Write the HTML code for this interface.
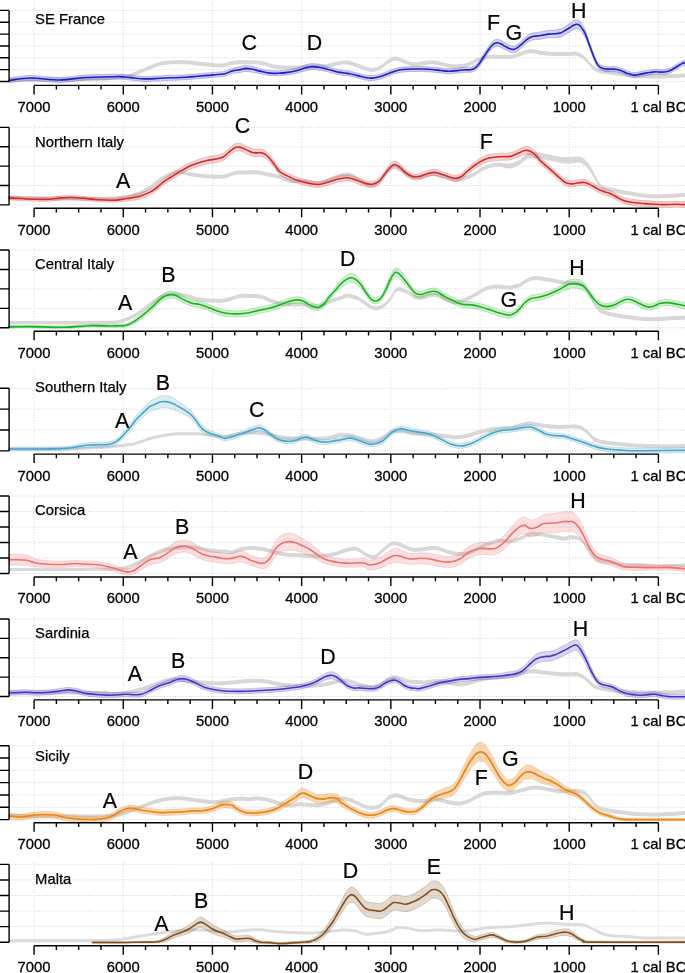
<!DOCTYPE html><html><head><meta charset="utf-8"><style>html,body{margin:0;padding:0;background:#fff;width:685px;height:973px;overflow:hidden}svg{display:block;will-change:transform}text{font-family:"Liberation Sans",sans-serif;fill:#000}</style></head><body>
<svg width="685" height="973" viewBox="0 0 685 973">
<g><path d="M9.1,10.40H685 M9.1,22.25H685 M9.1,34.10H685 M9.1,45.95H685 M9.1,57.80H685 M9.1,69.65H685 M9.1,81.50H685 M658.40,2.4V85.4 M569.21,2.4V85.4 M480.02,2.4V85.4 M390.83,2.4V85.4 M301.64,2.4V85.4 M212.45,2.4V85.4 M123.26,2.4V85.4 M34.07,2.4V85.4" stroke="#d3d3d3" stroke-width="1" stroke-dasharray="1 1.72" fill="none"/><path d="M9.0,78.2 C17.5,78.1 44.8,77.8 60.0,77.6 C75.2,77.4 90.0,77.2 100.0,76.8 C110.0,76.4 115.2,75.7 120.0,75.2 C124.8,74.7 125.9,74.6 128.8,73.9 C131.7,73.2 134.6,72.0 137.5,70.8 C140.4,69.6 143.4,68.1 146.3,66.9 C149.2,65.7 152.1,64.4 155.0,63.4 C157.9,62.4 160.9,61.6 163.8,61.1 C166.7,60.6 169.7,60.4 172.6,60.3 C175.5,60.2 178.4,60.2 181.3,60.3 C184.2,60.3 187.2,60.4 190.1,60.6 C193.0,60.8 195.9,61.4 198.8,61.7 C201.7,62.0 204.7,62.1 207.6,62.4 C210.5,62.7 213.5,63.3 216.4,63.4 C219.3,63.5 222.0,63.4 225.1,62.9 C228.2,62.4 231.9,61.0 235.0,60.6 C238.1,60.2 240.9,60.3 243.8,60.3 C246.7,60.2 249.6,60.2 252.5,60.3 C255.4,60.4 258.4,60.6 261.3,61.1 C264.2,61.6 267.1,62.7 270.0,63.4 C272.9,64.1 275.9,64.9 278.8,65.2 C281.7,65.5 284.7,65.5 287.6,65.5 C290.5,65.5 293.4,65.5 296.3,65.5 C299.2,65.5 302.2,65.4 305.1,65.2 C308.0,65.0 310.9,64.7 313.8,64.6 C316.7,64.5 319.7,64.9 322.6,64.6 C325.5,64.3 328.5,63.5 331.4,62.9 C334.3,62.3 337.8,61.5 340.1,61.1 C342.4,60.7 343.4,60.6 345.0,60.6 C346.6,60.6 347.9,60.4 350.0,60.9 C352.1,61.4 355.1,62.6 357.6,63.6 C360.1,64.5 362.7,65.9 365.2,66.6 C367.7,67.3 370.3,68.1 372.8,67.9 C375.3,67.7 377.9,66.8 380.4,65.5 C382.9,64.2 385.5,61.3 388.0,59.8 C390.5,58.3 393.0,56.6 395.5,56.5 C398.0,56.4 400.6,58.1 403.1,59.0 C405.6,59.9 407.9,61.2 410.7,61.7 C413.5,62.2 416.7,61.9 420.2,61.7 C423.7,61.5 428.1,60.3 431.6,60.3 C435.1,60.3 437.9,61.1 441.1,61.7 C444.3,62.3 447.4,63.7 450.6,64.1 C453.8,64.5 457.7,64.2 460.1,64.1 C462.5,64.0 463.4,63.7 465.0,63.3 C466.6,62.9 468.1,62.5 470.0,61.7 C471.9,60.9 474.1,59.6 476.1,58.6 C478.2,57.6 480.0,56.6 482.3,56.0 C484.6,55.4 487.3,55.0 489.9,54.8 C492.4,54.6 495.0,54.8 497.6,54.8 C500.2,54.8 502.8,55.1 505.3,55.1 C507.9,55.1 510.3,55.0 512.9,54.5 C515.4,54.0 518.0,52.9 520.6,52.0 C523.2,51.1 525.9,49.8 528.2,49.4 C530.5,49.0 532.1,49.1 534.4,49.4 C536.7,49.7 539.2,50.6 542.0,51.0 C544.8,51.4 547.9,51.8 551.2,52.0 C554.5,52.2 558.9,52.0 562.0,52.0 C565.1,52.0 567.8,52.1 570.0,52.0 C572.2,51.9 573.5,51.3 575.3,51.5 C577.0,51.7 578.9,52.4 580.5,53.3 C582.1,54.2 583.4,55.4 584.9,56.8 C586.4,58.2 587.8,60.1 589.3,61.6 C590.8,63.1 592.1,64.8 593.6,66.0 C595.1,67.2 596.4,68.0 598.0,68.6 C599.6,69.2 601.4,69.5 603.3,69.8 C605.2,70.1 607.2,70.1 609.4,70.4 C611.6,70.7 614.2,71.1 616.4,71.4 C618.6,71.7 620.3,72.0 622.6,72.3 C624.9,72.6 627.1,72.9 630.0,73.2 C632.9,73.5 635.0,74.0 640.0,74.2 C645.0,74.4 652.5,74.6 660.0,74.5 C667.5,74.4 680.8,73.7 685.0,73.5 L685.0,77.5 C680.8,77.7 667.5,78.4 660.0,78.5 C652.5,78.6 645.0,78.4 640.0,78.2 C635.0,78.0 632.9,77.5 630.0,77.2 C627.1,76.9 624.9,76.6 622.6,76.3 C620.3,76.0 618.6,75.7 616.4,75.4 C614.2,75.1 611.6,74.7 609.4,74.4 C607.2,74.1 605.2,74.1 603.3,73.8 C601.4,73.5 599.6,73.2 598.0,72.6 C596.4,72.0 595.1,71.2 593.6,70.0 C592.1,68.8 590.8,67.1 589.3,65.6 C587.8,64.1 586.4,62.2 584.9,60.8 C583.4,59.4 582.1,58.2 580.5,57.3 C578.9,56.4 577.0,55.7 575.3,55.5 C573.5,55.3 572.2,55.9 570.0,56.0 C567.8,56.1 565.1,56.0 562.0,56.0 C558.9,56.0 554.5,56.2 551.2,56.0 C547.9,55.8 544.8,55.4 542.0,55.0 C539.2,54.6 536.7,53.7 534.4,53.4 C532.1,53.1 530.5,53.0 528.2,53.4 C525.9,53.8 523.2,55.1 520.6,56.0 C518.0,56.9 515.4,58.0 512.9,58.5 C510.3,59.0 507.9,59.1 505.3,59.1 C502.8,59.1 500.2,58.8 497.6,58.8 C495.0,58.8 492.4,58.6 489.9,58.8 C487.3,59.0 484.6,59.4 482.3,60.0 C480.0,60.6 478.2,61.6 476.1,62.6 C474.1,63.6 471.9,64.9 470.0,65.7 C468.1,66.5 466.6,66.9 465.0,67.3 C463.4,67.7 462.5,68.0 460.1,68.1 C457.7,68.2 453.8,68.5 450.6,68.1 C447.4,67.7 444.3,66.3 441.1,65.7 C437.9,65.1 435.1,64.3 431.6,64.3 C428.1,64.3 423.7,65.5 420.2,65.7 C416.7,65.9 413.5,66.2 410.7,65.7 C407.9,65.2 405.6,63.9 403.1,63.0 C400.6,62.1 398.0,60.4 395.5,60.5 C393.0,60.6 390.5,62.3 388.0,63.8 C385.5,65.3 382.9,68.2 380.4,69.5 C377.9,70.8 375.3,71.7 372.8,71.9 C370.3,72.1 367.7,71.3 365.2,70.6 C362.7,69.9 360.1,68.5 357.6,67.6 C355.1,66.6 352.1,65.4 350.0,64.9 C347.9,64.4 346.6,64.6 345.0,64.6 C343.4,64.6 342.4,64.7 340.1,65.1 C337.8,65.5 334.3,66.3 331.4,66.9 C328.5,67.5 325.5,68.3 322.6,68.6 C319.7,68.9 316.7,68.5 313.8,68.6 C310.9,68.7 308.0,69.0 305.1,69.2 C302.2,69.4 299.2,69.5 296.3,69.5 C293.4,69.5 290.5,69.5 287.6,69.5 C284.7,69.5 281.7,69.5 278.8,69.2 C275.9,68.9 272.9,68.1 270.0,67.4 C267.1,66.7 264.2,65.6 261.3,65.1 C258.4,64.6 255.4,64.4 252.5,64.3 C249.6,64.2 246.7,64.2 243.8,64.3 C240.9,64.3 238.1,64.2 235.0,64.6 C231.9,65.0 228.2,66.4 225.1,66.9 C222.0,67.4 219.3,67.5 216.4,67.4 C213.5,67.3 210.5,66.7 207.6,66.4 C204.7,66.1 201.7,66.0 198.8,65.7 C195.9,65.4 193.0,64.8 190.1,64.6 C187.2,64.4 184.2,64.3 181.3,64.3 C178.4,64.2 175.5,64.2 172.6,64.3 C169.7,64.4 166.7,64.6 163.8,65.1 C160.9,65.6 157.9,66.4 155.0,67.4 C152.1,68.4 149.2,69.7 146.3,70.9 C143.4,72.1 140.4,73.6 137.5,74.8 C134.6,76.0 131.7,77.2 128.8,77.9 C125.9,78.6 124.8,78.7 120.0,79.2 C115.2,79.7 110.0,80.4 100.0,80.8 C90.0,81.2 75.2,81.4 60.0,81.6 C44.8,81.8 17.5,82.1 9.0,82.2 Z" fill="#d8d8d8" stroke="none"/><path d="M9.0,78.0 C12.5,77.6 21.5,75.6 30.0,75.5 C38.5,75.4 50.8,77.6 60.0,77.5 C69.2,77.4 76.7,75.5 85.0,75.0 C93.3,74.5 104.2,74.5 110.0,74.3 C115.8,74.1 117.2,74.0 120.0,74.1 C122.8,74.2 124.7,74.5 127.0,74.7 C129.3,74.9 131.1,75.2 134.0,75.5 C136.9,75.8 141.0,76.3 144.5,76.4 C148.0,76.5 151.5,76.2 155.0,76.1 C158.5,75.9 162.0,75.7 165.5,75.5 C169.0,75.3 172.5,75.3 176.0,75.2 C179.5,75.1 183.1,74.9 186.6,74.7 C190.1,74.5 193.6,74.1 197.1,73.8 C200.6,73.5 204.1,73.2 207.6,72.9 C211.1,72.6 215.2,72.3 218.1,72.0 C221.0,71.7 222.8,71.8 225.1,71.2 C227.4,70.6 229.6,69.3 232.1,68.5 C234.6,67.7 238.1,67.1 240.3,66.6 C242.5,66.1 243.5,65.5 245.5,65.4 C247.5,65.4 249.9,65.7 252.5,66.3 C255.1,66.9 258.4,68.2 261.3,68.9 C264.2,69.6 267.1,70.3 270.0,70.6 C272.9,70.9 275.9,70.9 278.8,70.8 C281.7,70.7 284.7,70.3 287.6,69.9 C290.5,69.5 293.4,69.0 296.3,68.2 C299.2,67.4 302.5,65.8 305.1,65.0 C307.7,64.2 309.8,63.7 312.1,63.6 C314.4,63.5 316.8,63.7 319.1,64.2 C321.4,64.7 323.8,65.7 326.1,66.4 C328.4,67.1 330.8,67.6 333.1,68.2 C335.4,68.8 338.0,69.5 340.1,69.9 C342.2,70.3 344.4,70.5 346.0,70.7 C347.6,70.9 348.1,70.8 350.0,71.2 C351.9,71.6 355.1,72.5 357.6,73.1 C360.1,73.7 362.7,74.6 365.2,75.0 C367.7,75.4 370.3,75.8 372.8,75.6 C375.3,75.4 377.9,74.8 380.4,74.1 C382.9,73.4 385.5,72.2 388.0,71.2 C390.5,70.2 393.0,69.1 395.5,68.4 C398.0,67.7 400.2,67.3 403.1,67.0 C406.0,66.7 409.4,66.6 412.6,66.5 C415.8,66.4 418.9,66.4 422.1,66.5 C425.3,66.6 428.4,66.8 431.6,67.0 C434.8,67.2 438.2,67.7 441.1,68.0 C444.0,68.3 445.9,68.8 448.7,68.8 C451.5,68.8 455.5,68.2 458.2,68.0 C460.9,67.8 463.0,67.4 465.0,67.3 C467.0,67.2 468.4,67.5 470.0,67.3 C471.6,67.0 473.1,66.9 474.6,65.8 C476.1,64.7 477.7,62.9 479.2,60.9 C480.7,58.9 482.3,56.2 483.8,53.8 C485.3,51.4 486.9,48.8 488.4,46.7 C489.9,44.6 491.6,42.4 493.0,41.1 C494.4,39.9 495.5,39.3 496.8,39.2 C498.1,39.1 499.3,39.7 500.7,40.3 C502.1,40.9 503.8,42.1 505.3,43.0 C506.8,43.9 508.5,45.0 509.9,45.5 C511.3,46.0 512.4,46.3 513.7,46.1 C515.0,45.9 516.1,45.3 517.5,44.3 C518.9,43.4 520.6,41.8 522.1,40.4 C523.6,39.0 525.2,37.3 526.7,36.1 C528.2,34.9 529.8,34.0 531.3,33.4 C532.8,32.8 534.1,32.9 535.9,32.6 C537.7,32.3 540.0,32.1 542.0,31.7 C544.0,31.3 546.2,30.7 548.2,30.4 C550.2,30.1 552.3,30.2 554.3,30.0 C556.3,29.8 558.6,29.7 560.4,29.1 C562.2,28.5 563.4,27.5 565.0,26.5 C566.6,25.5 568.6,24.2 570.0,23.3 C571.4,22.4 572.4,21.5 573.5,20.9 C574.6,20.3 575.6,19.8 576.6,19.8 C577.6,19.8 578.5,19.8 579.6,20.8 C580.7,21.8 582.1,24.1 583.1,25.9 C584.1,27.7 584.9,29.4 585.8,31.6 C586.7,33.8 587.5,36.7 588.4,39.2 C589.3,41.7 590.1,44.0 591.0,46.4 C591.9,48.8 592.7,51.5 593.6,53.7 C594.5,55.9 595.4,58.1 596.3,59.8 C597.2,61.5 597.9,62.7 598.9,63.7 C599.9,64.7 601.1,65.3 602.4,65.8 C603.7,66.3 605.2,66.5 606.8,66.6 C608.4,66.7 610.2,66.5 612.0,66.6 C613.8,66.7 615.5,66.6 617.3,67.0 C619.1,67.4 620.9,68.1 622.6,68.8 C624.4,69.5 626.2,70.5 627.8,71.1 C629.4,71.7 630.7,72.0 632.0,72.3 C633.3,72.5 634.0,72.7 635.4,72.6 C636.8,72.5 638.8,71.9 640.5,71.6 C642.2,71.3 644.0,70.9 645.7,70.6 C647.4,70.3 649.1,70.1 650.8,69.9 C652.5,69.7 654.2,69.3 655.9,69.3 C657.6,69.2 659.3,69.6 661.0,69.6 C662.7,69.6 664.4,69.6 666.1,69.3 C667.8,69.0 669.5,68.3 671.2,67.5 C672.9,66.7 674.6,65.5 676.3,64.5 C678.0,63.5 679.9,62.1 681.4,61.4 C682.9,60.7 684.4,60.3 685.0,60.1 L685.0,65.1 C684.4,65.3 682.9,65.7 681.4,66.4 C679.9,67.1 678.0,68.5 676.3,69.5 C674.6,70.5 672.9,71.7 671.2,72.5 C669.5,73.3 667.8,74.0 666.1,74.3 C664.4,74.6 662.7,74.6 661.0,74.6 C659.3,74.6 657.6,74.2 655.9,74.3 C654.2,74.3 652.5,74.7 650.8,74.9 C649.1,75.1 647.4,75.3 645.7,75.6 C644.0,75.9 642.2,76.3 640.5,76.6 C638.8,76.9 636.8,77.5 635.4,77.6 C634.0,77.7 633.3,77.5 632.0,77.3 C630.7,77.0 629.4,76.7 627.8,76.1 C626.2,75.5 624.4,74.5 622.6,73.8 C620.9,73.1 619.1,72.4 617.3,72.0 C615.5,71.6 613.8,71.7 612.0,71.6 C610.2,71.5 608.4,71.7 606.8,71.6 C605.2,71.5 603.7,71.3 602.4,70.8 C601.1,70.3 599.9,69.7 598.9,68.7 C597.9,67.7 597.2,66.5 596.3,64.8 C595.4,63.1 594.5,60.8 593.6,58.7 C592.7,56.6 591.9,54.2 591.0,52.0 C590.1,49.8 589.3,47.4 588.4,45.2 C587.5,43.0 586.7,40.5 585.8,38.6 C584.9,36.7 584.1,35.4 583.1,33.9 C582.1,32.4 580.7,30.6 579.6,29.8 C578.5,29.0 577.6,28.8 576.6,28.8 C575.6,28.8 574.6,29.2 573.5,29.7 C572.4,30.2 571.4,30.9 570.0,31.7 C568.6,32.5 566.6,33.6 565.0,34.5 C563.4,35.4 562.2,36.4 560.4,36.9 C558.6,37.4 556.3,37.4 554.3,37.6 C552.3,37.7 550.2,37.6 548.2,37.8 C546.2,38.0 544.0,38.6 542.0,38.9 C540.0,39.2 537.7,39.4 535.9,39.6 C534.1,39.9 532.8,39.8 531.3,40.4 C529.8,41.0 528.2,42.0 526.7,43.1 C525.2,44.2 523.6,45.9 522.1,47.2 C520.6,48.5 518.9,50.0 517.5,50.9 C516.1,51.8 515.0,52.5 513.7,52.7 C512.4,52.9 511.3,52.6 509.9,52.1 C508.5,51.6 506.8,50.6 505.3,49.8 C503.8,49.0 502.1,47.9 500.7,47.3 C499.3,46.7 498.1,46.1 496.8,46.2 C495.5,46.3 494.4,46.8 493.0,47.9 C491.6,49.0 489.9,51.1 488.4,53.1 C486.9,55.1 485.3,57.6 483.8,59.8 C482.3,62.0 480.7,64.7 479.2,66.5 C477.7,68.3 476.1,69.8 474.6,70.8 C473.1,71.8 471.6,72.0 470.0,72.3 C468.4,72.5 467.0,72.2 465.0,72.3 C463.0,72.4 460.9,72.8 458.2,73.0 C455.5,73.2 451.5,73.8 448.7,73.8 C445.9,73.8 444.0,73.3 441.1,73.0 C438.2,72.7 434.8,72.2 431.6,72.0 C428.4,71.8 425.3,71.6 422.1,71.5 C418.9,71.4 415.8,71.4 412.6,71.5 C409.4,71.6 406.0,71.7 403.1,72.0 C400.2,72.3 398.0,72.7 395.5,73.4 C393.0,74.1 390.5,75.2 388.0,76.2 C385.5,77.2 382.9,78.4 380.4,79.1 C377.9,79.8 375.3,80.4 372.8,80.6 C370.3,80.8 367.7,80.4 365.2,80.0 C362.7,79.6 360.1,78.7 357.6,78.1 C355.1,77.5 351.9,76.6 350.0,76.2 C348.1,75.8 347.6,75.9 346.0,75.7 C344.4,75.5 342.2,75.3 340.1,74.9 C338.0,74.5 335.4,73.8 333.1,73.2 C330.8,72.6 328.4,71.9 326.1,71.4 C323.8,70.9 321.4,70.5 319.1,70.2 C316.8,69.9 314.4,69.5 312.1,69.6 C309.8,69.7 307.7,70.4 305.1,71.0 C302.5,71.6 299.2,72.5 296.3,73.2 C293.4,73.9 290.5,74.5 287.6,74.9 C284.7,75.3 281.7,75.7 278.8,75.8 C275.9,75.9 272.9,75.9 270.0,75.6 C267.1,75.3 264.2,74.5 261.3,73.9 C258.4,73.4 255.1,72.7 252.5,72.3 C249.9,71.9 247.5,71.4 245.5,71.4 C243.5,71.5 242.5,72.2 240.3,72.6 C238.1,72.9 234.6,72.9 232.1,73.5 C229.6,74.1 227.4,75.6 225.1,76.2 C222.8,76.8 221.0,76.7 218.1,77.0 C215.2,77.3 211.1,77.6 207.6,77.9 C204.1,78.2 200.6,78.5 197.1,78.8 C193.6,79.1 190.1,79.5 186.6,79.7 C183.1,79.9 179.5,80.1 176.0,80.2 C172.5,80.3 169.0,80.3 165.5,80.5 C162.0,80.7 158.5,80.9 155.0,81.1 C151.5,81.2 148.0,81.5 144.5,81.4 C141.0,81.3 136.9,80.8 134.0,80.5 C131.1,80.2 129.3,79.9 127.0,79.7 C124.7,79.5 122.8,79.2 120.0,79.1 C117.2,79.0 115.8,79.1 110.0,79.3 C104.2,79.5 93.3,79.5 85.0,80.0 C76.7,80.5 69.2,82.4 60.0,82.5 C50.8,82.6 38.5,80.4 30.0,80.5 C21.5,80.6 12.5,82.6 9.0,83.0 Z" fill="#1e1ec8" fill-opacity="0.2" stroke="#1e1ec8" stroke-opacity="0.25" stroke-width="1"/><path d="M9.0,80.5 C12.5,80.1 21.5,78.1 30.0,78.0 C38.5,77.9 50.8,80.1 60.0,80.0 C69.2,79.9 76.7,78.0 85.0,77.5 C93.3,77.0 104.2,77.0 110.0,76.8 C115.8,76.6 117.2,76.5 120.0,76.6 C122.8,76.7 124.7,77.0 127.0,77.2 C129.3,77.4 131.1,77.7 134.0,78.0 C136.9,78.3 141.0,78.8 144.5,78.9 C148.0,79.0 151.5,78.8 155.0,78.6 C158.5,78.4 162.0,78.2 165.5,78.0 C169.0,77.8 172.5,77.8 176.0,77.7 C179.5,77.6 183.1,77.4 186.6,77.2 C190.1,77.0 193.6,76.6 197.1,76.3 C200.6,76.0 204.1,75.7 207.6,75.4 C211.1,75.1 215.2,74.8 218.1,74.5 C221.0,74.2 222.8,74.3 225.1,73.7 C227.4,73.1 229.6,71.7 232.1,71.0 C234.6,70.3 238.1,70.0 240.3,69.6 C242.5,69.2 243.5,68.5 245.5,68.4 C247.5,68.4 249.9,68.8 252.5,69.3 C255.1,69.8 258.4,70.8 261.3,71.4 C264.2,72.0 267.1,72.8 270.0,73.1 C272.9,73.4 275.9,73.4 278.8,73.3 C281.7,73.2 284.7,72.8 287.6,72.4 C290.5,72.0 293.4,71.4 296.3,70.7 C299.2,70.0 302.5,68.7 305.1,68.0 C307.7,67.3 309.8,66.7 312.1,66.6 C314.4,66.5 316.8,66.8 319.1,67.2 C321.4,67.6 323.8,68.3 326.1,68.9 C328.4,69.5 330.8,70.1 333.1,70.7 C335.4,71.3 338.0,72.0 340.1,72.4 C342.2,72.8 344.4,73.0 346.0,73.2 C347.6,73.4 348.1,73.3 350.0,73.7 C351.9,74.1 355.1,75.0 357.6,75.6 C360.1,76.2 362.7,77.1 365.2,77.5 C367.7,77.9 370.3,78.2 372.8,78.1 C375.3,77.9 377.9,77.3 380.4,76.6 C382.9,75.9 385.5,74.7 388.0,73.7 C390.5,72.8 393.0,71.6 395.5,70.9 C398.0,70.2 400.2,69.8 403.1,69.5 C406.0,69.2 409.4,69.1 412.6,69.0 C415.8,68.9 418.9,68.9 422.1,69.0 C425.3,69.1 428.4,69.2 431.6,69.5 C434.8,69.8 438.2,70.2 441.1,70.5 C444.0,70.8 445.9,71.3 448.7,71.3 C451.5,71.3 455.5,70.8 458.2,70.5 C460.9,70.2 463.0,69.9 465.0,69.8 C467.0,69.7 468.4,70.0 470.0,69.8 C471.6,69.5 473.1,69.3 474.6,68.3 C476.1,67.3 477.7,65.6 479.2,63.7 C480.7,61.8 482.3,59.1 483.8,56.8 C485.3,54.5 486.9,51.9 488.4,49.9 C489.9,47.9 491.6,45.7 493.0,44.5 C494.4,43.3 495.5,42.8 496.8,42.7 C498.1,42.6 499.3,43.2 500.7,43.8 C502.1,44.4 503.8,45.6 505.3,46.4 C506.8,47.2 508.5,48.3 509.9,48.8 C511.3,49.3 512.4,49.6 513.7,49.4 C515.0,49.2 516.1,48.5 517.5,47.6 C518.9,46.7 520.6,45.1 522.1,43.8 C523.6,42.5 525.2,40.8 526.7,39.6 C528.2,38.5 529.8,37.5 531.3,36.9 C532.8,36.3 534.1,36.4 535.9,36.1 C537.7,35.8 540.0,35.6 542.0,35.3 C544.0,35.0 546.2,34.4 548.2,34.1 C550.2,33.9 552.3,34.0 554.3,33.8 C556.3,33.6 558.6,33.5 560.4,33.0 C562.2,32.5 563.4,31.4 565.0,30.5 C566.6,29.6 568.6,28.4 570.0,27.5 C571.4,26.6 572.4,25.8 573.5,25.3 C574.6,24.8 575.6,24.3 576.6,24.3 C577.6,24.3 578.5,24.4 579.6,25.3 C580.7,26.2 582.1,28.3 583.1,29.9 C584.1,31.5 584.9,33.0 585.8,35.1 C586.7,37.2 587.5,39.9 588.4,42.2 C589.3,44.6 590.1,46.9 591.0,49.2 C591.9,51.5 592.7,54.0 593.6,56.2 C594.5,58.4 595.4,60.6 596.3,62.3 C597.2,64.0 597.9,65.2 598.9,66.2 C599.9,67.2 601.1,67.8 602.4,68.3 C603.7,68.8 605.2,69.0 606.8,69.1 C608.4,69.2 610.2,69.0 612.0,69.1 C613.8,69.2 615.5,69.1 617.3,69.5 C619.1,69.9 620.9,70.6 622.6,71.3 C624.4,72.0 626.2,73.0 627.8,73.6 C629.4,74.2 630.7,74.5 632.0,74.8 C633.3,75.0 634.0,75.2 635.4,75.1 C636.8,75.0 638.8,74.4 640.5,74.1 C642.2,73.8 644.0,73.4 645.7,73.1 C647.4,72.8 649.1,72.6 650.8,72.4 C652.5,72.2 654.2,71.8 655.9,71.8 C657.6,71.8 659.3,72.1 661.0,72.1 C662.7,72.1 664.4,72.1 666.1,71.8 C667.8,71.5 669.5,70.8 671.2,70.0 C672.9,69.2 674.6,68.0 676.3,67.0 C678.0,66.0 679.9,64.6 681.4,63.9 C682.9,63.2 684.4,62.8 685.0,62.6" stroke="#1e1ec8" stroke-width="1.6" fill="none" stroke-linejoin="round" stroke-linecap="round"/><path d="M9.10,10.40V81.50 M0,10.40H9.10 M0,22.25H9.10 M0,34.10H9.10 M0,45.95H9.10 M0,57.80H9.10 M0,69.65H9.10 M0,81.50H9.10 M34.07,85.40H658.40 M658.40,85.40V94.40 M636.10,85.40V89.60 M613.80,85.40V89.60 M591.51,85.40V89.60 M569.21,85.40V94.40 M546.91,85.40V89.60 M524.62,85.40V89.60 M502.32,85.40V89.60 M480.02,85.40V94.40 M457.72,85.40V89.60 M435.42,85.40V89.60 M413.13,85.40V89.60 M390.83,85.40V94.40 M368.53,85.40V89.60 M346.23,85.40V89.60 M323.94,85.40V89.60 M301.64,85.40V94.40 M279.34,85.40V89.60 M257.04,85.40V89.60 M234.75,85.40V89.60 M212.45,85.40V94.40 M190.15,85.40V89.60 M167.85,85.40V89.60 M145.56,85.40V89.60 M123.26,85.40V94.40 M100.96,85.40V89.60 M78.66,85.40V89.60 M56.37,85.40V89.60 M34.07,85.40V94.40" stroke="#000" stroke-width="1.4" fill="none" stroke-linecap="butt"/><text x="658.40" y="111.85" font-size="14.8" text-anchor="middle" stroke="#000" stroke-width="0.3">1 cal BC</text><text x="569.21" y="111.85" font-size="14.8" text-anchor="middle" stroke="#000" stroke-width="0.3">1000</text><text x="480.02" y="111.85" font-size="14.8" text-anchor="middle" stroke="#000" stroke-width="0.3">2000</text><text x="390.83" y="111.85" font-size="14.8" text-anchor="middle" stroke="#000" stroke-width="0.3">3000</text><text x="301.64" y="111.85" font-size="14.8" text-anchor="middle" stroke="#000" stroke-width="0.3">4000</text><text x="212.45" y="111.85" font-size="14.8" text-anchor="middle" stroke="#000" stroke-width="0.3">5000</text><text x="123.26" y="111.85" font-size="14.8" text-anchor="middle" stroke="#000" stroke-width="0.3">6000</text><text x="34.07" y="111.85" font-size="14.8" text-anchor="middle" stroke="#000" stroke-width="0.3">7000</text><text x="35.1" y="23.60" font-size="14.8" stroke="#000" stroke-width="0.25">SE France</text><text x="249.20" y="50.30" font-size="21.4" text-anchor="middle" stroke="#000" stroke-width="0.2">C</text><text x="314.40" y="50.10" font-size="21.4" text-anchor="middle" stroke="#000" stroke-width="0.2">D</text><text x="493.50" y="29.90" font-size="21.4" text-anchor="middle" stroke="#000" stroke-width="0.2">F</text><text x="513.70" y="39.90" font-size="21.4" text-anchor="middle" stroke="#000" stroke-width="0.2">G</text><text x="578.80" y="17.80" font-size="21.4" text-anchor="middle" stroke="#000" stroke-width="0.2">H</text></g>
<g><path d="M9.1,127.40H685 M9.1,146.78H685 M9.1,166.15H685 M9.1,185.53H685 M9.1,204.90H685 M658.40,125.3V208.3 M569.21,125.3V208.3 M480.02,125.3V208.3 M390.83,125.3V208.3 M301.64,125.3V208.3 M212.45,125.3V208.3 M123.26,125.3V208.3 M34.07,125.3V208.3" stroke="#d3d3d3" stroke-width="1" stroke-dasharray="1 1.72" fill="none"/><path d="M9.0,196.0 C17.5,196.1 44.8,196.4 60.0,196.5 C75.2,196.6 91.7,196.8 100.0,196.8 C108.3,196.8 105.0,197.1 110.0,196.7 C115.0,196.3 125.0,195.1 130.0,194.2 C135.0,193.3 136.7,192.5 140.0,191.1 C143.3,189.7 146.7,187.7 150.0,185.5 C153.3,183.3 156.7,180.0 160.0,177.8 C163.3,175.6 166.7,173.5 170.0,172.2 C173.3,170.9 176.7,170.0 180.0,170.0 C183.3,170.0 185.8,171.5 190.0,172.2 C194.2,172.9 199.4,173.8 205.0,174.2 C210.6,174.6 218.4,175.0 223.4,174.5 C228.4,174.0 231.1,171.7 235.0,171.0 C238.9,170.3 242.8,170.6 246.7,170.5 C250.6,170.4 254.5,170.1 258.4,170.5 C262.3,170.9 266.4,172.0 270.0,172.8 C273.6,173.6 276.7,174.1 280.0,175.1 C283.3,176.1 286.7,178.2 290.0,178.9 C293.3,179.6 296.7,178.7 300.0,179.0 C303.3,179.3 306.9,180.1 310.0,180.5 C313.1,180.9 315.7,181.7 318.7,181.4 C321.7,181.1 324.9,179.7 328.0,178.5 C331.1,177.3 334.3,175.4 337.4,174.4 C340.5,173.4 344.3,172.8 346.7,172.6 C349.1,172.4 350.1,172.7 352.0,173.5 C353.9,174.3 356.2,176.0 358.4,177.3 C360.6,178.6 362.7,180.5 365.0,181.5 C367.3,182.5 370.2,183.2 372.4,183.1 C374.6,183.0 376.0,182.7 378.0,181.0 C380.0,179.3 381.8,175.8 384.4,172.9 C387.0,170.0 391.0,164.5 393.7,163.5 C396.4,162.5 398.0,165.2 400.7,167.0 C403.4,168.8 407.0,172.6 410.1,174.0 C413.2,175.4 415.9,175.5 419.4,175.2 C422.9,174.9 427.2,172.4 431.1,172.2 C435.0,172.0 438.9,173.1 442.8,174.0 C446.7,174.9 451.0,177.1 454.5,177.5 C458.0,177.9 460.7,177.2 463.8,176.4 C466.9,175.6 470.0,174.5 473.1,172.9 C476.2,171.3 479.4,168.6 482.5,167.0 C485.6,165.4 488.9,164.2 491.8,163.5 C494.7,162.8 497.0,162.8 500.0,162.8 C503.0,162.8 506.7,164.1 510.0,163.5 C513.3,162.9 517.0,161.2 520.0,159.4 C523.0,157.7 525.5,154.2 528.0,153.0 C530.5,151.8 532.2,152.2 535.0,152.3 C537.8,152.4 541.7,153.2 545.0,153.8 C548.3,154.4 551.7,155.1 555.0,155.7 C558.3,156.3 561.7,157.1 565.0,157.2 C568.3,157.3 572.5,156.6 575.0,156.5 C577.5,156.4 578.3,156.2 580.0,156.7 C581.7,157.2 583.3,158.1 585.0,159.6 C586.7,161.1 588.3,163.2 590.0,165.7 C591.7,168.2 593.3,171.8 595.0,174.7 C596.7,177.6 598.3,181.2 600.0,183.1 C601.7,185.0 602.5,185.3 605.0,186.2 C607.5,187.1 611.7,187.7 615.0,188.4 C618.3,189.1 620.8,189.8 625.0,190.6 C629.2,191.4 635.8,192.5 640.0,193.1 C644.2,193.7 646.7,194.1 650.0,194.3 C653.3,194.5 656.7,194.4 660.0,194.3 C663.3,194.2 665.8,194.2 670.0,194.0 C674.2,193.8 682.5,193.2 685.0,193.1 L685.0,197.1 C682.5,197.2 674.2,197.8 670.0,198.0 C665.8,198.2 663.3,198.2 660.0,198.3 C656.7,198.4 653.3,198.5 650.0,198.3 C646.7,198.1 644.2,197.7 640.0,197.1 C635.8,196.5 629.2,195.4 625.0,194.6 C620.8,193.8 618.3,193.1 615.0,192.4 C611.7,191.7 607.5,191.0 605.0,190.2 C602.5,189.4 601.7,189.2 600.0,187.5 C598.3,185.8 596.7,182.4 595.0,179.7 C593.3,177.0 591.7,173.7 590.0,171.3 C588.3,169.0 586.7,167.0 585.0,165.6 C583.3,164.2 581.7,163.1 580.0,162.7 C578.3,162.2 577.5,162.7 575.0,162.9 C572.5,163.0 568.3,163.8 565.0,163.6 C561.7,163.4 558.3,162.3 555.0,161.7 C551.7,161.1 548.3,160.4 545.0,159.8 C541.7,159.2 537.8,158.5 535.0,158.3 C532.2,158.1 530.5,157.6 528.0,158.6 C525.5,159.6 523.0,162.8 520.0,164.4 C517.0,166.1 513.3,168.1 510.0,168.5 C506.7,168.9 503.0,167.0 500.0,166.8 C497.0,166.6 494.7,166.8 491.8,167.5 C488.9,168.2 485.6,169.4 482.5,171.0 C479.4,172.6 476.2,175.3 473.1,176.9 C470.0,178.5 466.9,179.6 463.8,180.4 C460.7,181.2 458.0,181.9 454.5,181.5 C451.0,181.1 446.7,178.9 442.8,178.0 C438.9,177.1 435.0,176.0 431.1,176.2 C427.2,176.4 422.9,178.9 419.4,179.2 C415.9,179.5 413.2,179.4 410.1,178.0 C407.0,176.6 403.4,172.8 400.7,171.0 C398.0,169.2 396.4,166.5 393.7,167.5 C391.0,168.5 387.0,174.0 384.4,176.9 C381.8,179.8 380.0,183.3 378.0,185.0 C376.0,186.7 374.6,187.0 372.4,187.1 C370.2,187.2 367.3,186.5 365.0,185.5 C362.7,184.5 360.6,182.6 358.4,181.3 C356.2,180.0 353.9,178.3 352.0,177.5 C350.1,176.7 349.1,176.4 346.7,176.6 C344.3,176.8 340.5,177.4 337.4,178.4 C334.3,179.4 331.1,181.3 328.0,182.5 C324.9,183.7 321.7,185.1 318.7,185.4 C315.7,185.7 313.1,184.9 310.0,184.5 C306.9,184.1 303.3,183.3 300.0,183.0 C296.7,182.7 293.3,183.6 290.0,182.9 C286.7,182.2 283.3,180.1 280.0,179.1 C276.7,178.1 273.6,177.6 270.0,176.8 C266.4,176.0 262.3,174.9 258.4,174.5 C254.5,174.1 250.6,174.4 246.7,174.5 C242.8,174.6 238.9,174.3 235.0,175.0 C231.1,175.7 228.4,178.0 223.4,178.5 C218.4,179.0 210.6,178.6 205.0,178.2 C199.4,177.8 194.2,176.9 190.0,176.2 C185.8,175.5 183.3,174.0 180.0,174.0 C176.7,174.0 173.3,174.9 170.0,176.2 C166.7,177.5 163.3,179.6 160.0,181.8 C156.7,184.0 153.3,187.3 150.0,189.5 C146.7,191.7 143.3,193.7 140.0,195.1 C136.7,196.5 135.0,197.3 130.0,198.2 C125.0,199.1 115.0,200.3 110.0,200.7 C105.0,201.1 108.3,200.8 100.0,200.8 C91.7,200.8 75.2,200.6 60.0,200.5 C44.8,200.4 17.5,200.1 9.0,200.0 Z" fill="#d8d8d8" stroke="none"/><path d="M9.0,195.9 C13.2,196.1 27.5,197.0 34.2,197.2 C40.9,197.4 44.9,197.4 49.3,197.2 C53.7,197.0 56.9,196.2 60.7,195.9 C64.5,195.6 68.3,195.4 72.1,195.5 C75.9,195.6 79.1,195.9 83.5,196.3 C87.9,196.7 93.6,197.5 98.7,197.8 C103.8,198.1 110.1,198.3 113.9,198.2 C117.7,198.1 118.8,197.6 121.5,197.2 C124.2,196.8 126.9,196.3 130.0,195.6 C133.1,194.9 136.7,194.3 140.0,193.2 C143.3,192.1 147.5,190.3 150.0,189.1 C152.5,187.9 153.3,187.2 155.0,186.0 C156.7,184.8 158.3,183.3 160.0,181.9 C161.7,180.5 163.3,179.0 165.0,177.8 C166.7,176.6 168.3,175.8 170.0,174.8 C171.7,173.8 173.3,172.8 175.0,171.7 C176.7,170.6 177.5,169.7 180.0,168.2 C182.5,166.7 186.7,164.3 190.0,162.8 C193.3,161.3 197.4,159.9 200.0,159.0 C202.6,158.1 203.9,157.8 205.8,157.3 C207.8,156.8 209.8,156.4 211.7,156.1 C213.6,155.8 215.6,155.8 217.5,155.3 C219.4,154.8 221.7,154.1 223.4,153.1 C225.2,152.1 226.4,150.6 228.0,149.3 C229.6,148.0 231.3,146.3 232.7,145.3 C234.1,144.3 235.0,143.8 236.2,143.5 C237.4,143.2 238.5,143.1 239.7,143.3 C240.9,143.5 241.8,143.9 243.2,144.5 C244.6,145.1 246.3,146.1 247.9,146.8 C249.5,147.5 251.1,148.4 252.6,148.8 C254.1,149.2 255.8,149.1 257.2,149.1 C258.6,149.1 259.3,148.5 260.7,148.8 C262.1,149.1 263.8,149.6 265.4,150.7 C267.0,151.8 268.6,153.7 270.1,155.5 C271.7,157.3 273.1,159.4 274.7,161.6 C276.3,163.8 277.4,166.8 280.0,168.9 C282.6,171.0 287.0,172.8 290.0,174.2 C293.0,175.6 294.8,176.5 298.0,177.5 C301.2,178.5 305.9,179.7 309.3,180.4 C312.8,181.1 315.6,181.7 318.7,181.5 C321.8,181.3 324.9,180.1 328.0,179.2 C331.1,178.3 334.3,177.0 337.4,176.3 C340.5,175.6 344.4,174.9 346.7,174.8 C349.0,174.7 349.4,175.0 351.4,175.5 C353.3,176.0 356.1,177.2 358.4,178.0 C360.7,178.8 363.1,179.8 365.4,180.4 C367.7,181.0 370.0,181.8 372.4,181.3 C374.8,180.9 377.3,179.8 379.7,177.7 C382.1,175.5 384.4,171.1 386.7,168.4 C389.0,165.7 391.5,162.1 393.7,161.3 C395.9,160.5 397.7,162.2 399.6,163.6 C401.6,165.0 403.3,167.8 405.4,169.5 C407.5,171.2 410.1,172.8 412.4,173.5 C414.7,174.2 416.7,174.1 419.4,173.5 C422.1,172.9 426.1,170.9 428.8,170.2 C431.5,169.5 433.1,169.1 435.8,169.5 C438.5,169.9 442.0,171.6 445.1,172.6 C448.2,173.6 451.8,175.2 454.5,175.4 C457.2,175.6 459.2,174.9 461.5,173.5 C463.8,172.1 465.8,169.3 468.5,167.0 C471.2,164.7 474.7,161.7 477.8,159.7 C480.9,157.7 483.5,156.1 487.2,155.0 C490.9,153.9 496.2,153.7 500.0,153.3 C503.8,153.0 507.5,153.3 510.0,152.9 C512.5,152.5 513.3,151.8 515.0,151.1 C516.7,150.4 518.3,149.3 520.0,148.6 C521.7,147.9 523.3,146.9 525.0,146.7 C526.7,146.5 528.3,146.5 530.0,147.2 C531.7,147.9 533.3,149.4 535.0,151.1 C536.7,152.8 538.3,155.6 540.0,157.4 C541.7,159.2 543.3,160.3 545.0,161.8 C546.7,163.3 548.3,164.7 550.0,166.2 C551.7,167.7 553.3,169.1 555.0,170.6 C556.7,172.1 558.3,173.8 560.0,175.2 C561.7,176.6 563.3,178.4 565.0,179.3 C566.7,180.2 568.3,180.6 570.0,180.8 C571.7,181.0 573.3,180.7 575.0,180.5 C576.7,180.3 578.3,179.8 580.0,179.6 C581.7,179.4 583.3,179.2 585.0,179.5 C586.7,179.8 588.3,180.8 590.0,181.6 C591.7,182.4 593.3,183.4 595.0,184.3 C596.7,185.2 598.3,186.3 600.0,187.1 C601.7,187.9 603.3,188.3 605.0,188.9 C606.7,189.5 608.3,189.7 610.0,190.4 C611.7,191.1 613.3,192.1 615.0,193.0 C616.7,193.9 618.3,195.1 620.0,195.9 C621.7,196.7 622.5,197.2 625.0,197.9 C627.5,198.6 631.7,199.4 635.0,199.8 C638.3,200.2 641.7,200.3 645.0,200.6 C648.3,200.8 651.7,201.1 655.0,201.3 C658.3,201.5 661.7,201.6 665.0,201.6 C668.3,201.6 671.7,201.3 675.0,201.3 C678.3,201.3 683.3,201.6 685.0,201.6 L685.0,207.6 C683.3,207.6 678.3,207.3 675.0,207.3 C671.7,207.3 668.3,207.6 665.0,207.6 C661.7,207.6 658.3,207.5 655.0,207.3 C651.7,207.1 648.3,206.8 645.0,206.6 C641.7,206.3 638.3,206.2 635.0,205.8 C631.7,205.4 627.5,204.6 625.0,203.9 C622.5,203.2 621.7,202.7 620.0,201.9 C618.3,201.1 616.7,199.9 615.0,199.0 C613.3,198.1 611.7,197.1 610.0,196.4 C608.3,195.7 606.7,195.5 605.0,194.9 C603.3,194.3 601.7,193.9 600.0,193.1 C598.3,192.3 596.7,191.2 595.0,190.3 C593.3,189.4 591.7,188.4 590.0,187.6 C588.3,186.8 586.7,185.8 585.0,185.5 C583.3,185.2 581.7,185.4 580.0,185.6 C578.3,185.8 576.7,186.3 575.0,186.5 C573.3,186.7 571.7,187.0 570.0,186.8 C568.3,186.6 566.7,186.2 565.0,185.3 C563.3,184.4 561.7,182.6 560.0,181.2 C558.3,179.8 556.7,178.1 555.0,176.6 C553.3,175.1 551.7,173.7 550.0,172.2 C548.3,170.7 546.7,169.3 545.0,167.8 C543.3,166.3 541.7,165.0 540.0,163.4 C538.3,161.8 536.7,159.5 535.0,158.1 C533.3,156.7 531.7,155.4 530.0,154.8 C528.3,154.2 526.7,154.1 525.0,154.3 C523.3,154.5 521.7,155.6 520.0,156.2 C518.3,156.8 516.7,157.5 515.0,158.1 C513.3,158.7 512.5,159.5 510.0,159.9 C507.5,160.3 503.8,160.0 500.0,160.3 C496.2,160.7 490.9,160.9 487.2,162.0 C483.5,163.1 480.9,164.8 477.8,166.7 C474.7,168.6 471.2,171.3 468.5,173.4 C465.8,175.5 463.8,178.2 461.5,179.5 C459.2,180.8 457.2,181.6 454.5,181.4 C451.8,181.2 448.2,179.6 445.1,178.6 C442.0,177.6 438.5,175.9 435.8,175.5 C433.1,175.1 431.5,175.5 428.8,176.2 C426.1,176.9 422.1,178.9 419.4,179.5 C416.7,180.1 414.7,180.2 412.4,179.5 C410.1,178.8 407.5,177.0 405.4,175.5 C403.3,174.0 401.6,171.8 399.6,170.6 C397.7,169.4 395.9,167.7 393.7,168.3 C391.5,168.9 389.0,171.8 386.7,174.4 C384.4,177.0 382.1,181.5 379.7,183.7 C377.3,185.8 374.8,186.9 372.4,187.3 C370.0,187.8 367.7,187.0 365.4,186.4 C363.1,185.8 360.7,184.8 358.4,184.0 C356.1,183.2 353.3,182.0 351.4,181.5 C349.4,181.0 349.0,180.7 346.7,180.8 C344.4,180.9 340.5,181.6 337.4,182.3 C334.3,183.0 331.1,184.3 328.0,185.2 C324.9,186.1 321.8,187.3 318.7,187.5 C315.6,187.7 312.8,187.1 309.3,186.4 C305.9,185.7 301.2,184.5 298.0,183.5 C294.8,182.5 293.0,181.6 290.0,180.2 C287.0,178.8 282.6,176.9 280.0,174.9 C277.4,172.9 276.3,170.3 274.7,168.2 C273.1,166.1 271.7,164.2 270.1,162.5 C268.6,160.8 267.0,159.1 265.4,158.1 C263.8,157.1 262.1,156.6 260.7,156.4 C259.3,156.2 258.6,156.7 257.2,156.7 C255.8,156.7 254.1,156.8 252.6,156.4 C251.1,156.0 249.5,155.1 247.9,154.4 C246.3,153.7 244.6,152.7 243.2,152.1 C241.8,151.5 240.9,151.1 239.7,150.9 C238.5,150.7 237.4,150.8 236.2,151.1 C235.0,151.4 234.1,152.0 232.7,152.9 C231.3,153.8 229.6,155.5 228.0,156.7 C226.4,157.9 225.2,159.4 223.4,160.3 C221.7,161.2 219.4,161.8 217.5,162.3 C215.6,162.8 213.6,162.8 211.7,163.1 C209.8,163.4 207.8,163.8 205.8,164.3 C203.9,164.8 202.6,165.2 200.0,166.0 C197.4,166.8 193.3,167.8 190.0,169.2 C186.7,170.6 182.5,173.2 180.0,174.6 C177.5,176.0 176.7,176.7 175.0,177.7 C173.3,178.7 171.7,179.8 170.0,180.8 C168.3,181.8 166.7,182.6 165.0,183.8 C163.3,185.0 161.7,186.5 160.0,187.9 C158.3,189.3 156.7,190.8 155.0,192.0 C153.3,193.2 152.5,193.9 150.0,195.1 C147.5,196.3 143.3,198.3 140.0,199.2 C136.7,200.1 133.1,200.2 130.0,200.6 C126.9,201.0 124.2,201.3 121.5,201.6 C118.8,201.9 117.7,202.2 113.9,202.2 C110.1,202.2 103.8,202.1 98.7,201.8 C93.6,201.5 87.9,200.7 83.5,200.3 C79.1,199.9 75.9,199.6 72.1,199.5 C68.3,199.4 64.5,199.6 60.7,199.9 C56.9,200.2 53.7,201.0 49.3,201.2 C44.9,201.4 40.9,201.4 34.2,201.2 C27.5,201.0 13.2,200.1 9.0,199.9 Z" fill="#d42a2a" fill-opacity="0.2" stroke="#d42a2a" stroke-opacity="0.25" stroke-width="1"/><path d="M9.0,197.9 C13.2,198.1 27.5,199.0 34.2,199.2 C40.9,199.4 44.9,199.4 49.3,199.2 C53.7,199.0 56.9,198.2 60.7,197.9 C64.5,197.6 68.3,197.4 72.1,197.5 C75.9,197.6 79.1,197.9 83.5,198.3 C87.9,198.7 93.6,199.5 98.7,199.8 C103.8,200.1 110.1,200.3 113.9,200.2 C117.7,200.1 118.8,199.8 121.5,199.4 C124.2,199.1 126.9,198.6 130.0,198.1 C133.1,197.6 136.7,197.2 140.0,196.2 C143.3,195.2 147.5,193.3 150.0,192.1 C152.5,190.9 153.3,190.2 155.0,189.0 C156.7,187.8 158.3,186.3 160.0,184.9 C161.7,183.5 163.3,182.0 165.0,180.8 C166.7,179.6 168.3,178.8 170.0,177.8 C171.7,176.8 173.3,175.8 175.0,174.7 C176.7,173.6 177.5,172.8 180.0,171.4 C182.5,170.0 186.7,167.5 190.0,166.0 C193.3,164.5 197.4,163.4 200.0,162.5 C202.6,161.6 203.9,161.3 205.8,160.8 C207.8,160.3 209.8,159.9 211.7,159.6 C213.6,159.3 215.6,159.3 217.5,158.8 C219.4,158.3 221.7,157.7 223.4,156.7 C225.2,155.7 226.4,154.3 228.0,153.0 C229.6,151.7 231.3,150.0 232.7,149.1 C234.1,148.2 235.0,147.6 236.2,147.3 C237.4,147.0 238.5,146.9 239.7,147.1 C240.9,147.3 241.8,147.7 243.2,148.3 C244.6,148.9 246.3,149.9 247.9,150.6 C249.5,151.3 251.1,152.2 252.6,152.6 C254.1,153.0 255.8,152.9 257.2,152.9 C258.6,152.9 259.3,152.3 260.7,152.6 C262.1,152.8 263.8,153.3 265.4,154.4 C267.0,155.5 268.6,157.2 270.1,159.0 C271.7,160.8 273.1,162.8 274.7,164.9 C276.3,167.1 277.4,169.9 280.0,171.9 C282.6,173.9 287.0,175.8 290.0,177.2 C293.0,178.6 294.8,179.5 298.0,180.5 C301.2,181.5 305.9,182.7 309.3,183.4 C312.8,184.1 315.6,184.7 318.7,184.5 C321.8,184.3 324.9,183.1 328.0,182.2 C331.1,181.3 334.3,180.0 337.4,179.3 C340.5,178.6 344.4,177.9 346.7,177.8 C349.0,177.7 349.4,178.0 351.4,178.5 C353.3,179.0 356.1,180.2 358.4,181.0 C360.7,181.8 363.1,182.8 365.4,183.4 C367.7,184.0 370.0,184.8 372.4,184.3 C374.8,183.9 377.3,182.8 379.7,180.7 C382.1,178.5 384.4,174.1 386.7,171.4 C389.0,168.8 391.5,165.5 393.7,164.8 C395.9,164.1 397.7,165.8 399.6,167.1 C401.6,168.4 403.3,170.9 405.4,172.5 C407.5,174.1 410.1,175.8 412.4,176.5 C414.7,177.2 416.7,177.1 419.4,176.5 C422.1,175.9 426.1,173.9 428.8,173.2 C431.5,172.5 433.1,172.1 435.8,172.5 C438.5,172.9 442.0,174.6 445.1,175.6 C448.2,176.6 451.8,178.2 454.5,178.4 C457.2,178.6 459.2,177.9 461.5,176.5 C463.8,175.1 465.8,172.4 468.5,170.2 C471.2,168.0 474.7,165.1 477.8,163.2 C480.9,161.2 483.5,159.6 487.2,158.5 C490.9,157.4 496.2,157.2 500.0,156.8 C503.8,156.5 507.5,156.8 510.0,156.4 C512.5,156.0 513.3,155.3 515.0,154.6 C516.7,153.9 518.3,153.1 520.0,152.4 C521.7,151.7 523.3,150.7 525.0,150.5 C526.7,150.3 528.3,150.3 530.0,151.0 C531.7,151.7 533.3,153.0 535.0,154.6 C536.7,156.2 538.3,158.7 540.0,160.4 C541.7,162.1 543.3,163.3 545.0,164.8 C546.7,166.3 548.3,167.7 550.0,169.2 C551.7,170.7 553.3,172.1 555.0,173.6 C556.7,175.1 558.3,176.8 560.0,178.2 C561.7,179.6 563.3,181.4 565.0,182.3 C566.7,183.2 568.3,183.6 570.0,183.8 C571.7,184.0 573.3,183.7 575.0,183.5 C576.7,183.3 578.3,182.8 580.0,182.6 C581.7,182.4 583.3,182.2 585.0,182.5 C586.7,182.8 588.3,183.8 590.0,184.6 C591.7,185.4 593.3,186.4 595.0,187.3 C596.7,188.2 598.3,189.3 600.0,190.1 C601.7,190.9 603.3,191.3 605.0,191.9 C606.7,192.5 608.3,192.7 610.0,193.4 C611.7,194.1 613.3,195.1 615.0,196.0 C616.7,196.9 618.3,198.1 620.0,198.9 C621.7,199.7 622.5,200.2 625.0,200.9 C627.5,201.6 631.7,202.4 635.0,202.8 C638.3,203.2 641.7,203.3 645.0,203.6 C648.3,203.8 651.7,204.1 655.0,204.3 C658.3,204.5 661.7,204.6 665.0,204.6 C668.3,204.6 671.7,204.3 675.0,204.3 C678.3,204.3 683.3,204.6 685.0,204.6" stroke="#d42a2a" stroke-width="1.6" fill="none" stroke-linejoin="round" stroke-linecap="round"/><path d="M9.10,127.40V204.90 M0,127.40H9.10 M0,146.78H9.10 M0,166.15H9.10 M0,185.53H9.10 M0,204.90H9.10 M34.07,208.30H658.40 M658.40,208.30V217.30 M636.10,208.30V212.50 M613.80,208.30V212.50 M591.51,208.30V212.50 M569.21,208.30V217.30 M546.91,208.30V212.50 M524.62,208.30V212.50 M502.32,208.30V212.50 M480.02,208.30V217.30 M457.72,208.30V212.50 M435.42,208.30V212.50 M413.13,208.30V212.50 M390.83,208.30V217.30 M368.53,208.30V212.50 M346.23,208.30V212.50 M323.94,208.30V212.50 M301.64,208.30V217.30 M279.34,208.30V212.50 M257.04,208.30V212.50 M234.75,208.30V212.50 M212.45,208.30V217.30 M190.15,208.30V212.50 M167.85,208.30V212.50 M145.56,208.30V212.50 M123.26,208.30V217.30 M100.96,208.30V212.50 M78.66,208.30V212.50 M56.37,208.30V212.50 M34.07,208.30V217.30" stroke="#000" stroke-width="1.4" fill="none" stroke-linecap="butt"/><text x="658.40" y="234.75" font-size="14.8" text-anchor="middle" stroke="#000" stroke-width="0.3">1 cal BC</text><text x="569.21" y="234.75" font-size="14.8" text-anchor="middle" stroke="#000" stroke-width="0.3">1000</text><text x="480.02" y="234.75" font-size="14.8" text-anchor="middle" stroke="#000" stroke-width="0.3">2000</text><text x="390.83" y="234.75" font-size="14.8" text-anchor="middle" stroke="#000" stroke-width="0.3">3000</text><text x="301.64" y="234.75" font-size="14.8" text-anchor="middle" stroke="#000" stroke-width="0.3">4000</text><text x="212.45" y="234.75" font-size="14.8" text-anchor="middle" stroke="#000" stroke-width="0.3">5000</text><text x="123.26" y="234.75" font-size="14.8" text-anchor="middle" stroke="#000" stroke-width="0.3">6000</text><text x="34.07" y="234.75" font-size="14.8" text-anchor="middle" stroke="#000" stroke-width="0.3">7000</text><text x="35.1" y="146.50" font-size="14.8" stroke="#000" stroke-width="0.25">Northern Italy</text><text x="123.05" y="187.50" font-size="21.4" text-anchor="middle" stroke="#000" stroke-width="0.2">A</text><text x="242.45" y="132.60" font-size="21.4" text-anchor="middle" stroke="#000" stroke-width="0.2">C</text><text x="486.40" y="148.80" font-size="21.4" text-anchor="middle" stroke="#000" stroke-width="0.2">F</text></g>
<g><path d="M9.1,250.00H685 M9.1,269.45H685 M9.1,288.90H685 M9.1,308.35H685 M9.1,327.80H685 M658.40,248.2V331.2 M569.21,248.2V331.2 M480.02,248.2V331.2 M390.83,248.2V331.2 M301.64,248.2V331.2 M212.45,248.2V331.2 M123.26,248.2V331.2 M34.07,248.2V331.2" stroke="#d3d3d3" stroke-width="1" stroke-dasharray="1 1.72" fill="none"/><path d="M9.0,320.9 C17.5,320.9 43.2,321.0 60.0,321.0 C76.8,321.0 100.0,321.1 110.0,320.8 C120.0,320.6 117.4,320.0 120.0,319.5 C122.6,319.0 123.8,318.4 125.8,317.6 C127.8,316.8 129.8,315.9 131.7,314.9 C133.6,313.9 135.6,312.9 137.5,311.7 C139.4,310.5 141.5,309.1 143.4,307.6 C145.3,306.1 147.3,304.4 149.2,302.9 C151.1,301.4 153.2,300.1 155.0,298.8 C156.8,297.5 158.3,296.2 160.0,295.3 C161.7,294.4 163.3,293.7 165.0,293.2 C166.7,292.7 168.0,292.5 170.0,292.4 C172.0,292.3 174.2,292.2 177.0,292.5 C179.8,292.8 183.5,293.2 187.0,294.0 C190.5,294.8 193.8,296.4 198.0,297.2 C202.2,298.0 207.7,298.4 212.0,298.6 C216.3,298.8 219.4,299.3 223.7,298.6 C228.0,297.9 233.4,295.2 237.7,294.4 C242.0,293.6 245.5,293.8 249.4,293.9 C253.3,294.0 257.6,294.0 261.1,294.8 C264.6,295.6 267.3,297.5 270.4,298.6 C273.5,299.7 276.3,300.8 279.8,301.4 C283.3,302.0 287.6,302.3 291.5,302.5 C295.4,302.7 299.6,302.2 303.1,302.5 C306.6,302.8 309.7,303.9 312.5,304.2 C315.3,304.5 317.1,305.2 320.0,304.4 C322.9,303.6 326.7,301.0 330.0,299.6 C333.3,298.2 337.2,297.2 340.0,296.2 C342.8,295.2 344.5,294.0 347.0,293.8 C349.5,293.6 352.5,294.4 355.0,295.2 C357.5,296.0 359.5,297.4 362.0,298.9 C364.5,300.4 367.8,303.2 370.0,304.4 C372.2,305.6 373.0,306.1 375.0,306.2 C377.0,306.2 379.5,306.2 382.0,304.7 C384.5,303.2 387.7,300.2 390.0,297.4 C392.3,294.6 394.0,289.5 396.0,287.9 C398.0,286.3 399.7,287.3 402.0,287.9 C404.3,288.5 407.8,290.3 410.0,291.5 C412.2,292.7 413.1,294.2 415.0,294.9 C416.9,295.6 419.3,295.8 421.4,295.7 C423.5,295.6 425.6,294.6 427.8,294.1 C430.0,293.6 432.2,292.7 434.3,292.8 C436.4,292.9 438.6,294.0 440.7,294.9 C442.8,295.8 445.0,297.2 447.1,298.1 C449.2,299.0 451.4,299.9 453.5,300.2 C455.6,300.5 457.9,300.2 460.0,299.7 C462.1,299.2 464.3,298.2 466.4,297.3 C468.5,296.4 470.7,295.2 472.8,294.1 C474.9,293.0 477.1,291.7 479.2,290.5 C481.3,289.3 483.3,287.8 485.7,286.8 C488.1,285.8 491.0,285.1 493.7,284.7 C496.4,284.3 499.0,284.5 501.7,284.7 C504.4,284.9 507.6,285.7 509.7,285.7 C511.8,285.7 512.3,285.0 514.0,284.5 C515.7,284.0 517.3,284.1 520.0,282.9 C522.7,281.7 527.0,278.2 530.0,277.1 C533.0,276.0 534.7,276.0 538.0,276.2 C541.3,276.4 546.3,277.5 550.0,278.1 C553.7,278.7 556.7,279.6 560.0,280.0 C563.3,280.4 566.7,280.4 570.0,280.7 C573.3,281.0 577.5,281.0 580.0,281.8 C582.5,282.6 583.2,283.2 585.0,285.5 C586.8,287.8 588.8,292.2 590.8,295.5 C592.8,298.8 594.8,303.1 596.7,305.5 C598.7,307.9 600.1,308.7 602.5,309.8 C604.9,310.9 608.1,311.6 611.3,312.3 C614.5,313.0 617.9,313.6 621.5,314.2 C625.1,314.8 629.1,315.2 633.2,315.7 C637.3,316.2 642.2,316.9 646.3,317.1 C650.4,317.3 654.1,317.2 658.0,317.1 C661.9,317.0 665.2,316.4 669.7,316.2 C674.2,316.0 682.5,315.8 685.0,315.7 L685.0,319.7 C682.5,319.8 674.2,320.0 669.7,320.2 C665.2,320.4 661.9,321.0 658.0,321.1 C654.1,321.2 650.4,321.3 646.3,321.1 C642.2,320.9 637.3,320.2 633.2,319.7 C629.1,319.2 625.1,318.8 621.5,318.2 C617.9,317.6 614.5,317.0 611.3,316.3 C608.1,315.6 604.9,314.9 602.5,313.8 C600.1,312.7 598.7,311.9 596.7,309.5 C594.8,307.1 592.8,302.8 590.8,299.5 C588.8,296.2 586.8,291.8 585.0,289.5 C583.2,287.2 582.5,286.6 580.0,285.8 C577.5,285.0 573.3,285.0 570.0,284.7 C566.7,284.4 563.3,284.4 560.0,284.0 C556.7,283.6 553.7,282.7 550.0,282.1 C546.3,281.5 541.3,280.4 538.0,280.2 C534.7,280.0 533.0,280.0 530.0,281.1 C527.0,282.2 522.7,285.7 520.0,286.9 C517.3,288.1 515.7,288.0 514.0,288.5 C512.3,289.0 511.8,289.7 509.7,289.7 C507.6,289.7 504.4,288.9 501.7,288.7 C499.0,288.5 496.4,288.3 493.7,288.7 C491.0,289.1 488.1,289.8 485.7,290.8 C483.3,291.8 481.3,293.3 479.2,294.5 C477.1,295.7 474.9,297.0 472.8,298.1 C470.7,299.2 468.5,300.4 466.4,301.3 C464.3,302.2 462.1,303.2 460.0,303.7 C457.9,304.2 455.6,304.5 453.5,304.2 C451.4,303.9 449.2,303.0 447.1,302.1 C445.0,301.2 442.8,299.8 440.7,298.9 C438.6,298.0 436.4,296.9 434.3,296.8 C432.2,296.7 430.0,297.6 427.8,298.1 C425.6,298.6 423.5,299.6 421.4,299.7 C419.3,299.8 416.9,299.6 415.0,298.9 C413.1,298.2 412.2,296.7 410.0,295.5 C407.8,294.3 404.3,292.5 402.0,291.9 C399.7,291.3 398.0,290.3 396.0,291.9 C394.0,293.5 392.3,298.6 390.0,301.4 C387.7,304.2 384.5,307.2 382.0,308.7 C379.5,310.2 377.0,310.2 375.0,310.2 C373.0,310.1 372.2,309.6 370.0,308.4 C367.8,307.2 364.5,304.4 362.0,302.9 C359.5,301.4 357.5,300.0 355.0,299.2 C352.5,298.4 349.5,297.6 347.0,297.8 C344.5,298.0 342.8,299.2 340.0,300.2 C337.2,301.2 333.3,302.2 330.0,303.6 C326.7,305.0 322.9,307.6 320.0,308.4 C317.1,309.2 315.3,308.5 312.5,308.2 C309.7,307.9 306.6,306.8 303.1,306.5 C299.6,306.2 295.4,306.7 291.5,306.5 C287.6,306.3 283.3,306.0 279.8,305.4 C276.3,304.8 273.5,303.7 270.4,302.6 C267.3,301.5 264.6,299.6 261.1,298.8 C257.6,298.0 253.3,298.0 249.4,297.9 C245.5,297.8 242.0,297.6 237.7,298.4 C233.4,299.2 228.0,301.9 223.7,302.6 C219.4,303.3 216.3,302.8 212.0,302.6 C207.7,302.4 202.2,302.0 198.0,301.2 C193.8,300.4 190.5,298.8 187.0,298.0 C183.5,297.2 179.8,296.8 177.0,296.5 C174.2,296.2 172.0,296.3 170.0,296.4 C168.0,296.5 166.7,296.7 165.0,297.2 C163.3,297.7 161.7,298.4 160.0,299.3 C158.3,300.2 156.8,301.5 155.0,302.8 C153.2,304.1 151.1,305.4 149.2,306.9 C147.3,308.4 145.3,310.1 143.4,311.6 C141.5,313.1 139.4,314.5 137.5,315.7 C135.6,316.9 133.6,317.9 131.7,318.9 C129.8,319.8 127.8,320.7 125.8,321.4 C123.8,322.1 122.6,322.6 120.0,323.1 C117.4,323.6 120.0,324.0 110.0,324.2 C100.0,324.4 76.8,324.4 60.0,324.4 C43.2,324.4 17.5,324.3 9.0,324.3 Z" fill="#d8d8d8" stroke="none"/><path d="M9.0,325.6 C12.5,325.5 20.7,325.2 30.0,325.3 C39.3,325.4 55.0,326.1 65.0,326.0 C75.0,325.9 82.5,324.6 90.0,324.4 C97.5,324.2 105.0,324.7 110.0,324.7 C115.0,324.7 117.8,324.4 120.0,324.3 C122.2,324.2 122.3,324.4 123.5,324.3 C124.7,324.2 125.8,323.9 127.0,323.4 C128.2,323.0 129.3,322.3 130.5,321.6 C131.7,320.9 132.8,320.2 134.0,319.4 C135.2,318.6 136.3,317.6 137.5,316.7 C138.7,315.8 139.8,314.9 141.0,313.9 C142.2,312.9 143.3,311.8 144.5,310.8 C145.7,309.8 146.8,308.9 148.0,307.8 C149.2,306.8 150.3,305.6 151.5,304.5 C152.7,303.4 153.8,302.3 155.0,301.1 C156.2,299.9 157.2,298.6 158.5,297.4 C159.8,296.2 161.1,294.9 162.5,294.0 C163.9,293.1 165.6,292.2 166.9,291.7 C168.2,291.2 169.3,291.1 170.5,291.0 C171.7,290.9 173.1,291.0 174.2,291.3 C175.3,291.5 176.1,292.0 177.1,292.5 C178.1,293.0 178.9,293.8 180.0,294.4 C181.1,295.0 182.5,295.7 183.7,296.3 C184.9,296.9 186.1,297.6 187.3,298.2 C188.5,298.8 189.7,299.4 191.0,299.8 C192.3,300.2 193.7,300.5 195.0,300.7 C196.3,300.9 196.9,300.7 199.0,301.2 C201.1,301.7 204.5,302.7 207.4,303.8 C210.3,304.9 213.6,306.6 216.7,307.7 C219.8,308.8 222.6,309.6 226.1,310.1 C229.6,310.6 233.8,310.9 237.7,310.8 C241.6,310.7 245.9,310.2 249.4,309.6 C252.9,309.0 255.7,308.0 258.8,307.3 C261.9,306.6 265.0,306.2 268.1,305.4 C271.2,304.6 274.4,303.6 277.5,302.6 C280.6,301.5 283.7,300.1 286.8,299.1 C289.9,298.1 293.4,297.0 296.1,296.8 C298.8,296.6 300.8,297.0 303.1,297.9 C305.5,298.8 307.9,301.0 310.2,302.1 C312.5,303.2 315.4,304.4 317.2,304.5 C319.0,304.6 319.7,303.7 321.0,302.9 C322.3,302.1 323.5,301.2 325.0,299.5 C326.5,297.8 328.3,294.9 330.0,292.9 C331.7,290.9 333.3,289.6 335.0,287.6 C336.7,285.6 338.3,282.9 340.0,281.0 C341.7,279.1 343.3,277.3 345.0,276.1 C346.7,274.8 348.3,273.7 350.0,273.5 C351.7,273.3 353.3,273.7 355.0,274.7 C356.7,275.7 358.3,277.4 360.0,279.6 C361.7,281.8 363.3,285.3 365.0,287.9 C366.7,290.4 368.7,293.3 370.0,294.9 C371.3,296.5 371.8,296.9 373.0,297.4 C374.2,297.9 375.7,298.1 377.0,297.7 C378.3,297.3 379.7,296.4 381.0,294.9 C382.3,293.3 383.5,291.4 385.0,288.4 C386.5,285.3 388.3,280.0 390.0,276.6 C391.7,273.2 393.5,269.1 395.2,268.1 C396.9,267.0 398.4,268.9 400.0,270.3 C401.6,271.7 403.3,274.3 405.0,276.6 C406.7,278.9 408.3,281.7 410.0,283.9 C411.7,286.1 413.1,288.4 415.0,289.7 C416.9,290.9 419.5,291.4 421.4,291.4 C423.3,291.4 424.3,290.2 426.2,289.7 C428.1,289.1 430.8,288.2 432.7,288.1 C434.6,288.0 435.6,288.1 437.5,288.9 C439.4,289.7 441.8,291.8 443.9,293.0 C446.0,294.2 448.1,295.1 450.3,296.2 C452.5,297.3 454.7,298.5 456.8,299.4 C458.9,300.2 460.8,300.9 463.2,301.3 C465.6,301.7 468.5,301.4 471.2,301.8 C473.9,302.1 476.5,302.7 479.2,303.4 C481.9,304.1 484.6,304.9 487.3,305.8 C490.0,306.7 492.6,307.8 495.3,308.7 C498.0,309.6 500.9,310.3 503.3,310.9 C505.7,311.5 507.5,312.5 509.7,312.2 C511.9,311.9 514.3,310.3 516.2,309.0 C518.1,307.7 519.5,305.8 521.0,304.2 C522.5,302.6 523.3,300.8 525.0,299.4 C526.7,297.9 528.7,296.4 531.0,295.5 C533.3,294.6 536.3,294.8 538.8,294.2 C541.3,293.6 542.8,293.4 546.0,292.2 C549.2,291.0 554.1,289.2 557.8,287.2 C561.5,285.2 565.3,281.6 568.0,280.3 C570.7,279.0 571.6,279.2 574.0,279.3 C576.4,279.4 580.0,279.4 582.6,281.2 C585.2,283.0 587.5,287.6 589.4,290.0 C591.3,292.4 592.1,293.9 593.8,295.9 C595.5,297.8 597.4,300.4 599.6,301.7 C601.8,303.0 604.5,303.4 606.9,303.5 C609.3,303.6 611.8,302.9 614.2,302.0 C616.6,301.1 619.3,299.1 621.5,298.1 C623.7,297.1 625.3,296.3 627.3,296.2 C629.2,296.1 631.0,296.5 633.2,297.3 C635.4,298.1 638.1,299.9 640.5,301.0 C642.9,302.1 645.6,303.5 647.8,303.9 C650.0,304.3 651.6,303.8 653.6,303.2 C655.6,302.6 657.3,301.1 659.5,300.5 C661.7,299.9 664.4,299.5 666.8,299.5 C669.2,299.5 671.9,300.1 674.1,300.5 C676.3,300.9 678.1,301.3 679.9,301.7 C681.7,302.1 684.1,302.7 685.0,302.9 L685.0,309.1 C684.1,308.9 681.7,308.3 679.9,307.9 C678.1,307.5 676.3,307.1 674.1,306.7 C671.9,306.3 669.2,305.7 666.8,305.7 C664.4,305.7 661.7,306.1 659.5,306.7 C657.3,307.3 655.6,308.8 653.6,309.4 C651.6,310.0 650.0,310.5 647.8,310.1 C645.6,309.7 642.9,308.3 640.5,307.2 C638.1,306.1 635.4,304.3 633.2,303.5 C631.0,302.7 629.2,302.3 627.3,302.4 C625.3,302.5 623.7,303.3 621.5,304.3 C619.3,305.3 616.6,307.3 614.2,308.2 C611.8,309.1 609.3,309.8 606.9,309.7 C604.5,309.7 601.8,309.2 599.6,307.9 C597.4,306.6 595.5,304.1 593.8,302.1 C592.1,300.2 591.3,298.3 589.4,296.2 C587.5,294.2 585.2,291.2 582.6,289.8 C580.0,288.4 576.4,288.1 574.0,287.9 C571.6,287.8 570.7,288.0 568.0,288.9 C565.3,289.8 561.5,291.8 557.8,293.4 C554.1,295.0 549.2,297.2 546.0,298.4 C542.8,299.6 541.3,299.9 538.8,300.4 C536.3,301.0 533.3,300.8 531.0,301.7 C528.7,302.6 526.7,304.2 525.0,305.6 C523.3,307.1 522.5,308.8 521.0,310.4 C519.5,312.0 518.1,313.9 516.2,315.2 C514.3,316.5 511.9,318.1 509.7,318.4 C507.5,318.7 505.7,317.7 503.3,317.1 C500.9,316.5 498.0,315.8 495.3,314.9 C492.6,314.1 490.0,312.9 487.3,312.0 C484.6,311.1 481.9,310.3 479.2,309.6 C476.5,308.9 473.9,308.4 471.2,308.0 C468.5,307.6 465.6,307.9 463.2,307.5 C460.8,307.1 458.9,306.5 456.8,305.6 C454.7,304.8 452.5,303.5 450.3,302.4 C448.1,301.3 446.0,300.4 443.9,299.2 C441.8,298.0 439.4,295.9 437.5,295.1 C435.6,294.3 434.6,294.2 432.7,294.3 C430.8,294.4 428.1,295.4 426.2,295.9 C424.3,296.5 423.3,297.6 421.4,297.6 C419.5,297.6 416.9,297.2 415.0,295.9 C413.1,294.7 411.7,292.1 410.0,290.1 C408.3,288.2 406.7,286.1 405.0,284.2 C403.3,282.3 401.6,280.2 400.0,278.9 C398.4,277.7 396.9,275.8 395.2,276.7 C393.5,277.6 391.7,281.2 390.0,284.2 C388.3,287.2 386.5,291.8 385.0,294.6 C383.5,297.4 382.3,299.6 381.0,301.1 C379.7,302.7 378.3,303.5 377.0,303.9 C375.7,304.3 374.2,304.1 373.0,303.6 C371.8,303.1 371.3,302.7 370.0,301.1 C368.7,299.5 366.7,296.4 365.0,294.1 C363.3,291.8 361.7,289.0 360.0,287.2 C358.3,285.4 356.7,284.1 355.0,283.3 C353.3,282.5 351.7,281.9 350.0,282.1 C348.3,282.3 346.7,283.6 345.0,284.7 C343.3,285.8 341.7,287.1 340.0,288.6 C338.3,290.1 336.7,292.1 335.0,293.8 C333.3,295.6 331.7,297.1 330.0,299.1 C328.3,301.1 326.5,304.0 325.0,305.7 C323.5,307.4 322.3,308.3 321.0,309.1 C319.7,309.9 319.0,310.8 317.2,310.7 C315.4,310.6 312.5,309.4 310.2,308.3 C307.9,307.2 305.5,305.0 303.1,304.1 C300.8,303.2 298.8,302.8 296.1,303.0 C293.4,303.2 289.9,304.3 286.8,305.3 C283.7,306.3 280.6,307.8 277.5,308.8 C274.4,309.9 271.2,310.8 268.1,311.6 C265.0,312.4 261.9,312.8 258.8,313.5 C255.7,314.2 252.9,315.2 249.4,315.8 C245.9,316.4 241.6,316.9 237.7,317.0 C233.8,317.1 229.6,316.8 226.1,316.3 C222.6,315.8 219.8,315.0 216.7,313.9 C213.6,312.9 210.3,311.1 207.4,310.0 C204.5,308.9 201.1,307.9 199.0,307.4 C196.9,306.9 196.3,307.1 195.0,306.9 C193.7,306.7 192.3,306.4 191.0,306.0 C189.7,305.6 188.5,305.1 187.3,304.6 C186.1,304.1 184.9,303.5 183.7,302.9 C182.5,302.3 181.1,301.8 180.0,301.2 C178.9,300.6 178.1,299.9 177.1,299.5 C176.1,299.1 175.3,298.7 174.2,298.5 C173.1,298.3 171.7,298.1 170.5,298.2 C169.3,298.3 168.2,298.4 166.9,298.9 C165.6,299.4 163.9,300.1 162.5,301.0 C161.1,301.9 159.8,303.1 158.5,304.2 C157.2,305.3 156.2,306.4 155.0,307.5 C153.8,308.6 152.7,309.7 151.5,310.7 C150.3,311.8 149.2,312.8 148.0,313.8 C146.8,314.8 145.7,315.7 144.5,316.6 C143.3,317.5 142.2,318.4 141.0,319.3 C139.8,320.2 138.7,320.9 137.5,321.7 C136.3,322.4 135.2,323.1 134.0,323.8 C132.8,324.5 131.7,325.1 130.5,325.6 C129.3,326.1 128.2,326.5 127.0,326.8 C125.8,327.1 124.7,327.2 123.5,327.3 C122.3,327.4 122.2,327.3 120.0,327.3 C117.8,327.3 115.0,327.4 110.0,327.3 C105.0,327.2 97.5,326.8 90.0,327.0 C82.5,327.2 75.0,328.5 65.0,328.6 C55.0,328.8 39.3,328.0 30.0,327.9 C20.7,327.8 12.5,328.1 9.0,328.2 Z" fill="#1cb41c" fill-opacity="0.2" stroke="#1cb41c" stroke-opacity="0.25" stroke-width="1"/><path d="M9.0,326.9 C12.5,326.8 20.7,326.5 30.0,326.6 C39.3,326.7 55.0,327.5 65.0,327.3 C75.0,327.1 82.5,325.9 90.0,325.7 C97.5,325.5 105.0,326.0 110.0,326.0 C115.0,326.0 117.8,325.8 120.0,325.8 C122.2,325.8 122.3,325.9 123.5,325.8 C124.7,325.7 125.8,325.5 127.0,325.1 C128.2,324.7 129.3,324.2 130.5,323.6 C131.7,323.0 132.8,322.3 134.0,321.6 C135.2,320.9 136.3,320.0 137.5,319.2 C138.7,318.4 139.8,317.5 141.0,316.6 C142.2,315.7 143.3,314.7 144.5,313.7 C145.7,312.7 146.8,311.8 148.0,310.8 C149.2,309.8 150.3,308.7 151.5,307.6 C152.7,306.5 153.8,305.4 155.0,304.3 C156.2,303.2 157.2,301.9 158.5,300.8 C159.8,299.7 161.1,298.4 162.5,297.5 C163.9,296.6 165.6,295.8 166.9,295.3 C168.2,294.8 169.3,294.7 170.5,294.6 C171.7,294.5 173.1,294.7 174.2,294.9 C175.3,295.1 176.1,295.5 177.1,296.0 C178.1,296.5 178.9,297.2 180.0,297.8 C181.1,298.4 182.5,299.0 183.7,299.6 C184.9,300.2 186.1,300.8 187.3,301.4 C188.5,301.9 189.7,302.5 191.0,302.9 C192.3,303.3 193.7,303.6 195.0,303.8 C196.3,304.0 196.9,303.8 199.0,304.3 C201.1,304.8 204.5,305.8 207.4,306.9 C210.3,308.0 213.6,309.8 216.7,310.8 C219.8,311.9 222.6,312.7 226.1,313.2 C229.6,313.7 233.8,314.0 237.7,313.9 C241.6,313.8 245.9,313.3 249.4,312.7 C252.9,312.1 255.7,311.1 258.8,310.4 C261.9,309.7 265.0,309.3 268.1,308.5 C271.2,307.7 274.4,306.8 277.5,305.7 C280.6,304.6 283.7,303.2 286.8,302.2 C289.9,301.2 293.4,300.1 296.1,299.9 C298.8,299.7 300.8,300.1 303.1,301.0 C305.5,301.9 307.9,304.1 310.2,305.2 C312.5,306.3 315.4,307.5 317.2,307.6 C319.0,307.7 319.7,306.8 321.0,306.0 C322.3,305.2 323.5,304.3 325.0,302.6 C326.5,300.9 328.3,298.0 330.0,296.0 C331.7,294.0 333.3,292.6 335.0,290.7 C336.7,288.8 338.3,286.5 340.0,284.8 C341.7,283.1 343.3,281.6 345.0,280.4 C346.7,279.2 348.3,278.0 350.0,277.8 C351.7,277.6 353.3,278.1 355.0,279.0 C356.7,279.9 358.3,281.4 360.0,283.4 C361.7,285.4 363.3,288.6 365.0,291.0 C366.7,293.4 368.7,296.4 370.0,298.0 C371.3,299.6 371.8,300.0 373.0,300.5 C374.2,301.0 375.7,301.2 377.0,300.8 C378.3,300.4 379.7,299.6 381.0,298.0 C382.3,296.4 383.5,294.4 385.0,291.5 C386.5,288.6 388.3,283.6 390.0,280.4 C391.7,277.2 393.5,273.4 395.2,272.4 C396.9,271.4 398.4,273.3 400.0,274.6 C401.6,275.9 403.3,278.3 405.0,280.4 C406.7,282.5 408.3,284.9 410.0,287.0 C411.7,289.1 413.1,291.6 415.0,292.8 C416.9,294.1 419.5,294.5 421.4,294.5 C423.3,294.5 424.3,293.4 426.2,292.8 C428.1,292.2 430.8,291.3 432.7,291.2 C434.6,291.1 435.6,291.2 437.5,292.0 C439.4,292.8 441.8,294.9 443.9,296.1 C446.0,297.3 448.1,298.2 450.3,299.3 C452.5,300.4 454.7,301.6 456.8,302.5 C458.9,303.4 460.8,304.0 463.2,304.4 C465.6,304.8 468.5,304.5 471.2,304.9 C473.9,305.2 476.5,305.8 479.2,306.5 C481.9,307.2 484.6,308.0 487.3,308.9 C490.0,309.8 492.6,310.9 495.3,311.8 C498.0,312.7 500.9,313.4 503.3,314.0 C505.7,314.6 507.5,315.6 509.7,315.3 C511.9,315.0 514.3,313.4 516.2,312.1 C518.1,310.8 519.5,308.9 521.0,307.3 C522.5,305.7 523.3,303.9 525.0,302.5 C526.7,301.1 528.7,299.5 531.0,298.6 C533.3,297.7 536.3,297.9 538.8,297.3 C541.3,296.8 542.8,296.5 546.0,295.3 C549.2,294.1 554.1,292.1 557.8,290.3 C561.5,288.5 565.3,285.7 568.0,284.6 C570.7,283.5 571.6,283.5 574.0,283.6 C576.4,283.8 580.0,283.9 582.6,285.5 C585.2,287.1 587.5,290.9 589.4,293.1 C591.3,295.4 592.1,297.1 593.8,299.0 C595.5,300.9 597.4,303.5 599.6,304.8 C601.8,306.1 604.5,306.6 606.9,306.6 C609.3,306.7 611.8,306.0 614.2,305.1 C616.6,304.2 619.3,302.2 621.5,301.2 C623.7,300.2 625.3,299.4 627.3,299.3 C629.2,299.2 631.0,299.6 633.2,300.4 C635.4,301.2 638.1,303.0 640.5,304.1 C642.9,305.2 645.6,306.6 647.8,307.0 C650.0,307.4 651.6,306.9 653.6,306.3 C655.6,305.7 657.3,304.2 659.5,303.6 C661.7,303.0 664.4,302.6 666.8,302.6 C669.2,302.6 671.9,303.2 674.1,303.6 C676.3,304.0 678.1,304.4 679.9,304.8 C681.7,305.2 684.1,305.8 685.0,306.0" stroke="#1cb41c" stroke-width="1.6" fill="none" stroke-linejoin="round" stroke-linecap="round"/><path d="M9.10,250.00V327.80 M0,250.00H9.10 M0,269.45H9.10 M0,288.90H9.10 M0,308.35H9.10 M0,327.80H9.10 M34.07,331.20H658.40 M658.40,331.20V340.20 M636.10,331.20V335.40 M613.80,331.20V335.40 M591.51,331.20V335.40 M569.21,331.20V340.20 M546.91,331.20V335.40 M524.62,331.20V335.40 M502.32,331.20V335.40 M480.02,331.20V340.20 M457.72,331.20V335.40 M435.42,331.20V335.40 M413.13,331.20V335.40 M390.83,331.20V340.20 M368.53,331.20V335.40 M346.23,331.20V335.40 M323.94,331.20V335.40 M301.64,331.20V340.20 M279.34,331.20V335.40 M257.04,331.20V335.40 M234.75,331.20V335.40 M212.45,331.20V340.20 M190.15,331.20V335.40 M167.85,331.20V335.40 M145.56,331.20V335.40 M123.26,331.20V340.20 M100.96,331.20V335.40 M78.66,331.20V335.40 M56.37,331.20V335.40 M34.07,331.20V340.20" stroke="#000" stroke-width="1.4" fill="none" stroke-linecap="butt"/><text x="658.40" y="357.65" font-size="14.8" text-anchor="middle" stroke="#000" stroke-width="0.3">1 cal BC</text><text x="569.21" y="357.65" font-size="14.8" text-anchor="middle" stroke="#000" stroke-width="0.3">1000</text><text x="480.02" y="357.65" font-size="14.8" text-anchor="middle" stroke="#000" stroke-width="0.3">2000</text><text x="390.83" y="357.65" font-size="14.8" text-anchor="middle" stroke="#000" stroke-width="0.3">3000</text><text x="301.64" y="357.65" font-size="14.8" text-anchor="middle" stroke="#000" stroke-width="0.3">4000</text><text x="212.45" y="357.65" font-size="14.8" text-anchor="middle" stroke="#000" stroke-width="0.3">5000</text><text x="123.26" y="357.65" font-size="14.8" text-anchor="middle" stroke="#000" stroke-width="0.3">6000</text><text x="34.07" y="357.65" font-size="14.8" text-anchor="middle" stroke="#000" stroke-width="0.3">7000</text><text x="35.1" y="269.40" font-size="14.8" stroke="#000" stroke-width="0.25">Central Italy</text><text x="125.10" y="309.60" font-size="21.4" text-anchor="middle" stroke="#000" stroke-width="0.2">A</text><text x="168.30" y="282.30" font-size="21.4" text-anchor="middle" stroke="#000" stroke-width="0.2">B</text><text x="347.85" y="265.50" font-size="21.4" text-anchor="middle" stroke="#000" stroke-width="0.2">D</text><text x="508.80" y="307.30" font-size="21.4" text-anchor="middle" stroke="#000" stroke-width="0.2">G</text><text x="577.10" y="275.10" font-size="21.4" text-anchor="middle" stroke="#000" stroke-width="0.2">H</text></g>
<g><path d="M9.1,388.30H685 M9.1,409.17H685 M9.1,430.03H685 M9.1,450.90H685 M658.40,371.1V454.1 M569.21,371.1V454.1 M480.02,371.1V454.1 M390.83,371.1V454.1 M301.64,371.1V454.1 M212.45,371.1V454.1 M123.26,371.1V454.1 M34.07,371.1V454.1" stroke="#d3d3d3" stroke-width="1" stroke-dasharray="1 1.72" fill="none"/><path d="M9.0,447.5 C17.5,447.5 44.8,447.6 60.0,447.3 C75.2,447.1 91.7,446.4 100.0,446.0 C108.3,445.6 105.0,445.7 110.0,445.2 C115.0,444.7 125.0,443.9 130.0,443.1 C135.0,442.3 136.7,441.4 140.0,440.4 C143.3,439.4 146.7,437.8 150.0,436.9 C153.3,435.9 156.7,435.4 160.0,434.7 C163.3,434.0 166.7,433.3 170.0,432.9 C173.3,432.5 175.8,432.3 180.0,432.2 C184.2,432.1 190.8,432.1 195.0,432.2 C199.2,432.3 201.7,432.5 205.0,432.9 C208.3,433.2 211.7,433.9 215.0,434.3 C218.3,434.7 220.8,435.4 225.0,435.0 C229.2,434.6 235.0,432.9 240.0,432.1 C245.0,431.3 250.8,430.5 255.0,430.4 C259.2,430.3 261.7,431.0 265.0,431.6 C268.3,432.2 271.7,433.2 275.0,433.9 C278.3,434.6 280.8,435.3 285.0,435.7 C289.2,436.1 295.5,436.3 300.0,436.5 C304.5,436.7 308.3,436.9 312.0,436.9 C315.7,436.9 318.2,436.9 322.0,436.5 C325.8,436.1 332.0,435.0 335.0,434.4 C338.0,433.8 337.4,432.8 340.0,432.7 C342.6,432.6 347.0,432.9 350.5,433.5 C354.0,434.1 357.5,435.6 361.0,436.6 C364.5,437.6 368.0,439.4 371.5,439.3 C375.0,439.2 378.5,437.8 382.0,436.1 C385.5,434.4 389.0,430.4 392.5,429.3 C396.0,428.2 399.6,429.0 403.1,429.3 C406.6,429.6 410.1,431.0 413.6,431.4 C417.1,431.8 420.6,431.7 424.1,431.9 C427.6,432.1 431.1,432.3 434.6,432.7 C438.1,433.1 441.6,433.6 445.1,434.0 C448.6,434.4 452.1,435.3 455.6,435.3 C459.1,435.3 462.6,434.7 466.1,434.0 C469.6,433.3 473.1,431.9 476.6,430.9 C480.1,429.9 483.6,428.9 487.1,428.2 C490.6,427.5 494.1,427.0 497.6,426.7 C501.1,426.4 506.1,426.2 508.2,426.1 C510.3,426.0 508.1,426.8 510.0,426.3 C511.9,425.9 516.3,424.2 519.5,423.4 C522.7,422.6 526.1,421.6 529.0,421.5 C531.9,421.4 533.8,422.1 536.6,422.5 C539.5,422.9 543.0,423.6 546.1,424.0 C549.2,424.4 552.4,424.7 555.5,424.8 C558.6,424.9 561.8,424.9 565.0,424.8 C568.2,424.7 572.0,424.3 574.5,424.4 C577.0,424.5 578.3,424.5 580.2,425.3 C582.1,426.1 584.0,427.5 585.9,429.1 C587.8,430.7 589.7,433.2 591.6,434.8 C593.5,436.4 595.1,437.7 597.3,438.6 C599.5,439.6 601.7,440.0 604.9,440.5 C608.1,441.0 612.5,441.4 616.3,441.8 C620.1,442.2 623.8,442.7 627.7,443.0 C631.7,443.3 636.3,443.5 640.0,443.7 C643.7,443.9 645.7,443.9 650.0,444.0 C654.3,444.1 660.2,444.4 666.0,444.4 C671.8,444.4 681.8,444.0 685.0,443.9 L685.0,447.9 C681.8,448.0 671.8,448.4 666.0,448.4 C660.2,448.4 654.3,448.1 650.0,448.0 C645.7,447.9 643.7,447.9 640.0,447.7 C636.3,447.5 631.7,447.3 627.7,447.0 C623.8,446.7 620.1,446.2 616.3,445.8 C612.5,445.4 608.1,445.0 604.9,444.5 C601.7,444.0 599.5,443.6 597.3,442.6 C595.1,441.7 593.5,440.4 591.6,438.8 C589.7,437.2 587.8,434.7 585.9,433.1 C584.0,431.5 582.1,430.1 580.2,429.3 C578.3,428.5 577.0,428.5 574.5,428.4 C572.0,428.3 568.2,428.7 565.0,428.8 C561.8,428.9 558.6,428.9 555.5,428.8 C552.4,428.7 549.2,428.4 546.1,428.0 C543.0,427.6 539.5,426.9 536.6,426.5 C533.8,426.1 531.9,425.4 529.0,425.5 C526.1,425.6 522.7,426.6 519.5,427.4 C516.3,428.2 511.9,429.9 510.0,430.3 C508.1,430.8 510.3,430.0 508.2,430.1 C506.1,430.2 501.1,430.4 497.6,430.7 C494.1,431.0 490.6,431.5 487.1,432.2 C483.6,432.9 480.1,433.9 476.6,434.9 C473.1,435.9 469.6,437.3 466.1,438.0 C462.6,438.7 459.1,439.3 455.6,439.3 C452.1,439.3 448.6,438.4 445.1,438.0 C441.6,437.6 438.1,437.1 434.6,436.7 C431.1,436.3 427.6,436.1 424.1,435.9 C420.6,435.7 417.1,435.8 413.6,435.4 C410.1,435.0 406.6,433.6 403.1,433.3 C399.6,433.0 396.0,432.2 392.5,433.3 C389.0,434.4 385.5,438.4 382.0,440.1 C378.5,441.8 375.0,443.2 371.5,443.3 C368.0,443.4 364.5,441.6 361.0,440.6 C357.5,439.6 354.0,438.1 350.5,437.5 C347.0,436.9 342.6,436.6 340.0,436.7 C337.4,436.8 338.0,437.8 335.0,438.4 C332.0,439.0 325.8,440.1 322.0,440.5 C318.2,440.9 315.7,440.9 312.0,440.9 C308.3,440.9 304.5,440.7 300.0,440.5 C295.5,440.3 289.2,440.1 285.0,439.7 C280.8,439.3 278.3,438.6 275.0,437.9 C271.7,437.2 268.3,436.2 265.0,435.6 C261.7,435.0 259.2,434.5 255.0,434.4 C250.8,434.3 245.0,434.5 240.0,435.1 C235.0,435.7 229.2,437.6 225.0,438.0 C220.8,438.4 218.3,437.7 215.0,437.3 C211.7,436.9 208.3,436.2 205.0,435.9 C201.7,435.5 199.2,435.3 195.0,435.2 C190.8,435.1 184.2,435.1 180.0,435.2 C175.8,435.3 173.3,435.5 170.0,435.9 C166.7,436.3 163.3,437.0 160.0,437.7 C156.7,438.4 153.3,438.9 150.0,439.9 C146.7,440.8 143.3,442.4 140.0,443.4 C136.7,444.4 135.0,445.3 130.0,446.1 C125.0,446.9 115.0,447.7 110.0,448.2 C105.0,448.7 108.3,448.6 100.0,449.0 C91.7,449.4 75.2,450.1 60.0,450.3 C44.8,450.6 17.5,450.5 9.0,450.5 Z" fill="#d8d8d8" stroke="none"/><path d="M9.0,447.2 C14.2,447.2 31.5,447.3 40.0,447.2 C48.5,447.1 55.0,447.0 60.0,446.8 C65.0,446.6 66.7,446.4 70.0,446.0 C73.3,445.6 76.7,444.7 80.0,444.1 C83.3,443.5 86.7,442.9 90.0,442.6 C93.3,442.3 97.0,442.4 100.0,442.3 C103.0,442.2 106.0,442.2 108.0,442.0 C110.0,441.8 110.5,441.7 112.0,441.1 C113.5,440.5 115.5,439.6 117.0,438.6 C118.5,437.5 119.7,436.2 121.0,434.8 C122.3,433.4 123.5,432.1 125.0,430.3 C126.5,428.6 128.3,426.5 130.0,424.3 C131.7,422.1 133.3,419.1 135.0,416.9 C136.7,414.7 138.3,413.1 140.0,411.3 C141.7,409.5 143.3,407.8 145.0,406.1 C146.7,404.4 148.3,402.4 150.0,401.2 C151.7,400.0 153.3,399.7 155.0,398.8 C156.7,397.9 158.3,396.5 160.0,396.0 C161.7,395.5 163.3,395.5 165.0,395.6 C166.7,395.7 168.3,395.9 170.0,396.5 C171.7,397.1 173.3,398.1 175.0,399.1 C176.7,400.1 178.3,401.3 180.0,402.4 C181.7,403.5 183.3,404.6 185.0,405.9 C186.7,407.1 188.3,408.3 190.0,409.9 C191.7,411.5 193.3,413.3 195.0,415.4 C196.7,417.5 198.3,420.6 200.0,422.7 C201.7,424.8 203.3,426.6 205.0,427.9 C206.7,429.2 208.3,429.9 210.0,430.7 C211.7,431.4 213.3,431.8 215.0,432.4 C216.7,433.0 218.3,433.6 220.0,434.2 C221.7,434.8 222.5,436.0 225.0,435.9 C227.5,435.8 231.7,434.4 235.0,433.4 C238.3,432.4 242.2,431.0 245.0,429.9 C247.8,428.8 249.8,427.6 252.0,426.8 C254.2,426.0 256.3,425.2 258.0,425.0 C259.7,424.8 260.3,424.6 262.0,425.4 C263.7,426.2 265.8,428.3 268.0,429.9 C270.2,431.5 272.7,433.8 275.0,435.2 C277.3,436.6 279.5,437.5 282.0,438.1 C284.5,438.7 287.5,438.8 290.0,438.7 C292.5,438.6 295.0,438.0 297.0,437.4 C299.0,436.8 300.3,435.7 302.0,435.2 C303.7,434.7 305.2,434.3 307.0,434.6 C308.8,434.9 310.8,436.1 313.0,436.9 C315.2,437.7 317.7,438.8 320.0,439.2 C322.3,439.6 324.5,439.7 327.0,439.5 C329.5,439.3 332.8,438.4 335.0,438.1 C337.2,437.8 337.4,437.9 340.0,437.5 C342.6,437.1 347.0,435.4 350.5,435.6 C354.0,435.8 357.5,437.8 361.0,438.8 C364.5,439.9 368.0,441.9 371.5,441.9 C375.0,441.9 378.5,440.9 382.0,438.8 C385.5,436.8 389.4,431.7 392.5,429.6 C395.6,427.5 397.8,426.5 400.4,426.2 C403.0,425.9 405.2,427.1 408.3,427.7 C411.4,428.3 415.3,429.0 418.8,429.6 C422.3,430.2 425.8,430.3 429.3,431.4 C432.8,432.5 436.3,434.4 439.8,436.1 C443.3,437.8 446.9,440.2 450.4,441.4 C453.9,442.6 457.4,443.6 460.9,443.5 C464.4,443.4 467.9,442.2 471.4,440.9 C474.9,439.6 478.4,437.4 481.9,435.6 C485.4,433.9 488.9,431.7 492.4,430.4 C495.9,429.1 500.0,428.2 502.9,427.7 C505.8,427.2 507.6,427.6 510.0,427.3 C512.5,427.1 515.1,426.6 517.6,426.2 C520.1,425.8 522.8,425.0 525.2,424.8 C527.6,424.6 529.6,424.3 531.8,424.8 C534.0,425.3 536.1,426.6 538.5,427.7 C540.9,428.8 543.6,430.6 546.1,431.5 C548.6,432.4 551.2,432.7 553.7,433.0 C556.2,433.3 558.7,433.1 561.2,433.4 C563.7,433.7 566.3,434.2 568.8,434.9 C571.3,435.6 573.9,436.8 576.4,437.6 C578.9,438.5 581.5,439.1 584.0,440.0 C586.5,440.9 589.1,442.0 591.6,442.9 C594.1,443.8 596.4,444.5 599.2,445.1 C602.1,445.7 605.2,446.3 608.7,446.7 C612.2,447.1 614.9,447.4 620.1,447.6 C625.3,447.9 629.2,448.2 640.0,448.2 C650.8,448.2 677.5,447.8 685.0,447.7 L685.0,452.7 C677.5,452.8 650.8,453.2 640.0,453.2 C629.2,453.2 625.3,452.9 620.1,452.6 C614.9,452.4 612.2,452.1 608.7,451.7 C605.2,451.3 602.1,450.7 599.2,450.1 C596.4,449.5 594.1,448.8 591.6,447.9 C589.1,447.0 586.5,445.9 584.0,445.0 C581.5,444.1 578.9,443.5 576.4,442.6 C573.9,441.8 571.3,440.6 568.8,439.9 C566.3,439.2 563.7,438.7 561.2,438.4 C558.7,438.1 556.2,438.3 553.7,438.0 C551.2,437.7 548.6,437.4 546.1,436.5 C543.6,435.6 540.9,433.8 538.5,432.7 C536.1,431.6 534.0,430.3 531.8,429.8 C529.6,429.3 527.6,429.6 525.2,429.8 C522.8,430.0 520.1,430.8 517.6,431.2 C515.1,431.6 512.5,432.1 510.0,432.3 C507.6,432.6 505.8,432.2 502.9,432.7 C500.0,433.2 495.9,434.1 492.4,435.4 C488.9,436.7 485.4,438.9 481.9,440.6 C478.4,442.4 474.9,444.6 471.4,445.9 C467.9,447.2 464.4,448.4 460.9,448.5 C457.4,448.6 453.9,447.6 450.4,446.4 C446.9,445.2 443.3,442.8 439.8,441.1 C436.3,439.4 432.8,437.5 429.3,436.4 C425.8,435.3 422.3,435.2 418.8,434.6 C415.3,434.0 411.4,433.3 408.3,432.7 C405.2,432.1 403.0,430.9 400.4,431.2 C397.8,431.5 395.6,432.5 392.5,434.6 C389.4,436.7 385.5,441.8 382.0,443.8 C378.5,445.9 375.0,446.9 371.5,446.9 C368.0,446.9 364.5,444.9 361.0,443.8 C357.5,442.8 354.0,440.8 350.5,440.6 C347.0,440.4 342.6,442.1 340.0,442.5 C337.4,442.9 337.2,442.8 335.0,443.1 C332.8,443.4 329.5,444.3 327.0,444.5 C324.5,444.7 322.3,444.6 320.0,444.2 C317.7,443.8 315.2,442.7 313.0,441.9 C310.8,441.1 308.8,439.9 307.0,439.6 C305.2,439.3 303.7,439.7 302.0,440.2 C300.3,440.7 299.0,441.8 297.0,442.4 C295.0,443.0 292.5,443.6 290.0,443.7 C287.5,443.8 284.5,443.7 282.0,443.1 C279.5,442.5 277.3,441.6 275.0,440.2 C272.7,438.8 270.2,436.4 268.0,434.9 C265.8,433.4 263.7,432.0 262.0,431.4 C260.3,430.8 259.7,430.8 258.0,431.0 C256.3,431.2 254.2,432.2 252.0,432.8 C249.8,433.4 247.8,434.0 245.0,434.9 C242.2,435.8 238.3,437.4 235.0,438.4 C231.7,439.4 227.5,440.8 225.0,440.9 C222.5,441.0 221.7,439.8 220.0,439.2 C218.3,438.6 216.7,438.0 215.0,437.4 C213.3,436.8 211.7,436.3 210.0,435.7 C208.3,435.1 206.7,434.9 205.0,433.9 C203.3,432.9 201.7,431.5 200.0,429.7 C198.3,427.9 196.7,425.0 195.0,423.0 C193.3,421.0 191.7,419.2 190.0,417.9 C188.3,416.5 186.7,415.8 185.0,414.9 C183.3,414.0 181.7,413.2 180.0,412.4 C178.3,411.6 176.7,410.8 175.0,410.1 C173.3,409.5 171.7,408.9 170.0,408.5 C168.3,408.1 166.7,407.7 165.0,407.6 C163.3,407.5 161.7,407.6 160.0,408.0 C158.3,408.4 156.7,409.2 155.0,409.8 C153.3,410.4 151.7,410.6 150.0,411.6 C148.3,412.6 146.7,414.3 145.0,415.7 C143.3,417.1 141.7,418.6 140.0,420.1 C138.3,421.6 136.7,423.0 135.0,424.9 C133.3,426.8 131.7,429.4 130.0,431.3 C128.3,433.2 126.5,434.8 125.0,436.3 C123.5,437.8 122.3,439.2 121.0,440.4 C119.7,441.7 118.5,442.9 117.0,443.8 C115.5,444.8 113.5,445.6 112.0,446.1 C110.5,446.6 110.0,446.8 108.0,447.0 C106.0,447.2 103.0,447.2 100.0,447.3 C97.0,447.4 93.3,447.2 90.0,447.4 C86.7,447.6 83.3,448.1 80.0,448.5 C76.7,448.9 73.3,449.7 70.0,450.0 C66.7,450.3 65.0,450.3 60.0,450.4 C55.0,450.5 48.5,450.7 40.0,450.8 C31.5,450.9 14.2,450.8 9.0,450.8 Z" fill="#48a4c9" fill-opacity="0.2" stroke="#48a4c9" stroke-opacity="0.25" stroke-width="1"/><path d="M9.0,449.0 C14.2,449.0 31.5,449.1 40.0,449.0 C48.5,448.9 55.0,448.8 60.0,448.6 C65.0,448.4 66.7,448.4 70.0,448.0 C73.3,447.6 76.7,446.8 80.0,446.3 C83.3,445.8 86.7,445.2 90.0,445.0 C93.3,444.8 97.0,444.9 100.0,444.8 C103.0,444.7 106.0,444.7 108.0,444.5 C110.0,444.3 110.5,444.2 112.0,443.6 C113.5,443.1 115.5,442.2 117.0,441.2 C118.5,440.2 119.7,438.9 121.0,437.6 C122.3,436.3 123.5,434.9 125.0,433.3 C126.5,431.7 128.3,429.9 130.0,427.8 C131.7,425.7 133.3,422.9 135.0,420.9 C136.7,418.9 138.3,417.4 140.0,415.7 C141.7,414.0 143.3,412.4 145.0,410.9 C146.7,409.3 148.3,407.5 150.0,406.4 C151.7,405.3 153.3,405.0 155.0,404.3 C156.7,403.6 158.3,402.4 160.0,402.0 C161.7,401.6 163.3,401.5 165.0,401.6 C166.7,401.7 168.3,402.0 170.0,402.5 C171.7,403.0 173.3,403.8 175.0,404.6 C176.7,405.4 178.3,406.4 180.0,407.4 C181.7,408.4 183.3,409.3 185.0,410.4 C186.7,411.5 188.3,412.4 190.0,413.9 C191.7,415.4 193.3,417.1 195.0,419.2 C196.7,421.2 198.3,424.2 200.0,426.2 C201.7,428.1 203.3,429.7 205.0,430.9 C206.7,432.1 208.3,432.5 210.0,433.2 C211.7,433.9 213.3,434.3 215.0,434.9 C216.7,435.5 218.3,436.1 220.0,436.7 C221.7,437.3 222.5,438.5 225.0,438.4 C227.5,438.3 231.7,436.9 235.0,435.9 C238.3,434.9 242.2,433.4 245.0,432.4 C247.8,431.4 249.8,430.5 252.0,429.8 C254.2,429.1 256.3,428.2 258.0,428.0 C259.7,427.8 260.3,427.7 262.0,428.4 C263.7,429.1 265.8,430.8 268.0,432.4 C270.2,433.9 272.7,436.3 275.0,437.7 C277.3,439.1 279.5,440.0 282.0,440.6 C284.5,441.2 287.5,441.3 290.0,441.2 C292.5,441.1 295.0,440.5 297.0,439.9 C299.0,439.3 300.3,438.2 302.0,437.7 C303.7,437.2 305.2,436.8 307.0,437.1 C308.8,437.4 310.8,438.6 313.0,439.4 C315.2,440.2 317.7,441.3 320.0,441.7 C322.3,442.1 324.5,442.2 327.0,442.0 C329.5,441.8 332.8,440.9 335.0,440.6 C337.2,440.3 337.4,440.4 340.0,440.0 C342.6,439.6 347.0,437.9 350.5,438.1 C354.0,438.3 357.5,440.2 361.0,441.3 C364.5,442.4 368.0,444.4 371.5,444.4 C375.0,444.4 378.5,443.4 382.0,441.3 C385.5,439.2 389.4,434.2 392.5,432.1 C395.6,430.0 397.8,429.0 400.4,428.7 C403.0,428.4 405.2,429.6 408.3,430.2 C411.4,430.8 415.3,431.5 418.8,432.1 C422.3,432.7 425.8,432.8 429.3,433.9 C432.8,435.0 436.3,436.9 439.8,438.6 C443.3,440.3 446.9,442.7 450.4,443.9 C453.9,445.1 457.4,446.1 460.9,446.0 C464.4,445.9 467.9,444.7 471.4,443.4 C474.9,442.1 478.4,439.9 481.9,438.1 C485.4,436.4 488.9,434.2 492.4,432.9 C495.9,431.6 500.0,430.7 502.9,430.2 C505.8,429.7 507.6,430.1 510.0,429.8 C512.5,429.6 515.1,429.1 517.6,428.7 C520.1,428.3 522.8,427.5 525.2,427.3 C527.6,427.1 529.6,426.8 531.8,427.3 C534.0,427.8 536.1,429.1 538.5,430.2 C540.9,431.3 543.6,433.1 546.1,434.0 C548.6,434.9 551.2,435.2 553.7,435.5 C556.2,435.8 558.7,435.6 561.2,435.9 C563.7,436.2 566.3,436.7 568.8,437.4 C571.3,438.1 573.9,439.2 576.4,440.1 C578.9,441.0 581.5,441.6 584.0,442.5 C586.5,443.4 589.1,444.5 591.6,445.4 C594.1,446.2 596.4,447.0 599.2,447.6 C602.1,448.2 605.2,448.8 608.7,449.2 C612.2,449.6 614.9,449.9 620.1,450.1 C625.3,450.4 629.2,450.7 640.0,450.7 C650.8,450.7 677.5,450.3 685.0,450.2" stroke="#48a4c9" stroke-width="1.6" fill="none" stroke-linejoin="round" stroke-linecap="round"/><path d="M9.10,388.30V450.90 M0,388.30H9.10 M0,409.17H9.10 M0,430.03H9.10 M0,450.90H9.10 M34.07,454.10H658.40 M658.40,454.10V463.10 M636.10,454.10V458.30 M613.80,454.10V458.30 M591.51,454.10V458.30 M569.21,454.10V463.10 M546.91,454.10V458.30 M524.62,454.10V458.30 M502.32,454.10V458.30 M480.02,454.10V463.10 M457.72,454.10V458.30 M435.42,454.10V458.30 M413.13,454.10V458.30 M390.83,454.10V463.10 M368.53,454.10V458.30 M346.23,454.10V458.30 M323.94,454.10V458.30 M301.64,454.10V463.10 M279.34,454.10V458.30 M257.04,454.10V458.30 M234.75,454.10V458.30 M212.45,454.10V463.10 M190.15,454.10V458.30 M167.85,454.10V458.30 M145.56,454.10V458.30 M123.26,454.10V463.10 M100.96,454.10V458.30 M78.66,454.10V458.30 M56.37,454.10V458.30 M34.07,454.10V463.10" stroke="#000" stroke-width="1.4" fill="none" stroke-linecap="butt"/><text x="658.40" y="480.55" font-size="14.8" text-anchor="middle" stroke="#000" stroke-width="0.3">1 cal BC</text><text x="569.21" y="480.55" font-size="14.8" text-anchor="middle" stroke="#000" stroke-width="0.3">1000</text><text x="480.02" y="480.55" font-size="14.8" text-anchor="middle" stroke="#000" stroke-width="0.3">2000</text><text x="390.83" y="480.55" font-size="14.8" text-anchor="middle" stroke="#000" stroke-width="0.3">3000</text><text x="301.64" y="480.55" font-size="14.8" text-anchor="middle" stroke="#000" stroke-width="0.3">4000</text><text x="212.45" y="480.55" font-size="14.8" text-anchor="middle" stroke="#000" stroke-width="0.3">5000</text><text x="123.26" y="480.55" font-size="14.8" text-anchor="middle" stroke="#000" stroke-width="0.3">6000</text><text x="34.07" y="480.55" font-size="14.8" text-anchor="middle" stroke="#000" stroke-width="0.3">7000</text><text x="35.1" y="392.30" font-size="14.8" stroke="#000" stroke-width="0.25">Southern Italy</text><text x="122.25" y="427.90" font-size="21.4" text-anchor="middle" stroke="#000" stroke-width="0.2">A</text><text x="162.94" y="389.90" font-size="21.4" text-anchor="middle" stroke="#000" stroke-width="0.2">B</text><text x="256.70" y="416.60" font-size="21.4" text-anchor="middle" stroke="#000" stroke-width="0.2">C</text></g>
<g><path d="M9.1,496.00H685 M9.1,511.50H685 M9.1,527.00H685 M9.1,542.50H685 M9.1,558.00H685 M9.1,573.50H685 M658.40,494.0V577.0 M569.21,494.0V577.0 M480.02,494.0V577.0 M390.83,494.0V577.0 M301.64,494.0V577.0 M212.45,494.0V577.0 M123.26,494.0V577.0 M34.07,494.0V577.0" stroke="#d3d3d3" stroke-width="1" stroke-dasharray="1 1.72" fill="none"/><path d="M9.0,568.1 C17.5,568.1 44.8,568.2 60.0,568.1 C75.2,568.0 90.0,567.9 100.0,567.7 C110.0,567.5 115.0,567.6 120.0,567.1 C125.0,566.6 126.7,565.8 130.0,564.6 C133.3,563.4 136.7,561.5 140.0,559.8 C143.3,558.1 146.7,556.2 150.0,554.5 C153.3,552.8 156.7,550.6 160.0,549.3 C163.3,548.0 166.7,547.4 170.0,546.7 C173.3,546.1 175.8,545.6 180.0,545.4 C184.2,545.2 190.0,544.9 195.0,545.4 C200.0,545.9 205.0,547.7 210.0,548.4 C215.0,549.1 221.3,549.3 225.0,549.6 C228.7,549.9 229.5,550.6 232.0,550.2 C234.5,549.9 237.0,548.2 240.0,547.5 C243.0,546.8 246.7,546.2 250.0,546.1 C253.3,546.0 257.5,546.5 260.0,546.7 C262.5,546.9 262.5,546.9 265.0,547.5 C267.5,548.1 271.7,549.4 275.0,550.2 C278.3,551.0 281.7,551.9 285.0,552.4 C288.3,552.9 291.7,552.9 295.0,553.1 C298.3,553.3 301.7,553.5 305.0,553.7 C308.3,553.9 311.7,554.2 315.0,554.2 C318.3,554.2 321.7,554.1 325.0,553.7 C328.3,553.3 331.7,552.8 335.0,551.9 C338.3,551.0 342.5,549.2 345.0,548.4 C347.5,547.6 348.3,547.5 350.0,547.2 C351.7,546.9 353.3,546.5 355.0,546.7 C356.7,546.9 358.3,547.5 360.0,548.4 C361.7,549.3 363.3,550.9 365.0,551.9 C366.7,552.9 368.3,554.0 370.0,554.5 C371.7,555.0 373.3,555.6 375.0,555.0 C376.7,554.4 377.5,552.9 380.0,550.8 C382.5,548.7 387.5,544.0 390.0,542.5 C392.5,541.0 393.3,541.5 395.0,541.5 C396.7,541.5 397.5,541.6 400.0,542.5 C402.5,543.4 406.7,546.0 410.0,546.9 C413.3,547.8 416.3,547.8 420.0,547.6 C423.7,547.5 428.7,546.1 432.0,546.0 C435.3,545.9 437.0,546.2 440.0,546.9 C443.0,547.6 446.7,549.6 450.0,550.4 C453.3,551.2 456.7,551.9 460.0,551.9 C463.3,551.9 466.7,551.5 470.0,550.4 C473.3,549.3 476.7,547.0 480.0,545.4 C483.3,543.8 486.7,542.1 490.0,541.0 C493.3,539.9 496.7,539.0 500.0,538.8 C503.3,538.5 506.7,539.9 510.0,539.5 C513.3,539.1 516.7,537.7 520.0,536.5 C523.3,535.3 526.7,532.9 530.0,532.2 C533.3,531.5 536.7,531.9 540.0,532.2 C543.3,532.5 546.7,533.3 550.0,533.9 C553.3,534.5 557.5,535.5 560.0,535.9 C562.5,536.3 563.3,536.6 565.0,536.5 C566.7,536.4 568.5,535.4 570.3,535.3 C572.0,535.1 573.9,535.3 575.5,535.6 C577.1,535.9 578.6,536.5 579.9,537.3 C581.2,538.1 582.2,539.1 583.4,540.4 C584.6,541.6 585.7,543.2 586.9,544.8 C588.1,546.4 589.2,548.3 590.4,550.0 C591.6,551.7 592.6,553.6 593.9,554.9 C595.2,556.2 596.7,557.2 598.3,557.9 C599.9,558.6 601.8,558.9 603.5,559.2 C605.2,559.5 607.0,559.6 608.8,559.9 C610.5,560.2 612.2,560.6 614.0,561.0 C615.8,561.4 617.5,562.1 619.3,562.5 C621.1,562.9 621.4,563.3 625.0,563.4 C628.6,563.5 635.0,563.1 641.0,563.3 C647.0,563.5 653.7,564.3 661.0,564.4 C668.3,564.5 681.0,563.7 685.0,563.6 L685.0,567.6 C681.0,567.7 668.3,568.5 661.0,568.4 C653.7,568.3 647.0,567.5 641.0,567.3 C635.0,567.1 628.6,567.5 625.0,567.4 C621.4,567.3 621.1,566.9 619.3,566.5 C617.5,566.1 615.8,565.4 614.0,565.0 C612.2,564.6 610.5,564.2 608.8,563.9 C607.0,563.6 605.2,563.5 603.5,563.2 C601.8,562.9 599.9,562.6 598.3,561.9 C596.7,561.2 595.2,560.2 593.9,558.9 C592.6,557.6 591.6,555.7 590.4,554.0 C589.2,552.3 588.1,550.4 586.9,548.8 C585.7,547.2 584.6,545.6 583.4,544.4 C582.2,543.1 581.2,542.1 579.9,541.3 C578.6,540.5 577.1,539.9 575.5,539.6 C573.9,539.3 572.0,539.1 570.3,539.3 C568.5,539.4 566.7,540.4 565.0,540.5 C563.3,540.6 562.5,540.3 560.0,539.9 C557.5,539.5 553.3,538.5 550.0,537.9 C546.7,537.3 543.3,536.5 540.0,536.2 C536.7,535.9 533.3,535.5 530.0,536.2 C526.7,536.9 523.3,539.3 520.0,540.5 C516.7,541.7 513.3,543.1 510.0,543.5 C506.7,543.9 503.3,542.5 500.0,542.8 C496.7,543.0 493.3,543.9 490.0,545.0 C486.7,546.1 483.3,547.8 480.0,549.4 C476.7,551.0 473.3,553.3 470.0,554.4 C466.7,555.5 463.3,555.9 460.0,555.9 C456.7,555.9 453.3,555.2 450.0,554.4 C446.7,553.6 443.0,551.6 440.0,550.9 C437.0,550.2 435.3,549.9 432.0,550.0 C428.7,550.1 423.7,551.5 420.0,551.6 C416.3,551.8 413.3,551.8 410.0,550.9 C406.7,550.0 402.5,547.4 400.0,546.5 C397.5,545.6 396.7,545.5 395.0,545.5 C393.3,545.5 392.5,545.0 390.0,546.5 C387.5,548.0 382.5,552.7 380.0,554.8 C377.5,556.9 376.7,558.4 375.0,559.0 C373.3,559.6 371.7,559.0 370.0,558.5 C368.3,558.0 366.7,556.9 365.0,555.9 C363.3,554.9 361.7,553.3 360.0,552.4 C358.3,551.5 356.7,550.9 355.0,550.7 C353.3,550.5 351.7,550.9 350.0,551.2 C348.3,551.5 347.5,551.6 345.0,552.4 C342.5,553.2 338.3,555.0 335.0,555.9 C331.7,556.8 328.3,557.3 325.0,557.7 C321.7,558.1 318.3,558.2 315.0,558.2 C311.7,558.2 308.3,557.9 305.0,557.7 C301.7,557.5 298.3,557.3 295.0,557.1 C291.7,556.9 288.3,556.9 285.0,556.4 C281.7,555.9 278.3,555.0 275.0,554.2 C271.7,553.4 267.5,552.1 265.0,551.5 C262.5,550.9 262.5,550.9 260.0,550.7 C257.5,550.5 253.3,550.0 250.0,550.1 C246.7,550.2 243.0,550.8 240.0,551.5 C237.0,552.2 234.5,553.9 232.0,554.2 C229.5,554.6 228.7,553.9 225.0,553.6 C221.3,553.3 215.0,553.1 210.0,552.4 C205.0,551.7 200.0,549.9 195.0,549.4 C190.0,548.9 184.2,549.2 180.0,549.4 C175.8,549.6 173.3,550.1 170.0,550.7 C166.7,551.4 163.3,552.0 160.0,553.3 C156.7,554.6 153.3,556.8 150.0,558.5 C146.7,560.2 143.3,562.1 140.0,563.8 C136.7,565.4 133.3,567.3 130.0,568.4 C126.7,569.5 125.0,570.1 120.0,570.5 C115.0,570.9 110.0,570.6 100.0,570.7 C90.0,570.8 75.2,570.9 60.0,570.9 C44.8,570.9 17.5,570.9 9.0,570.9 Z" fill="#d8d8d8" stroke="none"/><path d="M9.0,554.4 C10.8,554.4 16.9,554.2 20.0,554.4 C23.1,554.5 25.0,554.5 27.5,555.2 C30.0,556.0 32.1,557.9 35.0,558.8 C37.9,559.6 40.8,560.0 45.0,560.5 C49.2,561.0 55.0,561.5 60.0,561.5 C65.0,561.5 71.2,560.6 75.0,560.5 C78.8,560.4 79.2,560.8 82.5,561.0 C85.8,561.2 91.2,561.2 95.0,561.5 C98.8,561.8 101.7,562.3 105.0,563.0 C108.3,563.7 112.3,564.7 115.0,565.5 C117.7,566.3 119.0,567.0 121.0,567.6 C123.0,568.2 125.2,568.8 127.0,568.9 C128.8,569.0 130.4,568.7 132.0,568.1 C133.6,567.5 135.2,566.3 136.5,565.2 C137.8,564.1 138.6,563.0 140.0,561.7 C141.4,560.5 143.3,558.9 145.0,557.7 C146.7,556.5 148.3,555.4 150.0,554.7 C151.7,554.0 153.3,554.0 155.0,553.6 C156.7,553.2 158.3,553.1 160.0,552.4 C161.7,551.7 163.3,550.4 165.0,549.3 C166.7,548.2 168.3,547.0 170.0,545.8 C171.7,544.6 173.3,543.0 175.0,542.1 C176.7,541.2 178.3,540.8 180.0,540.4 C181.7,540.0 183.3,539.8 185.0,540.0 C186.7,540.2 188.3,540.8 190.0,541.4 C191.7,542.0 193.3,542.9 195.0,543.9 C196.7,544.9 198.3,546.5 200.0,547.5 C201.7,548.5 203.3,549.0 205.0,549.6 C206.7,550.2 208.3,550.8 210.0,551.2 C211.7,551.6 213.3,551.6 215.0,551.9 C216.7,552.2 218.3,552.6 220.0,552.9 C221.7,553.2 223.3,553.5 225.0,553.6 C226.7,553.7 228.3,553.9 230.0,553.6 C231.7,553.3 233.3,552.4 235.0,551.9 C236.7,551.4 238.3,550.7 240.0,550.7 C241.7,550.7 243.3,551.2 245.0,551.9 C246.7,552.6 248.3,554.2 250.0,555.0 C251.7,555.8 253.3,556.3 255.0,556.8 C256.7,557.3 258.3,558.1 260.0,558.2 C261.7,558.3 263.3,558.3 265.0,557.2 C266.7,556.1 268.3,554.3 270.0,551.8 C271.7,549.3 273.3,544.6 275.0,542.0 C276.7,539.4 278.3,537.6 280.0,536.3 C281.7,534.9 283.3,534.4 285.0,533.9 C286.7,533.4 288.3,533.2 290.0,533.3 C291.7,533.4 293.3,533.9 295.0,534.5 C296.7,535.1 298.3,536.2 300.0,537.1 C301.7,538.0 303.3,538.9 305.0,539.9 C306.7,540.9 308.3,541.7 310.0,543.0 C311.7,544.3 313.3,546.1 315.0,547.5 C316.7,548.9 318.3,550.3 320.0,551.5 C321.7,552.7 323.3,553.8 325.0,554.7 C326.7,555.6 327.5,556.2 330.0,556.9 C332.5,557.6 336.7,558.3 340.0,558.7 C343.3,559.1 346.7,559.2 350.0,559.2 C353.3,559.2 357.5,558.8 360.0,558.7 C362.5,558.6 363.3,558.5 365.0,558.7 C366.7,558.9 367.5,560.2 370.0,560.0 C372.5,559.8 376.7,558.8 380.0,557.2 C383.3,555.7 387.5,552.2 390.0,550.7 C392.5,549.2 393.3,548.7 395.0,548.5 C396.7,548.3 397.5,548.8 400.0,549.6 C402.5,550.4 406.7,553.0 410.0,553.5 C413.3,554.0 416.7,552.8 420.0,552.8 C423.3,552.8 426.7,553.0 430.0,553.5 C433.3,554.0 436.7,555.2 440.0,555.7 C443.3,556.2 446.7,556.9 450.0,556.5 C453.3,556.1 457.5,554.8 460.0,553.5 C462.5,552.2 463.3,550.3 465.0,549.0 C466.7,547.7 467.5,546.8 470.0,545.7 C472.5,544.6 476.7,543.0 480.0,542.5 C483.3,542.0 487.5,542.9 490.0,542.9 C492.5,542.9 493.3,543.1 495.0,542.5 C496.7,541.9 498.3,540.6 500.0,539.3 C501.7,538.0 503.3,536.3 505.0,534.5 C506.7,532.7 508.3,530.4 510.0,528.4 C511.7,526.4 513.3,524.3 515.0,522.7 C516.7,521.1 518.3,519.5 520.0,518.6 C521.7,517.7 523.3,516.9 525.0,517.1 C526.7,517.3 528.0,519.6 530.0,519.9 C532.0,520.2 534.8,519.6 537.0,518.7 C539.2,517.9 540.8,515.6 543.0,514.8 C545.2,514.0 547.7,514.0 550.0,513.7 C552.3,513.4 554.5,513.3 557.0,512.9 C559.5,512.6 563.1,511.8 565.0,511.6 C566.9,511.4 567.5,512.0 568.5,512.0 C569.5,512.0 570.2,511.3 571.1,511.4 C572.0,511.5 572.9,512.1 573.8,512.8 C574.7,513.5 575.5,514.5 576.4,515.5 C577.3,516.5 578.1,517.6 579.0,519.0 C579.9,520.4 580.7,522.0 581.6,523.9 C582.5,525.8 583.4,528.2 584.3,530.2 C585.2,532.2 586.0,534.0 586.9,535.9 C587.8,537.8 588.6,539.9 589.5,541.7 C590.4,543.5 591.2,545.0 592.2,546.5 C593.2,548.0 594.4,549.7 595.7,551.0 C597.0,552.3 598.5,553.4 600.0,554.2 C601.5,555.0 602.9,555.3 604.4,555.7 C605.9,556.1 607.3,556.3 608.8,556.8 C610.3,557.3 611.7,558.0 613.2,558.6 C614.7,559.2 616.2,559.8 617.6,560.5 C619.0,561.2 620.7,562.1 621.9,562.6 C623.1,563.1 622.6,563.4 625.0,563.7 C627.4,564.0 631.7,564.1 636.0,564.3 C640.3,564.5 645.7,565.0 651.0,565.1 C656.3,565.2 662.3,564.7 668.0,564.9 C673.7,565.1 682.2,566.1 685.0,566.4 L685.0,571.4 C682.2,571.1 673.7,570.1 668.0,569.9 C662.3,569.7 656.3,570.0 651.0,570.1 C645.7,570.2 640.3,570.3 636.0,570.3 C631.7,570.3 627.4,570.2 625.0,570.1 C622.6,570.0 623.1,569.9 621.9,569.6 C620.7,569.3 619.0,568.6 617.6,568.1 C616.2,567.6 614.7,567.1 613.2,566.6 C611.7,566.1 610.3,565.2 608.8,564.8 C607.3,564.4 605.9,564.4 604.4,564.1 C602.9,563.8 601.5,563.5 600.0,563.0 C598.5,562.5 597.0,561.9 595.7,561.0 C594.4,560.1 593.2,558.7 592.2,557.5 C591.2,556.3 590.4,555.1 589.5,553.7 C588.6,552.3 587.8,550.5 586.9,548.9 C586.0,547.3 585.2,545.7 584.3,544.2 C583.4,542.7 582.5,541.3 581.6,539.9 C580.7,538.5 579.9,537.1 579.0,536.0 C578.1,534.9 577.3,534.2 576.4,533.5 C575.5,532.8 574.7,532.2 573.8,531.8 C572.9,531.4 572.0,531.0 571.1,531.0 C570.2,531.0 569.5,531.6 568.5,531.6 C567.5,531.6 566.9,531.0 565.0,531.2 C563.1,531.3 559.5,532.2 557.0,532.5 C554.5,532.8 552.3,532.7 550.0,532.7 C547.7,532.8 545.2,532.3 543.0,532.8 C540.8,533.3 539.2,535.0 537.0,535.7 C534.8,536.4 532.0,537.2 530.0,536.9 C528.0,536.6 526.7,534.1 525.0,533.7 C523.3,533.3 521.7,533.8 520.0,534.6 C518.3,535.4 516.7,537.2 515.0,538.7 C513.3,540.2 511.7,541.8 510.0,543.4 C508.3,545.0 506.7,547.0 505.0,548.5 C503.3,550.0 501.7,551.3 500.0,552.3 C498.3,553.3 496.7,554.1 495.0,554.5 C493.3,554.9 492.5,554.9 490.0,554.9 C487.5,554.9 483.3,554.0 480.0,554.5 C476.7,555.0 472.5,556.6 470.0,557.7 C467.5,558.8 466.7,559.9 465.0,561.0 C463.3,562.1 462.5,563.4 460.0,564.5 C457.5,565.6 453.3,567.1 450.0,567.5 C446.7,567.9 443.3,567.2 440.0,566.7 C436.7,566.2 433.3,565.0 430.0,564.5 C426.7,564.0 423.3,563.8 420.0,563.8 C416.7,563.8 413.3,564.7 410.0,564.5 C406.7,564.3 402.5,562.9 400.0,562.6 C397.5,562.3 396.7,562.3 395.0,562.5 C393.3,562.7 392.5,562.8 390.0,563.7 C387.5,564.7 383.3,567.2 380.0,568.2 C376.7,569.2 372.5,570.1 370.0,570.0 C367.5,569.9 366.7,568.2 365.0,567.7 C363.3,567.2 362.5,566.8 360.0,566.7 C357.5,566.6 353.3,567.2 350.0,567.2 C346.7,567.2 343.3,567.1 340.0,566.7 C336.7,566.3 332.5,565.4 330.0,564.9 C327.5,564.4 326.7,564.3 325.0,563.7 C323.3,563.1 321.7,562.4 320.0,561.5 C318.3,560.6 316.7,559.4 315.0,558.5 C313.3,557.6 311.7,556.8 310.0,556.0 C308.3,555.2 306.7,554.5 305.0,553.9 C303.3,553.2 301.7,552.7 300.0,552.1 C298.3,551.5 296.7,550.9 295.0,550.5 C293.3,550.1 291.7,549.9 290.0,549.9 C288.3,549.9 286.7,550.1 285.0,550.5 C283.3,550.9 281.7,551.2 280.0,552.3 C278.3,553.4 276.7,554.9 275.0,557.0 C273.3,559.1 271.7,562.9 270.0,564.8 C268.3,566.7 266.7,567.6 265.0,568.2 C263.3,568.8 261.7,568.4 260.0,568.2 C258.3,568.0 256.7,567.3 255.0,566.8 C253.3,566.3 251.7,565.6 250.0,565.0 C248.3,564.4 246.7,563.4 245.0,562.9 C243.3,562.4 241.7,561.7 240.0,561.7 C238.3,561.7 236.7,562.6 235.0,562.9 C233.3,563.2 231.7,563.5 230.0,563.6 C228.3,563.7 226.7,563.7 225.0,563.6 C223.3,563.5 221.7,563.2 220.0,562.9 C218.3,562.6 216.7,562.2 215.0,561.9 C213.3,561.6 211.7,561.4 210.0,561.2 C208.3,561.0 206.7,561.1 205.0,560.6 C203.3,560.1 201.7,559.3 200.0,558.5 C198.3,557.7 196.7,556.8 195.0,555.9 C193.3,555.0 191.7,554.0 190.0,553.4 C188.3,552.8 186.7,552.2 185.0,552.0 C183.3,551.8 181.7,552.0 180.0,552.4 C178.3,552.8 176.7,553.4 175.0,554.1 C173.3,554.8 171.7,555.8 170.0,556.8 C168.3,557.8 166.7,559.4 165.0,560.3 C163.3,561.2 161.7,561.8 160.0,562.4 C158.3,563.0 156.7,563.2 155.0,563.6 C153.3,564.0 151.7,564.0 150.0,564.7 C148.3,565.4 146.7,566.7 145.0,567.7 C143.3,568.7 141.4,569.9 140.0,570.7 C138.6,571.6 137.8,572.2 136.5,572.8 C135.2,573.4 133.6,574.1 132.0,574.5 C130.4,574.9 128.8,575.0 127.0,574.9 C125.2,574.8 123.0,574.2 121.0,573.6 C119.0,573.0 117.7,572.3 115.0,571.5 C112.3,570.7 108.3,569.7 105.0,569.0 C101.7,568.3 98.8,567.8 95.0,567.5 C91.2,567.2 85.8,567.2 82.5,567.0 C79.2,566.8 78.8,566.4 75.0,566.5 C71.2,566.6 65.0,567.3 60.0,567.5 C55.0,567.7 49.2,567.6 45.0,567.5 C40.8,567.4 37.9,567.1 35.0,566.8 C32.1,566.4 30.0,565.5 27.5,565.2 C25.0,565.0 23.1,565.2 20.0,565.1 C16.9,565.1 10.8,565.1 9.0,565.1 Z" fill="#f07070" fill-opacity="0.22" stroke="#f07070" stroke-opacity="0.25" stroke-width="1"/><path d="M9.0,559.8 C10.8,559.8 16.9,559.7 20.0,559.8 C23.1,559.8 25.0,559.8 27.5,560.2 C30.0,560.8 32.1,562.1 35.0,562.8 C37.9,563.4 40.8,563.7 45.0,564.0 C49.2,564.3 55.0,564.6 60.0,564.5 C65.0,564.4 71.2,563.6 75.0,563.5 C78.8,563.4 79.2,563.8 82.5,564.0 C85.8,564.2 91.2,564.2 95.0,564.5 C98.8,564.8 101.7,565.3 105.0,566.0 C108.3,566.7 112.3,567.7 115.0,568.5 C117.7,569.3 119.0,570.0 121.0,570.6 C123.0,571.2 125.2,571.8 127.0,571.9 C128.8,572.0 130.4,571.8 132.0,571.3 C133.6,570.8 135.2,569.9 136.5,569.0 C137.8,568.1 138.6,567.2 140.0,566.2 C141.4,565.2 143.3,563.8 145.0,562.7 C146.7,561.6 148.3,560.4 150.0,559.7 C151.7,559.0 153.3,559.0 155.0,558.6 C156.7,558.2 158.3,558.0 160.0,557.4 C161.7,556.8 163.3,555.8 165.0,554.8 C166.7,553.8 168.3,552.4 170.0,551.3 C171.7,550.2 173.3,548.9 175.0,548.1 C176.7,547.3 178.3,546.8 180.0,546.4 C181.7,546.0 183.3,545.8 185.0,546.0 C186.7,546.2 188.3,546.8 190.0,547.4 C191.7,548.0 193.3,549.0 195.0,549.9 C196.7,550.8 198.3,552.1 200.0,553.0 C201.7,553.9 203.3,554.6 205.0,555.1 C206.7,555.6 208.3,555.9 210.0,556.2 C211.7,556.5 213.3,556.6 215.0,556.9 C216.7,557.2 218.3,557.6 220.0,557.9 C221.7,558.2 223.3,558.5 225.0,558.6 C226.7,558.7 228.3,558.8 230.0,558.6 C231.7,558.4 233.3,557.8 235.0,557.4 C236.7,557.0 238.3,556.2 240.0,556.2 C241.7,556.2 243.3,556.8 245.0,557.4 C246.7,558.0 248.3,559.3 250.0,560.0 C251.7,560.7 253.3,561.3 255.0,561.8 C256.7,562.3 258.3,563.1 260.0,563.2 C261.7,563.4 263.3,563.5 265.0,562.7 C266.7,561.9 268.3,560.5 270.0,558.3 C271.7,556.1 273.3,551.8 275.0,549.5 C276.7,547.2 278.3,545.5 280.0,544.3 C281.7,543.1 283.3,542.7 285.0,542.2 C286.7,541.8 288.3,541.6 290.0,541.6 C291.7,541.6 293.3,542.0 295.0,542.5 C296.7,543.0 298.3,543.9 300.0,544.6 C301.7,545.3 303.3,546.1 305.0,546.9 C306.7,547.7 308.3,548.5 310.0,549.5 C311.7,550.5 313.3,551.8 315.0,553.0 C316.7,554.2 318.3,555.5 320.0,556.5 C321.7,557.5 323.3,558.5 325.0,559.2 C326.7,559.9 327.5,560.3 330.0,560.9 C332.5,561.5 336.7,562.3 340.0,562.7 C343.3,563.1 346.7,563.2 350.0,563.2 C353.3,563.2 357.5,562.7 360.0,562.7 C362.5,562.7 363.3,562.8 365.0,563.2 C366.7,563.6 367.5,565.1 370.0,565.0 C372.5,564.9 376.7,564.0 380.0,562.7 C383.3,561.4 387.5,558.4 390.0,557.2 C392.5,556.0 393.3,555.7 395.0,555.5 C396.7,555.3 397.5,555.5 400.0,556.1 C402.5,556.7 406.7,558.6 410.0,559.0 C413.3,559.4 416.7,558.3 420.0,558.3 C423.3,558.3 426.7,558.5 430.0,559.0 C433.3,559.5 436.7,560.7 440.0,561.2 C443.3,561.7 446.7,562.4 450.0,562.0 C453.3,561.6 457.5,560.2 460.0,559.0 C462.5,557.8 463.3,556.2 465.0,555.0 C466.7,553.8 467.5,552.8 470.0,551.7 C472.5,550.6 476.7,549.0 480.0,548.5 C483.3,548.0 487.5,548.9 490.0,548.9 C492.5,548.9 493.3,549.0 495.0,548.5 C496.7,548.0 498.3,547.0 500.0,545.8 C501.7,544.6 503.3,543.1 505.0,541.5 C506.7,539.9 508.3,537.7 510.0,535.9 C511.7,534.1 513.3,532.2 515.0,530.7 C516.7,529.2 518.3,527.5 520.0,526.6 C521.7,525.7 523.3,525.1 525.0,525.4 C526.7,525.7 528.0,528.1 530.0,528.4 C532.0,528.7 534.8,528.0 537.0,527.2 C539.2,526.4 540.8,524.5 543.0,523.8 C545.2,523.1 547.7,523.4 550.0,523.2 C552.3,523.0 554.5,523.0 557.0,522.7 C559.5,522.4 563.1,521.5 565.0,521.4 C566.9,521.2 567.5,521.8 568.5,521.8 C569.5,521.8 570.2,521.1 571.1,521.2 C572.0,521.3 572.9,521.8 573.8,522.3 C574.7,522.8 575.5,523.6 576.4,524.5 C577.3,525.4 578.1,526.3 579.0,527.5 C579.9,528.7 580.7,530.3 581.6,531.9 C582.5,533.5 583.4,535.5 584.3,537.2 C585.2,539.0 586.0,540.6 586.9,542.4 C587.8,544.1 588.6,546.1 589.5,547.7 C590.4,549.3 591.2,550.6 592.2,552.0 C593.2,553.4 594.4,554.9 595.7,556.0 C597.0,557.1 598.5,558.0 600.0,558.6 C601.5,559.2 602.9,559.5 604.4,559.9 C605.9,560.3 607.3,560.3 608.8,560.8 C610.3,561.2 611.7,562.0 613.2,562.6 C614.7,563.2 616.2,563.7 617.6,564.3 C619.0,564.9 620.7,565.7 621.9,566.1 C623.1,566.5 622.6,566.7 625.0,566.9 C627.4,567.1 631.7,567.2 636.0,567.3 C640.3,567.4 645.7,567.6 651.0,567.6 C656.3,567.6 662.3,567.2 668.0,567.4 C673.7,567.6 682.2,568.6 685.0,568.9" stroke="#f07070" stroke-width="1.6" fill="none" stroke-linejoin="round" stroke-linecap="round"/><path d="M9.10,496.00V573.50 M0,496.00H9.10 M0,511.50H9.10 M0,527.00H9.10 M0,542.50H9.10 M0,558.00H9.10 M0,573.50H9.10 M34.07,577.00H658.40 M658.40,577.00V586.00 M636.10,577.00V581.20 M613.80,577.00V581.20 M591.51,577.00V581.20 M569.21,577.00V586.00 M546.91,577.00V581.20 M524.62,577.00V581.20 M502.32,577.00V581.20 M480.02,577.00V586.00 M457.72,577.00V581.20 M435.42,577.00V581.20 M413.13,577.00V581.20 M390.83,577.00V586.00 M368.53,577.00V581.20 M346.23,577.00V581.20 M323.94,577.00V581.20 M301.64,577.00V586.00 M279.34,577.00V581.20 M257.04,577.00V581.20 M234.75,577.00V581.20 M212.45,577.00V586.00 M190.15,577.00V581.20 M167.85,577.00V581.20 M145.56,577.00V581.20 M123.26,577.00V586.00 M100.96,577.00V581.20 M78.66,577.00V581.20 M56.37,577.00V581.20 M34.07,577.00V586.00" stroke="#000" stroke-width="1.4" fill="none" stroke-linecap="butt"/><text x="658.40" y="603.45" font-size="14.8" text-anchor="middle" stroke="#000" stroke-width="0.3">1 cal BC</text><text x="569.21" y="603.45" font-size="14.8" text-anchor="middle" stroke="#000" stroke-width="0.3">1000</text><text x="480.02" y="603.45" font-size="14.8" text-anchor="middle" stroke="#000" stroke-width="0.3">2000</text><text x="390.83" y="603.45" font-size="14.8" text-anchor="middle" stroke="#000" stroke-width="0.3">3000</text><text x="301.64" y="603.45" font-size="14.8" text-anchor="middle" stroke="#000" stroke-width="0.3">4000</text><text x="212.45" y="603.45" font-size="14.8" text-anchor="middle" stroke="#000" stroke-width="0.3">5000</text><text x="123.26" y="603.45" font-size="14.8" text-anchor="middle" stroke="#000" stroke-width="0.3">6000</text><text x="34.07" y="603.45" font-size="14.8" text-anchor="middle" stroke="#000" stroke-width="0.3">7000</text><text x="35.1" y="515.20" font-size="14.8" stroke="#000" stroke-width="0.25">Corsica</text><text x="130.35" y="558.80" font-size="21.4" text-anchor="middle" stroke="#000" stroke-width="0.2">A</text><text x="182.10" y="533.50" font-size="21.4" text-anchor="middle" stroke="#000" stroke-width="0.2">B</text><text x="578.00" y="507.70" font-size="21.4" text-anchor="middle" stroke="#000" stroke-width="0.2">H</text></g>
<g><path d="M9.1,619.00H685 M9.1,638.38H685 M9.1,657.75H685 M9.1,677.12H685 M9.1,696.50H685 M658.40,616.9V699.9 M569.21,616.9V699.9 M480.02,616.9V699.9 M390.83,616.9V699.9 M301.64,616.9V699.9 M212.45,616.9V699.9 M123.26,616.9V699.9 M34.07,616.9V699.9" stroke="#d3d3d3" stroke-width="1" stroke-dasharray="1 1.72" fill="none"/><path d="M9.0,690.5 C24.2,690.5 83.2,690.5 100.0,690.8 C116.8,691.0 105.8,691.9 110.0,692.0 C114.2,692.1 120.0,692.0 125.0,691.2 C130.0,690.5 135.0,689.0 140.0,687.5 C145.0,686.0 149.8,684.2 155.0,682.5 C160.2,680.8 165.8,678.1 171.0,677.5 C176.2,676.9 181.0,678.2 186.0,678.8 C191.0,679.2 195.2,680.1 201.0,680.5 C206.8,680.9 214.3,681.4 221.0,681.2 C227.7,681.1 235.2,679.9 241.0,679.5 C246.8,679.1 251.8,678.8 256.0,678.8 C260.2,678.8 261.8,678.9 266.0,679.5 C270.2,680.1 276.0,681.8 281.0,682.5 C286.0,683.2 291.0,683.5 296.0,683.8 C301.0,684.0 306.2,684.0 311.0,683.8 C315.8,683.5 320.3,683.3 325.0,682.5 C329.7,681.7 336.3,679.7 339.4,679.1 C342.5,678.5 342.4,678.8 343.8,678.8 C345.2,678.8 346.7,678.9 348.1,679.1 C349.6,679.3 351.0,679.8 352.5,680.2 C354.0,680.6 355.4,681.2 356.9,681.7 C358.4,682.2 359.8,682.8 361.3,683.2 C362.8,683.6 364.2,683.8 365.7,684.1 C367.1,684.4 368.6,684.9 370.0,685.0 C371.4,685.1 372.9,685.0 374.4,684.8 C375.9,684.5 377.4,684.2 378.8,683.5 C380.2,682.8 381.7,681.6 383.1,680.6 C384.6,679.6 386.0,678.3 387.5,677.5 C389.0,676.7 390.6,676.0 391.9,675.6 C393.2,675.2 394.3,675.2 395.5,675.3 C396.7,675.4 398.0,675.8 399.2,676.2 C400.4,676.6 401.6,677.2 402.8,677.7 C404.0,678.2 405.1,678.7 406.5,679.0 C407.9,679.3 409.4,679.5 410.9,679.7 C412.4,679.9 413.1,679.9 415.3,680.0 C417.6,680.1 420.8,680.5 424.4,680.4 C428.0,680.2 432.7,679.0 436.8,679.1 C440.9,679.2 445.5,680.4 449.2,680.9 C452.9,681.4 455.8,682.4 459.1,682.4 C462.4,682.4 465.8,681.6 469.1,680.9 C472.4,680.1 475.7,678.7 479.0,677.9 C482.3,677.1 485.2,676.4 488.9,675.9 C492.6,675.4 497.8,675.2 501.3,674.9 C504.8,674.5 506.9,674.4 510.0,673.8 C513.1,673.2 516.7,671.9 520.0,671.2 C523.3,670.5 526.7,669.6 530.0,669.4 C533.3,669.2 535.8,669.6 540.0,670.0 C544.2,670.4 550.3,671.3 555.0,671.7 C559.7,672.1 564.7,672.2 568.0,672.2 C571.3,672.2 573.1,671.8 575.0,671.9 C576.9,672.0 577.9,672.3 579.4,672.9 C580.9,673.5 582.3,674.2 583.8,675.2 C585.2,676.2 586.6,677.6 588.1,678.9 C589.6,680.2 591.0,681.8 592.5,682.9 C594.0,684.0 595.4,684.8 596.9,685.4 C598.4,686.0 599.6,686.1 601.3,686.5 C603.0,686.9 605.1,687.2 607.1,687.5 C609.1,687.8 611.0,688.1 613.0,688.4 C615.0,688.7 616.8,689.4 618.8,689.5 C620.8,689.6 622.4,689.2 625.2,689.3 C628.0,689.4 632.0,690.0 635.4,690.2 C638.8,690.4 642.3,690.4 645.7,690.4 C649.1,690.4 652.5,690.4 655.9,690.4 C659.3,690.4 662.7,690.3 666.1,690.2 C669.5,690.1 673.1,690.0 676.3,689.9 C679.4,689.8 683.5,689.6 685.0,689.6 L685.0,693.6 C683.5,693.6 679.4,693.8 676.3,693.9 C673.1,694.0 669.5,694.1 666.1,694.2 C662.7,694.3 659.3,694.4 655.9,694.4 C652.5,694.4 649.1,694.4 645.7,694.4 C642.3,694.4 638.8,694.4 635.4,694.2 C632.0,694.0 628.0,693.4 625.2,693.3 C622.4,693.2 620.8,693.6 618.8,693.5 C616.8,693.4 615.0,692.7 613.0,692.4 C611.0,692.1 609.1,691.8 607.1,691.5 C605.1,691.2 603.0,690.9 601.3,690.5 C599.6,690.1 598.4,690.0 596.9,689.4 C595.4,688.8 594.0,688.0 592.5,686.9 C591.0,685.8 589.6,684.2 588.1,682.9 C586.6,681.6 585.2,680.2 583.8,679.2 C582.3,678.2 580.9,677.5 579.4,676.9 C577.9,676.3 576.9,676.0 575.0,675.9 C573.1,675.8 571.3,676.2 568.0,676.2 C564.7,676.2 559.7,676.1 555.0,675.7 C550.3,675.3 544.2,674.4 540.0,674.0 C535.8,673.6 533.3,673.2 530.0,673.4 C526.7,673.6 523.3,674.5 520.0,675.2 C516.7,675.9 513.1,677.2 510.0,677.8 C506.9,678.4 504.8,678.5 501.3,678.9 C497.8,679.2 492.6,679.4 488.9,679.9 C485.2,680.4 482.3,681.1 479.0,681.9 C475.7,682.7 472.4,684.1 469.1,684.9 C465.8,685.6 462.4,686.4 459.1,686.4 C455.8,686.4 452.9,685.4 449.2,684.9 C445.5,684.4 440.9,683.2 436.8,683.1 C432.7,683.0 428.0,684.2 424.4,684.4 C420.8,684.5 417.6,684.1 415.3,684.0 C413.1,683.9 412.4,683.9 410.9,683.7 C409.4,683.5 407.9,683.3 406.5,683.0 C405.1,682.7 404.0,682.2 402.8,681.7 C401.6,681.2 400.4,680.6 399.2,680.2 C398.0,679.8 396.7,679.4 395.5,679.3 C394.3,679.2 393.2,679.2 391.9,679.6 C390.6,680.0 389.0,680.7 387.5,681.5 C386.0,682.3 384.6,683.6 383.1,684.6 C381.7,685.6 380.2,686.8 378.8,687.5 C377.4,688.2 375.9,688.5 374.4,688.8 C372.9,689.0 371.4,689.1 370.0,689.0 C368.6,688.9 367.1,688.4 365.7,688.1 C364.2,687.8 362.8,687.6 361.3,687.2 C359.8,686.8 358.4,686.2 356.9,685.7 C355.4,685.2 354.0,684.6 352.5,684.2 C351.0,683.8 349.6,683.3 348.1,683.1 C346.7,682.9 345.2,682.8 343.8,682.8 C342.4,682.8 342.5,682.5 339.4,683.1 C336.3,683.7 329.7,685.7 325.0,686.5 C320.3,687.3 315.8,687.5 311.0,687.8 C306.2,688.0 301.0,688.0 296.0,687.8 C291.0,687.5 286.0,687.2 281.0,686.5 C276.0,685.8 270.2,684.1 266.0,683.5 C261.8,682.9 260.2,682.8 256.0,682.8 C251.8,682.8 246.8,683.1 241.0,683.5 C235.2,683.9 227.7,685.1 221.0,685.2 C214.3,685.4 206.8,684.9 201.0,684.5 C195.2,684.1 191.0,683.2 186.0,682.8 C181.0,682.2 176.2,680.9 171.0,681.5 C165.8,682.1 160.2,684.8 155.0,686.5 C149.8,688.2 145.0,690.0 140.0,691.5 C135.0,693.0 130.0,694.5 125.0,695.2 C120.0,696.0 114.2,696.1 110.0,696.0 C105.8,695.9 116.8,695.0 100.0,694.8 C83.2,694.5 24.2,694.5 9.0,694.5 Z" fill="#d8d8d8" stroke="none"/><path d="M9.0,690.5 C11.6,690.4 20.1,689.8 24.8,689.8 C29.5,689.8 33.1,690.3 37.2,690.3 C41.3,690.3 45.9,690.1 49.6,689.8 C53.3,689.5 56.5,689.0 59.6,688.6 C62.7,688.2 65.3,687.4 68.2,687.4 C71.1,687.4 73.8,688.0 76.9,688.6 C80.0,689.2 83.1,690.5 86.8,691.1 C90.5,691.7 95.1,692.0 99.3,692.3 C103.5,692.6 107.6,692.9 111.7,692.8 C115.8,692.7 120.4,691.9 124.1,691.8 C127.8,691.7 131.1,692.3 134.0,692.3 C136.9,692.3 138.9,692.4 141.4,691.8 C143.9,691.2 146.0,690.0 148.9,688.6 C151.8,687.2 155.3,685.1 158.8,683.6 C162.3,682.1 166.7,680.9 170.0,679.6 C173.3,678.3 175.8,676.6 178.5,676.0 C181.2,675.4 183.5,675.4 186.0,676.0 C188.5,676.6 190.3,678.0 193.5,679.5 C196.7,681.0 200.6,683.5 205.0,684.9 C209.4,686.3 214.2,687.3 220.0,688.0 C225.8,688.7 233.3,688.9 240.0,688.9 C246.7,688.9 253.3,688.4 260.0,688.0 C266.7,687.6 273.3,687.3 280.0,686.7 C286.7,686.1 295.0,685.1 300.0,684.3 C305.0,683.4 307.5,682.4 310.0,681.6 C312.5,680.8 313.3,680.5 315.0,679.6 C316.7,678.8 318.3,677.5 320.0,676.5 C321.7,675.5 323.3,674.3 325.0,673.5 C326.7,672.7 328.7,672.1 330.0,671.9 C331.3,671.6 332.0,671.7 333.0,672.0 C334.0,672.3 334.8,672.8 336.0,673.5 C337.2,674.2 338.8,675.4 340.0,676.5 C341.2,677.6 342.3,679.0 343.5,680.1 C344.7,681.2 345.9,682.3 347.0,683.0 C348.1,683.7 348.8,683.9 350.0,684.3 C351.2,684.7 352.5,685.4 354.0,685.6 C355.5,685.8 357.4,685.4 359.1,685.4 C360.8,685.4 362.4,685.8 364.2,685.9 C366.0,686.0 368.3,686.3 370.0,686.3 C371.7,686.3 372.9,686.4 374.4,686.1 C375.9,685.9 377.4,685.5 378.8,684.8 C380.2,684.1 381.7,682.8 383.1,681.9 C384.6,681.0 386.0,680.1 387.5,679.4 C389.0,678.7 390.6,678.2 391.9,677.9 C393.2,677.6 394.3,677.5 395.5,677.8 C396.7,678.0 398.0,678.7 399.2,679.4 C400.4,680.1 401.6,681.1 402.8,681.9 C404.0,682.7 405.1,683.5 406.5,684.1 C407.9,684.7 409.4,685.1 410.9,685.4 C412.4,685.7 413.9,685.7 415.3,685.8 C416.7,685.9 417.0,686.5 419.4,686.1 C421.8,685.7 426.1,684.6 429.4,683.6 C432.7,682.6 436.0,681.2 439.3,680.4 C442.6,679.6 445.9,679.2 449.2,678.6 C452.5,678.0 455.8,677.3 459.1,676.9 C462.4,676.5 465.8,676.4 469.1,676.1 C472.4,675.8 475.7,675.2 479.0,674.9 C482.3,674.6 485.6,674.6 488.9,674.4 C492.2,674.2 495.5,674.1 498.8,673.7 C502.1,673.3 506.1,672.3 508.8,671.9 C511.5,671.5 513.1,671.6 515.0,671.1 C516.9,670.6 518.3,670.1 520.0,669.1 C521.7,668.1 523.3,666.8 525.0,665.3 C526.7,663.8 528.3,661.6 530.0,659.9 C531.7,658.2 533.3,656.4 535.0,655.2 C536.7,654.0 538.3,653.2 540.0,652.6 C541.7,652.0 543.3,651.9 545.0,651.7 C546.7,651.5 548.3,651.7 550.0,651.4 C551.7,651.1 553.3,650.6 555.0,650.0 C556.7,649.4 558.2,648.4 560.0,647.5 C561.8,646.6 563.8,645.7 565.8,644.6 C567.8,643.5 570.1,642.0 571.7,641.2 C573.3,640.4 574.3,639.9 575.3,639.8 C576.3,639.7 577.0,639.9 577.9,640.8 C578.8,641.7 579.8,643.4 580.8,645.0 C581.8,646.6 582.8,648.5 583.8,650.5 C584.8,652.5 585.7,654.5 586.7,656.7 C587.7,658.9 588.6,661.5 589.6,663.7 C590.6,665.9 591.5,668.1 592.5,670.1 C593.5,672.1 594.4,674.1 595.4,675.7 C596.4,677.3 597.3,678.5 598.4,679.5 C599.5,680.5 600.8,681.4 602.0,681.9 C603.2,682.4 604.5,682.5 605.7,682.8 C606.9,683.1 608.1,683.3 609.3,683.6 C610.5,683.9 611.8,684.3 613.0,684.8 C614.2,685.3 615.4,686.0 616.6,686.6 C617.8,687.2 618.9,688.0 620.3,688.7 C621.7,689.4 623.5,690.3 625.2,690.8 C626.9,691.3 628.6,691.6 630.3,691.9 C632.0,692.2 633.7,692.3 635.4,692.4 C637.1,692.5 638.8,692.7 640.5,692.7 C642.2,692.7 644.0,692.5 645.7,692.4 C647.4,692.3 649.1,692.0 650.8,691.9 C652.5,691.8 654.2,691.7 655.9,691.9 C657.6,692.1 659.3,692.6 661.0,692.9 C662.7,693.2 664.4,693.6 666.1,693.8 C667.8,694.0 668.1,694.1 671.2,694.2 C674.4,694.3 682.7,694.2 685.0,694.2 L685.0,699.2 C682.7,699.2 674.4,699.3 671.2,699.2 C668.1,699.1 667.8,699.0 666.1,698.8 C664.4,698.6 662.7,698.2 661.0,697.9 C659.3,697.6 657.6,697.1 655.9,696.9 C654.2,696.7 652.5,696.8 650.8,696.9 C649.1,697.0 647.4,697.3 645.7,697.4 C644.0,697.5 642.2,697.7 640.5,697.7 C638.8,697.7 637.1,697.5 635.4,697.4 C633.7,697.3 632.0,697.2 630.3,696.9 C628.6,696.6 626.9,696.3 625.2,695.8 C623.5,695.3 621.7,694.4 620.3,693.7 C618.9,693.0 617.8,692.2 616.6,691.6 C615.4,691.0 614.2,690.3 613.0,689.8 C611.8,689.3 610.5,688.9 609.3,688.6 C608.1,688.3 606.9,688.1 605.7,687.8 C604.5,687.5 603.2,687.4 602.0,686.9 C600.8,686.4 599.5,686.0 598.4,685.1 C597.3,684.2 596.4,683.0 595.4,681.7 C594.4,680.4 593.5,678.8 592.5,677.1 C591.5,675.4 590.6,673.6 589.6,671.7 C588.6,669.8 587.7,667.6 586.7,665.7 C585.7,663.8 584.8,661.9 583.8,660.1 C582.8,658.3 581.8,656.5 580.8,655.0 C579.8,653.5 578.8,652.0 577.9,651.2 C577.0,650.4 576.3,650.1 575.3,650.2 C574.3,650.3 573.3,650.9 571.7,651.6 C570.1,652.3 567.8,653.6 565.8,654.6 C563.8,655.6 561.8,656.7 560.0,657.5 C558.2,658.3 556.7,659.0 555.0,659.6 C553.3,660.2 551.7,660.7 550.0,661.0 C548.3,661.3 546.7,661.1 545.0,661.3 C543.3,661.5 541.7,661.7 540.0,662.2 C538.3,662.7 536.7,663.2 535.0,664.2 C533.3,665.2 531.7,666.5 530.0,667.9 C528.3,669.2 526.7,671.0 525.0,672.3 C523.3,673.6 521.7,674.7 520.0,675.5 C518.3,676.3 516.9,676.7 515.0,677.1 C513.1,677.5 511.5,677.6 508.8,677.9 C506.1,678.2 502.1,678.5 498.8,678.7 C495.5,679.0 492.2,679.2 488.9,679.4 C485.6,679.6 482.3,679.6 479.0,679.9 C475.7,680.2 472.4,680.8 469.1,681.1 C465.8,681.4 462.4,681.5 459.1,681.9 C455.8,682.3 452.5,683.0 449.2,683.6 C445.9,684.2 442.6,684.6 439.3,685.4 C436.0,686.2 432.7,687.6 429.4,688.6 C426.1,689.6 421.8,690.7 419.4,691.1 C417.0,691.5 416.7,690.9 415.3,690.8 C413.9,690.7 412.4,690.7 410.9,690.4 C409.4,690.1 407.9,689.7 406.5,689.1 C405.1,688.5 404.0,687.7 402.8,686.9 C401.6,686.1 400.4,685.1 399.2,684.4 C398.0,683.7 396.7,683.0 395.5,682.8 C394.3,682.5 393.2,682.6 391.9,682.9 C390.6,683.2 389.0,683.7 387.5,684.4 C386.0,685.1 384.6,686.0 383.1,686.9 C381.7,687.8 380.2,689.1 378.8,689.8 C377.4,690.5 375.9,690.9 374.4,691.1 C372.9,691.4 371.7,691.3 370.0,691.3 C368.3,691.3 366.0,691.0 364.2,690.9 C362.4,690.8 360.8,690.4 359.1,690.4 C357.4,690.4 355.5,690.8 354.0,690.6 C352.5,690.4 351.2,689.7 350.0,689.3 C348.8,688.9 348.1,688.7 347.0,688.0 C345.9,687.3 344.7,686.0 343.5,685.1 C342.3,684.2 341.2,683.3 340.0,682.5 C338.8,681.7 337.2,680.7 336.0,680.1 C334.8,679.5 334.0,679.2 333.0,679.0 C332.0,678.8 331.3,678.7 330.0,678.9 C328.7,679.1 326.7,679.5 325.0,680.1 C323.3,680.7 321.7,681.8 320.0,682.5 C318.3,683.2 316.7,683.9 315.0,684.6 C313.3,685.3 312.5,685.8 310.0,686.6 C307.5,687.4 305.0,688.4 300.0,689.3 C295.0,690.1 286.7,691.1 280.0,691.7 C273.3,692.3 266.7,692.6 260.0,693.0 C253.3,693.4 246.7,693.9 240.0,693.9 C233.3,693.9 225.8,693.7 220.0,693.0 C214.2,692.3 209.4,691.3 205.0,689.9 C200.6,688.5 196.7,685.8 193.5,684.5 C190.3,683.2 188.5,682.4 186.0,682.0 C183.5,681.6 181.2,681.5 178.5,682.0 C175.8,682.5 173.3,684.1 170.0,685.2 C166.7,686.3 162.3,687.2 158.8,688.6 C155.3,690.0 151.8,692.2 148.9,693.6 C146.0,695.0 143.9,696.2 141.4,696.8 C138.9,697.4 136.9,697.3 134.0,697.3 C131.1,697.3 127.8,696.7 124.1,696.8 C120.4,696.9 115.8,697.7 111.7,697.8 C107.6,697.9 103.5,697.6 99.3,697.3 C95.1,697.0 90.5,696.7 86.8,696.1 C83.1,695.5 80.0,694.2 76.9,693.6 C73.8,693.0 71.1,692.4 68.2,692.4 C65.3,692.4 62.7,693.2 59.6,693.6 C56.5,694.0 53.3,694.5 49.6,694.8 C45.9,695.1 41.3,695.3 37.2,695.3 C33.1,695.3 29.5,694.8 24.8,694.8 C20.1,694.8 11.6,695.4 9.0,695.5 Z" fill="#4a32c8" fill-opacity="0.2" stroke="#4a32c8" stroke-opacity="0.25" stroke-width="1"/><path d="M9.0,693.0 C11.6,692.9 20.1,692.3 24.8,692.3 C29.5,692.3 33.1,692.8 37.2,692.8 C41.3,692.8 45.9,692.6 49.6,692.3 C53.3,692.0 56.5,691.5 59.6,691.1 C62.7,690.7 65.3,689.9 68.2,689.9 C71.1,689.9 73.8,690.5 76.9,691.1 C80.0,691.7 83.1,693.0 86.8,693.6 C90.5,694.2 95.1,694.5 99.3,694.8 C103.5,695.1 107.6,695.4 111.7,695.3 C115.8,695.2 120.4,694.4 124.1,694.3 C127.8,694.2 131.1,694.8 134.0,694.8 C136.9,694.8 138.9,694.9 141.4,694.3 C143.9,693.7 146.0,692.5 148.9,691.1 C151.8,689.7 155.3,687.6 158.8,686.1 C162.3,684.6 166.7,683.6 170.0,682.4 C173.3,681.2 175.8,679.6 178.5,679.0 C181.2,678.4 183.5,678.5 186.0,679.0 C188.5,679.5 190.3,680.6 193.5,682.0 C196.7,683.4 200.6,686.0 205.0,687.4 C209.4,688.8 214.2,689.8 220.0,690.5 C225.8,691.2 233.3,691.4 240.0,691.4 C246.7,691.4 253.3,690.9 260.0,690.5 C266.7,690.1 273.3,689.8 280.0,689.2 C286.7,688.6 295.0,687.6 300.0,686.8 C305.0,685.9 307.5,684.9 310.0,684.1 C312.5,683.3 313.3,682.9 315.0,682.1 C316.7,681.3 318.3,680.4 320.0,679.5 C321.7,678.6 323.3,677.5 325.0,676.8 C326.7,676.1 328.7,675.6 330.0,675.4 C331.3,675.2 332.0,675.3 333.0,675.5 C334.0,675.7 334.8,676.1 336.0,676.8 C337.2,677.5 338.8,678.5 340.0,679.5 C341.2,680.5 342.3,681.6 343.5,682.6 C344.7,683.6 345.9,684.8 347.0,685.5 C348.1,686.2 348.8,686.4 350.0,686.8 C351.2,687.2 352.5,687.9 354.0,688.1 C355.5,688.3 357.4,687.9 359.1,687.9 C360.8,687.9 362.4,688.2 364.2,688.4 C366.0,688.5 368.3,688.8 370.0,688.8 C371.7,688.8 372.9,688.9 374.4,688.6 C375.9,688.4 377.4,688.0 378.8,687.3 C380.2,686.6 381.7,685.3 383.1,684.4 C384.6,683.5 386.0,682.6 387.5,681.9 C389.0,681.2 390.6,680.7 391.9,680.4 C393.2,680.1 394.3,680.0 395.5,680.3 C396.7,680.5 398.0,681.2 399.2,681.9 C400.4,682.6 401.6,683.6 402.8,684.4 C404.0,685.2 405.1,686.0 406.5,686.6 C407.9,687.2 409.4,687.6 410.9,687.9 C412.4,688.2 413.9,688.2 415.3,688.3 C416.7,688.4 417.0,689.0 419.4,688.6 C421.8,688.2 426.1,687.1 429.4,686.1 C432.7,685.1 436.0,683.7 439.3,682.9 C442.6,682.1 445.9,681.7 449.2,681.1 C452.5,680.5 455.8,679.8 459.1,679.4 C462.4,679.0 465.8,678.9 469.1,678.6 C472.4,678.3 475.7,677.7 479.0,677.4 C482.3,677.1 485.6,677.1 488.9,676.9 C492.2,676.7 495.5,676.5 498.8,676.2 C502.1,675.9 506.1,675.2 508.8,674.9 C511.5,674.5 513.1,674.5 515.0,674.1 C516.9,673.7 518.3,673.2 520.0,672.3 C521.7,671.4 523.3,670.2 525.0,668.8 C526.7,667.4 528.3,665.4 530.0,663.9 C531.7,662.4 533.3,660.8 535.0,659.7 C536.7,658.6 538.3,657.9 540.0,657.4 C541.7,656.9 543.3,656.7 545.0,656.5 C546.7,656.3 548.3,656.5 550.0,656.2 C551.7,655.9 553.3,655.4 555.0,654.8 C556.7,654.2 558.2,653.4 560.0,652.5 C561.8,651.6 563.8,650.6 565.8,649.6 C567.8,648.6 570.1,647.2 571.7,646.4 C573.3,645.6 574.3,645.1 575.3,645.0 C576.3,644.9 577.0,645.2 577.9,646.0 C578.8,646.8 579.8,648.5 580.8,650.0 C581.8,651.5 582.8,653.4 583.8,655.3 C584.8,657.2 585.7,659.1 586.7,661.2 C587.7,663.3 588.6,665.6 589.6,667.7 C590.6,669.8 591.5,671.8 592.5,673.6 C593.5,675.4 594.4,677.2 595.4,678.7 C596.4,680.2 597.3,681.3 598.4,682.3 C599.5,683.2 600.8,683.9 602.0,684.4 C603.2,684.9 604.5,685.0 605.7,685.3 C606.9,685.6 608.1,685.8 609.3,686.1 C610.5,686.4 611.8,686.8 613.0,687.3 C614.2,687.8 615.4,688.5 616.6,689.1 C617.8,689.8 618.9,690.5 620.3,691.2 C621.7,691.9 623.5,692.8 625.2,693.3 C626.9,693.8 628.6,694.1 630.3,694.4 C632.0,694.7 633.7,694.8 635.4,694.9 C637.1,695.0 638.8,695.2 640.5,695.2 C642.2,695.2 644.0,695.0 645.7,694.9 C647.4,694.8 649.1,694.5 650.8,694.4 C652.5,694.3 654.2,694.2 655.9,694.4 C657.6,694.6 659.3,695.1 661.0,695.4 C662.7,695.7 664.4,696.1 666.1,696.3 C667.8,696.5 668.1,696.6 671.2,696.7 C674.4,696.8 682.7,696.7 685.0,696.7" stroke="#4a32c8" stroke-width="1.6" fill="none" stroke-linejoin="round" stroke-linecap="round"/><path d="M9.10,619.00V696.50 M0,619.00H9.10 M0,638.38H9.10 M0,657.75H9.10 M0,677.12H9.10 M0,696.50H9.10 M34.07,699.90H658.40 M658.40,699.90V708.90 M636.10,699.90V704.10 M613.80,699.90V704.10 M591.51,699.90V704.10 M569.21,699.90V708.90 M546.91,699.90V704.10 M524.62,699.90V704.10 M502.32,699.90V704.10 M480.02,699.90V708.90 M457.72,699.90V704.10 M435.42,699.90V704.10 M413.13,699.90V704.10 M390.83,699.90V708.90 M368.53,699.90V704.10 M346.23,699.90V704.10 M323.94,699.90V704.10 M301.64,699.90V708.90 M279.34,699.90V704.10 M257.04,699.90V704.10 M234.75,699.90V704.10 M212.45,699.90V708.90 M190.15,699.90V704.10 M167.85,699.90V704.10 M145.56,699.90V704.10 M123.26,699.90V708.90 M100.96,699.90V704.10 M78.66,699.90V704.10 M56.37,699.90V704.10 M34.07,699.90V708.90" stroke="#000" stroke-width="1.4" fill="none" stroke-linecap="butt"/><text x="658.40" y="726.35" font-size="14.8" text-anchor="middle" stroke="#000" stroke-width="0.3">1 cal BC</text><text x="569.21" y="726.35" font-size="14.8" text-anchor="middle" stroke="#000" stroke-width="0.3">1000</text><text x="480.02" y="726.35" font-size="14.8" text-anchor="middle" stroke="#000" stroke-width="0.3">2000</text><text x="390.83" y="726.35" font-size="14.8" text-anchor="middle" stroke="#000" stroke-width="0.3">3000</text><text x="301.64" y="726.35" font-size="14.8" text-anchor="middle" stroke="#000" stroke-width="0.3">4000</text><text x="212.45" y="726.35" font-size="14.8" text-anchor="middle" stroke="#000" stroke-width="0.3">5000</text><text x="123.26" y="726.35" font-size="14.8" text-anchor="middle" stroke="#000" stroke-width="0.3">6000</text><text x="34.07" y="726.35" font-size="14.8" text-anchor="middle" stroke="#000" stroke-width="0.3">7000</text><text x="35.1" y="638.10" font-size="14.8" stroke="#000" stroke-width="0.25">Sardinia</text><text x="135.00" y="680.60" font-size="21.4" text-anchor="middle" stroke="#000" stroke-width="0.2">A</text><text x="178.20" y="668.10" font-size="21.4" text-anchor="middle" stroke="#000" stroke-width="0.2">B</text><text x="327.90" y="663.70" font-size="21.4" text-anchor="middle" stroke="#000" stroke-width="0.2">D</text><text x="580.60" y="635.50" font-size="21.4" text-anchor="middle" stroke="#000" stroke-width="0.2">H</text></g>
<g><path d="M9.1,745.70H685 M9.1,758.02H685 M9.1,770.33H685 M9.1,782.65H685 M9.1,794.97H685 M9.1,807.28H685 M9.1,819.60H685 M658.40,739.8V822.8 M569.21,739.8V822.8 M480.02,739.8V822.8 M390.83,739.8V822.8 M301.64,739.8V822.8 M212.45,739.8V822.8 M123.26,739.8V822.8 M34.07,739.8V822.8" stroke="#d3d3d3" stroke-width="1" stroke-dasharray="1 1.72" fill="none"/><path d="M9.0,813.5 C12.5,813.6 21.5,814.1 30.0,814.2 C38.5,814.4 50.0,814.2 60.0,814.2 C70.0,814.2 81.7,814.3 90.0,814.2 C98.3,814.2 105.0,814.3 110.0,814.0 C115.0,813.7 116.7,813.2 120.0,812.4 C123.3,811.6 126.7,810.5 130.0,809.3 C133.3,808.1 136.7,806.6 140.0,805.3 C143.3,804.0 146.7,802.5 150.0,801.4 C153.3,800.2 156.4,799.2 160.0,798.4 C163.6,797.6 167.6,796.8 171.4,796.5 C175.2,796.2 178.9,796.2 182.8,796.5 C186.7,796.8 191.5,797.8 195.0,798.2 C198.5,798.7 200.9,798.9 203.8,799.2 C206.7,799.5 209.9,800.0 212.5,800.1 C215.1,800.2 217.4,800.0 219.5,799.8 C221.6,799.6 223.1,799.1 224.8,798.8 C226.6,798.4 228.2,798.0 230.0,797.7 C231.8,797.4 233.2,797.1 235.3,797.0 C237.4,796.9 240.0,796.8 242.3,796.8 C244.6,796.8 246.6,797.2 249.3,797.2 C252.0,797.2 255.2,796.4 258.7,796.6 C262.2,796.8 266.6,797.6 270.1,798.4 C273.6,799.2 276.3,800.4 279.6,801.3 C282.9,802.2 286.6,803.4 290.0,803.6 C293.4,803.8 295.0,802.4 300.0,802.3 C305.0,802.2 313.3,803.9 320.0,803.0 C326.7,802.1 335.2,797.8 340.0,796.9 C344.8,796.0 345.9,796.9 348.8,797.6 C351.7,798.3 354.6,800.0 357.5,801.2 C360.4,802.4 363.4,804.2 366.3,804.9 C369.2,805.6 372.3,806.1 375.0,805.6 C377.7,805.1 380.1,803.6 382.3,802.0 C384.5,800.4 386.0,797.6 388.2,796.1 C390.4,794.6 393.3,793.5 395.5,793.2 C397.7,792.9 399.1,793.7 401.3,794.4 C403.5,795.1 405.9,796.8 408.6,797.6 C411.3,798.4 414.5,798.9 417.4,799.1 C420.3,799.3 423.4,799.2 426.1,798.8 C428.8,798.4 431.1,797.0 433.4,796.9 C435.7,796.8 437.2,797.4 440.0,798.0 C442.8,798.6 446.7,799.9 450.0,800.5 C453.3,801.1 456.7,801.7 460.0,801.4 C463.3,801.1 466.4,800.0 470.0,798.5 C473.6,797.0 477.2,793.8 481.3,792.5 C485.4,791.2 490.0,790.8 494.4,790.6 C498.8,790.4 503.2,791.5 507.6,791.2 C512.0,790.9 516.3,789.5 520.7,788.6 C525.1,787.7 530.2,786.0 533.8,785.6 C537.3,785.2 539.3,785.8 542.0,786.2 C544.7,786.6 547.0,787.3 550.0,787.8 C553.0,788.3 556.7,789.0 560.0,789.2 C563.3,789.4 567.5,789.3 570.0,789.2 C572.5,789.1 573.3,788.7 575.0,788.7 C576.7,788.7 578.3,788.8 580.0,789.2 C581.7,789.6 583.3,790.1 585.0,791.3 C586.7,792.5 588.3,794.6 590.0,796.5 C591.7,798.4 593.3,801.1 595.0,802.7 C596.7,804.3 597.5,805.2 600.0,806.2 C602.5,807.2 606.7,808.1 610.0,808.8 C613.3,809.5 616.7,809.8 620.0,810.2 C623.3,810.6 626.7,811.0 630.0,811.4 C633.3,811.8 636.7,812.1 640.0,812.3 C643.3,812.5 645.3,812.7 650.0,812.7 C654.7,812.7 662.2,812.4 668.0,812.1 C673.8,811.8 682.2,811.1 685.0,810.9 L685.0,814.9 C682.2,815.1 673.8,815.8 668.0,816.1 C662.2,816.4 654.7,816.7 650.0,816.7 C645.3,816.7 643.3,816.5 640.0,816.3 C636.7,816.1 633.3,815.8 630.0,815.4 C626.7,815.0 623.3,814.6 620.0,814.2 C616.7,813.8 613.3,813.5 610.0,812.8 C606.7,812.1 602.5,811.2 600.0,810.2 C597.5,809.2 596.7,808.3 595.0,806.7 C593.3,805.1 591.7,802.4 590.0,800.5 C588.3,798.6 586.7,796.5 585.0,795.3 C583.3,794.1 581.7,793.6 580.0,793.2 C578.3,792.8 576.7,792.7 575.0,792.7 C573.3,792.7 572.5,793.1 570.0,793.2 C567.5,793.3 563.3,793.4 560.0,793.2 C556.7,793.0 553.0,792.3 550.0,791.8 C547.0,791.3 544.7,790.6 542.0,790.2 C539.3,789.8 537.3,789.2 533.8,789.6 C530.2,790.0 525.1,791.7 520.7,792.6 C516.3,793.5 512.0,794.9 507.6,795.2 C503.2,795.5 498.8,794.4 494.4,794.6 C490.0,794.8 485.4,795.2 481.3,796.5 C477.2,797.8 473.6,801.0 470.0,802.5 C466.4,804.0 463.3,805.1 460.0,805.4 C456.7,805.7 453.3,805.1 450.0,804.5 C446.7,803.9 442.8,802.6 440.0,802.0 C437.2,801.4 435.7,800.8 433.4,800.9 C431.1,801.0 428.8,802.4 426.1,802.8 C423.4,803.2 420.3,803.3 417.4,803.1 C414.5,802.9 411.3,802.4 408.6,801.6 C405.9,800.8 403.5,799.1 401.3,798.4 C399.1,797.7 397.7,796.9 395.5,797.2 C393.3,797.5 390.4,798.6 388.2,800.1 C386.0,801.6 384.5,804.4 382.3,806.0 C380.1,807.6 377.7,809.1 375.0,809.6 C372.3,810.1 369.2,809.6 366.3,808.9 C363.4,808.2 360.4,806.4 357.5,805.2 C354.6,804.0 351.7,802.3 348.8,801.6 C345.9,800.9 344.8,800.0 340.0,800.9 C335.2,801.8 326.7,806.1 320.0,807.0 C313.3,807.9 305.0,806.2 300.0,806.3 C295.0,806.4 293.4,807.8 290.0,807.6 C286.6,807.4 282.9,806.2 279.6,805.3 C276.3,804.4 273.6,803.2 270.1,802.4 C266.6,801.6 262.2,800.8 258.7,800.6 C255.2,800.4 252.0,801.2 249.3,801.2 C246.6,801.2 244.6,800.8 242.3,800.8 C240.0,800.8 237.4,800.9 235.3,801.0 C233.2,801.1 231.8,801.4 230.0,801.7 C228.2,802.0 226.6,802.4 224.8,802.8 C223.1,803.1 221.6,803.6 219.5,803.8 C217.4,804.0 215.1,804.2 212.5,804.1 C209.9,804.0 206.7,803.5 203.8,803.2 C200.9,802.9 198.5,802.7 195.0,802.2 C191.5,801.8 186.7,800.8 182.8,800.5 C178.9,800.2 175.2,800.2 171.4,800.5 C167.6,800.8 163.6,801.6 160.0,802.4 C156.4,803.2 153.3,804.2 150.0,805.4 C146.7,806.5 143.3,808.0 140.0,809.3 C136.7,810.6 133.3,812.1 130.0,813.3 C126.7,814.5 123.3,815.6 120.0,816.4 C116.7,817.2 115.0,817.7 110.0,818.0 C105.0,818.3 98.3,818.2 90.0,818.2 C81.7,818.3 70.0,818.2 60.0,818.2 C50.0,818.2 38.5,818.4 30.0,818.2 C21.5,818.1 12.5,817.6 9.0,817.5 Z" fill="#d8d8d8" stroke="none"/><path d="M9.0,813.2 C10.8,813.4 16.9,814.0 20.0,814.0 C23.1,814.0 25.0,813.6 27.5,813.2 C30.0,812.9 32.1,812.3 35.0,812.0 C37.9,811.7 41.7,811.5 45.0,811.5 C48.3,811.5 51.7,811.5 55.0,812.0 C58.3,812.5 61.7,813.9 65.0,814.5 C68.3,815.1 70.8,815.4 75.0,815.8 C79.2,816.1 85.8,816.4 90.0,816.5 C94.2,816.6 97.0,816.5 100.0,816.2 C103.0,815.9 105.5,815.6 108.0,814.8 C110.5,814.0 113.0,812.5 115.0,811.4 C117.0,810.3 118.3,809.2 120.0,808.3 C121.7,807.4 123.3,806.7 125.0,806.2 C126.7,805.7 128.3,805.2 130.0,805.1 C131.7,805.0 133.3,805.3 135.0,805.6 C136.7,805.9 137.5,806.5 140.0,807.0 C142.5,807.5 146.7,807.9 150.0,808.3 C153.3,808.7 156.4,809.4 160.0,809.6 C163.6,809.8 167.6,809.4 171.4,809.3 C175.2,809.2 178.9,809.0 182.8,808.8 C186.7,808.5 192.1,807.9 195.0,807.8 C197.9,807.7 198.6,808.2 200.3,808.1 C202.1,808.0 203.8,807.5 205.5,807.2 C207.2,806.9 209.1,806.6 210.8,806.1 C212.6,805.6 214.4,805.0 216.0,804.3 C217.6,803.6 218.9,802.2 220.4,801.7 C221.9,801.2 223.3,801.1 224.8,801.0 C226.3,800.9 227.9,801.0 229.2,801.2 C230.5,801.4 231.5,801.5 232.7,802.2 C233.9,802.9 234.9,804.3 236.2,805.2 C237.5,806.1 238.9,807.1 240.5,807.8 C242.1,808.5 244.0,809.2 245.8,809.6 C247.6,810.0 249.6,809.9 251.1,810.0 C252.6,810.1 253.1,810.1 255.0,810.0 C256.9,809.9 260.0,809.8 262.5,809.4 C265.0,809.0 267.6,808.6 270.1,807.9 C272.6,807.2 275.2,806.4 277.7,805.0 C280.2,803.6 283.2,801.2 285.3,799.8 C287.4,798.4 288.2,797.7 290.0,796.5 C291.8,795.3 294.3,793.9 296.0,792.6 C297.7,791.4 298.7,789.7 300.0,789.0 C301.3,788.3 302.3,787.9 304.0,788.3 C305.7,788.7 308.0,790.4 310.0,791.3 C312.0,792.2 314.0,793.3 316.0,793.9 C318.0,794.5 320.0,794.6 322.0,794.6 C324.0,794.6 326.0,793.8 328.0,793.6 C330.0,793.4 332.3,793.0 334.0,793.2 C335.7,793.4 337.0,793.8 338.0,794.6 C339.0,795.4 338.7,796.6 340.0,797.8 C341.3,799.0 343.9,800.5 345.8,801.9 C347.8,803.3 349.8,804.9 351.7,806.1 C353.6,807.3 355.6,808.1 357.5,809.0 C359.4,809.9 361.4,810.7 363.4,811.2 C365.3,811.7 367.3,812.1 369.2,812.2 C371.1,812.3 373.1,812.3 375.0,811.9 C376.9,811.5 378.9,810.8 380.9,810.0 C382.8,809.2 384.8,807.8 386.7,807.1 C388.6,806.4 390.7,805.7 392.6,805.6 C394.6,805.5 396.5,806.0 398.4,806.5 C400.3,807.0 402.2,807.9 404.2,808.3 C406.1,808.7 408.2,809.0 410.1,809.0 C412.1,809.0 413.9,809.0 415.9,808.3 C417.8,807.6 419.9,806.2 421.8,804.6 C423.8,803.0 425.7,800.6 427.6,798.7 C429.5,796.8 431.3,794.7 433.4,793.2 C435.5,791.7 438.1,790.7 440.0,789.8 C441.9,788.9 443.3,788.4 445.0,787.8 C446.7,787.2 448.3,787.1 450.0,786.2 C451.7,785.3 453.3,784.7 455.0,782.5 C456.7,780.3 458.6,776.3 460.3,772.9 C462.1,769.5 463.8,765.6 465.5,762.1 C467.2,758.6 469.1,754.8 470.8,751.9 C472.6,749.0 474.4,746.2 476.0,744.6 C477.6,743.0 479.1,742.3 480.6,742.3 C482.1,742.3 483.6,742.9 485.2,744.6 C486.8,746.3 488.8,749.5 490.5,752.5 C492.2,755.5 493.9,759.4 495.7,762.7 C497.4,766.0 499.2,769.7 501.0,772.3 C502.8,774.9 504.8,777.2 506.2,778.4 C507.6,779.6 508.2,779.5 509.5,779.3 C510.8,779.1 512.5,778.8 514.1,777.4 C515.8,776.0 517.6,772.8 519.4,770.9 C521.1,769.0 523.0,766.8 524.6,765.8 C526.2,764.8 527.7,764.7 529.2,764.8 C530.7,764.9 532.1,765.7 533.8,766.6 C535.4,767.5 537.2,769.0 539.1,770.1 C541.0,771.2 543.2,772.3 545.0,773.3 C546.8,774.2 548.3,774.9 550.0,775.8 C551.7,776.7 553.3,777.5 555.0,778.6 C556.7,779.7 558.3,781.1 560.0,782.3 C561.7,783.5 563.3,784.9 565.0,785.9 C566.7,786.9 568.3,787.5 570.0,788.3 C571.7,789.1 573.3,789.6 575.0,790.6 C576.7,791.6 578.3,792.7 580.0,794.0 C581.7,795.3 583.3,796.9 585.0,798.4 C586.7,799.9 588.3,801.6 590.0,803.1 C591.7,804.6 593.3,806.2 595.0,807.4 C596.7,808.6 598.3,809.5 600.0,810.4 C601.7,811.2 603.3,811.9 605.0,812.5 C606.7,813.1 608.3,813.5 610.0,814.1 C611.7,814.7 613.3,815.5 615.0,816.0 C616.7,816.5 617.5,816.9 620.0,817.3 C622.5,817.7 619.2,818.0 630.0,818.2 C640.8,818.4 675.8,818.5 685.0,818.5 L685.0,820.9 C675.8,820.9 640.8,821.1 630.0,821.0 C619.2,820.9 622.5,820.7 620.0,820.5 C617.5,820.3 616.7,820.0 615.0,819.6 C613.3,819.2 611.7,818.5 610.0,818.1 C608.3,817.7 606.7,817.4 605.0,816.9 C603.3,816.5 601.7,816.1 600.0,815.4 C598.3,814.6 596.7,813.5 595.0,812.4 C593.3,811.3 591.7,810.1 590.0,808.7 C588.3,807.3 586.7,805.5 585.0,804.0 C583.3,802.5 581.7,800.8 580.0,799.6 C578.3,798.4 576.7,797.4 575.0,796.6 C573.3,795.8 571.7,795.3 570.0,794.7 C568.3,794.1 566.7,793.6 565.0,792.9 C563.3,792.2 561.7,791.2 560.0,790.3 C558.3,789.4 556.7,788.4 555.0,787.6 C553.3,786.8 551.7,786.0 550.0,785.4 C548.3,784.8 546.8,784.8 545.0,784.3 C543.2,783.8 541.0,782.9 539.1,782.1 C537.2,781.3 535.4,780.2 533.8,779.6 C532.1,779.0 530.7,778.8 529.2,778.8 C527.7,778.8 526.2,778.9 524.6,779.8 C523.0,780.6 521.1,782.3 519.4,783.9 C517.6,785.5 515.8,788.2 514.1,789.4 C512.5,790.6 510.8,791.1 509.5,791.3 C508.2,791.5 507.6,791.4 506.2,790.4 C504.8,789.4 502.8,787.4 501.0,785.3 C499.2,783.2 497.4,780.3 495.7,777.7 C493.9,775.1 492.2,772.0 490.5,769.5 C488.8,767.0 486.8,764.4 485.2,763.0 C483.6,761.6 482.1,761.3 480.6,761.3 C479.1,761.3 477.6,761.7 476.0,763.0 C474.4,764.3 472.6,766.5 470.8,768.9 C469.1,771.2 467.2,774.3 465.5,777.1 C463.8,779.9 462.1,783.2 460.3,785.9 C458.6,788.6 456.7,791.7 455.0,793.5 C453.3,795.3 451.7,796.0 450.0,796.8 C448.3,797.6 446.7,797.7 445.0,798.2 C443.3,798.7 441.9,799.2 440.0,799.8 C438.1,800.4 435.5,800.6 433.4,801.6 C431.3,802.6 429.5,804.2 427.6,805.7 C425.7,807.2 423.8,809.2 421.8,810.6 C419.9,812.0 417.8,813.6 415.9,814.3 C413.9,815.0 412.1,815.0 410.1,815.0 C408.2,815.0 406.1,814.7 404.2,814.3 C402.2,813.9 400.3,813.0 398.4,812.5 C396.5,812.0 394.6,811.5 392.6,811.6 C390.7,811.7 388.6,812.4 386.7,813.1 C384.8,813.8 382.8,815.2 380.9,816.0 C378.9,816.8 376.9,817.5 375.0,817.9 C373.1,818.3 371.1,818.3 369.2,818.2 C367.3,818.1 365.3,817.7 363.4,817.2 C361.4,816.7 359.4,815.9 357.5,815.0 C355.6,814.1 353.6,813.1 351.7,812.1 C349.8,811.1 347.8,810.0 345.8,808.9 C343.9,807.8 341.3,806.7 340.0,805.8 C338.7,804.9 339.0,804.2 338.0,803.6 C337.0,803.0 335.7,802.4 334.0,802.2 C332.3,802.0 330.0,802.4 328.0,802.6 C326.0,802.8 324.0,803.6 322.0,803.6 C320.0,803.6 318.0,803.5 316.0,802.9 C314.0,802.3 312.0,801.1 310.0,800.3 C308.0,799.5 305.7,798.2 304.0,797.9 C302.3,797.6 301.3,798.0 300.0,798.6 C298.7,799.2 297.7,800.6 296.0,801.6 C294.3,802.6 291.8,803.5 290.0,804.5 C288.2,805.5 287.4,806.3 285.3,807.4 C283.2,808.5 280.2,809.9 277.7,811.0 C275.2,812.1 272.6,813.2 270.1,813.9 C267.6,814.6 265.0,815.0 262.5,815.4 C260.0,815.8 256.9,815.9 255.0,816.0 C253.1,816.1 252.6,816.1 251.1,816.0 C249.6,815.9 247.6,816.0 245.8,815.6 C244.0,815.2 242.1,814.5 240.5,813.8 C238.9,813.1 237.5,812.0 236.2,811.2 C234.9,810.4 233.9,809.5 232.7,809.0 C231.5,808.5 230.5,808.4 229.2,808.2 C227.9,808.0 226.3,808.0 224.8,808.0 C223.3,808.0 221.9,808.1 220.4,808.5 C218.9,808.9 217.6,809.7 216.0,810.3 C214.4,810.9 212.6,811.6 210.8,812.1 C209.1,812.6 207.2,812.9 205.5,813.2 C203.8,813.5 202.1,814.0 200.3,814.1 C198.6,814.2 197.9,813.7 195.0,813.8 C192.1,813.9 186.7,814.5 182.8,814.8 C178.9,815.0 175.2,815.2 171.4,815.3 C167.6,815.4 163.6,815.8 160.0,815.6 C156.4,815.4 153.3,814.7 150.0,814.3 C146.7,813.9 142.5,813.5 140.0,813.0 C137.5,812.5 136.7,811.9 135.0,811.6 C133.3,811.3 131.7,811.0 130.0,811.1 C128.3,811.2 126.7,811.7 125.0,812.2 C123.3,812.7 121.7,813.4 120.0,814.3 C118.3,815.2 117.0,816.3 115.0,817.4 C113.0,818.5 110.5,820.0 108.0,820.8 C105.5,821.6 103.0,821.9 100.0,822.2 C97.0,822.5 94.2,822.6 90.0,822.5 C85.8,822.4 79.2,822.1 75.0,821.8 C70.8,821.4 68.3,821.1 65.0,820.5 C61.7,819.9 58.3,818.5 55.0,818.0 C51.7,817.5 48.3,817.5 45.0,817.5 C41.7,817.5 37.9,817.7 35.0,818.0 C32.1,818.3 30.0,818.9 27.5,819.2 C25.0,819.6 23.1,820.0 20.0,820.0 C16.9,820.0 10.8,819.4 9.0,819.2 Z" fill="#e8871a" fill-opacity="0.32" stroke="#e8871a" stroke-opacity="0.2" stroke-width="1"/><path d="M9.0,816.2 C10.8,816.4 16.9,817.0 20.0,817.0 C23.1,817.0 25.0,816.6 27.5,816.2 C30.0,815.9 32.1,815.3 35.0,815.0 C37.9,814.7 41.7,814.5 45.0,814.5 C48.3,814.5 51.7,814.5 55.0,815.0 C58.3,815.5 61.7,816.9 65.0,817.5 C68.3,818.1 70.8,818.4 75.0,818.8 C79.2,819.1 85.8,819.4 90.0,819.5 C94.2,819.6 97.0,819.5 100.0,819.2 C103.0,818.9 105.5,818.6 108.0,817.8 C110.5,817.0 113.0,815.5 115.0,814.4 C117.0,813.3 118.3,812.2 120.0,811.3 C121.7,810.4 123.3,809.7 125.0,809.2 C126.7,808.7 128.3,808.2 130.0,808.1 C131.7,808.0 133.3,808.3 135.0,808.6 C136.7,808.9 137.5,809.5 140.0,810.0 C142.5,810.5 146.7,810.9 150.0,811.3 C153.3,811.7 156.4,812.4 160.0,812.6 C163.6,812.8 167.6,812.4 171.4,812.3 C175.2,812.2 178.9,812.0 182.8,811.8 C186.7,811.5 192.1,810.9 195.0,810.8 C197.9,810.7 198.6,811.2 200.3,811.1 C202.1,811.0 203.8,810.5 205.5,810.2 C207.2,809.9 209.1,809.6 210.8,809.1 C212.6,808.6 214.4,808.0 216.0,807.3 C217.6,806.6 218.9,805.6 220.4,805.1 C221.9,804.6 223.3,804.6 224.8,804.5 C226.3,804.4 227.9,804.5 229.2,804.7 C230.5,804.9 231.5,805.0 232.7,805.6 C233.9,806.2 234.9,807.3 236.2,808.2 C237.5,809.1 238.9,810.1 240.5,810.8 C242.1,811.5 244.0,812.2 245.8,812.6 C247.6,813.0 249.6,812.9 251.1,813.0 C252.6,813.1 253.1,813.1 255.0,813.0 C256.9,812.9 260.0,812.8 262.5,812.4 C265.0,812.0 267.6,811.6 270.1,810.9 C272.6,810.2 275.2,809.2 277.7,808.0 C280.2,806.8 283.2,804.9 285.3,803.6 C287.4,802.4 288.2,801.6 290.0,800.5 C291.8,799.4 294.3,798.2 296.0,797.1 C297.7,796.0 298.7,794.5 300.0,793.8 C301.3,793.1 302.3,792.8 304.0,793.1 C305.7,793.4 308.0,794.9 310.0,795.8 C312.0,796.7 314.0,797.8 316.0,798.4 C318.0,799.0 320.0,799.1 322.0,799.1 C324.0,799.1 326.0,798.3 328.0,798.1 C330.0,797.9 332.3,797.5 334.0,797.7 C335.7,797.9 337.0,798.4 338.0,799.1 C339.0,799.8 338.7,800.8 340.0,801.8 C341.3,802.8 343.9,804.2 345.8,805.4 C347.8,806.6 349.8,808.0 351.7,809.1 C353.6,810.2 355.6,811.1 357.5,812.0 C359.4,812.9 361.4,813.7 363.4,814.2 C365.3,814.7 367.3,815.1 369.2,815.2 C371.1,815.3 373.1,815.3 375.0,814.9 C376.9,814.5 378.9,813.8 380.9,813.0 C382.8,812.2 384.8,810.8 386.7,810.1 C388.6,809.4 390.7,808.7 392.6,808.6 C394.6,808.5 396.5,809.0 398.4,809.5 C400.3,810.0 402.2,810.9 404.2,811.3 C406.1,811.7 408.2,812.0 410.1,812.0 C412.1,812.0 413.9,812.0 415.9,811.3 C417.8,810.6 419.9,809.1 421.8,807.6 C423.8,806.1 425.7,803.9 427.6,802.2 C429.5,800.5 431.3,798.6 433.4,797.4 C435.5,796.2 438.1,795.5 440.0,794.8 C441.9,794.1 443.3,793.5 445.0,793.0 C446.7,792.5 448.3,792.3 450.0,791.5 C451.7,790.7 453.3,790.0 455.0,788.0 C456.7,786.0 458.6,782.5 460.3,779.4 C462.1,776.3 463.8,772.8 465.5,769.6 C467.2,766.4 469.1,763.0 470.8,760.4 C472.6,757.8 474.4,755.2 476.0,753.8 C477.6,752.4 479.1,751.8 480.6,751.8 C482.1,751.8 483.6,752.3 485.2,753.8 C486.8,755.3 488.8,758.3 490.5,761.0 C492.2,763.7 493.9,767.2 495.7,770.2 C497.4,773.2 499.2,776.4 501.0,778.8 C502.8,781.2 504.8,783.3 506.2,784.4 C507.6,785.5 508.2,785.5 509.5,785.3 C510.8,785.1 512.5,784.7 514.1,783.4 C515.8,782.1 517.6,779.2 519.4,777.4 C521.1,775.6 523.0,773.7 524.6,772.8 C526.2,771.9 527.7,771.8 529.2,771.8 C530.7,771.8 532.1,772.4 533.8,773.1 C535.4,773.8 537.2,775.2 539.1,776.1 C541.0,777.0 543.2,778.0 545.0,778.8 C546.8,779.5 548.3,779.9 550.0,780.6 C551.7,781.3 553.3,782.2 555.0,783.1 C556.7,784.0 558.3,785.2 560.0,786.3 C561.7,787.3 563.3,788.5 565.0,789.4 C566.7,790.3 568.3,790.8 570.0,791.5 C571.7,792.2 573.3,792.7 575.0,793.6 C576.7,794.5 578.3,795.5 580.0,796.8 C581.7,798.1 583.3,799.7 585.0,801.2 C586.7,802.7 588.3,804.5 590.0,805.9 C591.7,807.3 593.3,808.7 595.0,809.9 C596.7,811.1 598.3,812.1 600.0,812.9 C601.7,813.7 603.3,814.2 605.0,814.7 C606.7,815.2 608.3,815.6 610.0,816.1 C611.7,816.6 613.3,817.3 615.0,817.8 C616.7,818.3 617.5,818.6 620.0,818.9 C622.5,819.2 619.2,819.5 630.0,819.6 C640.8,819.7 675.8,819.7 685.0,819.7" stroke="#e8871a" stroke-width="1.7" fill="none" stroke-linejoin="round" stroke-linecap="round"/><path d="M9.10,745.70V819.60 M0,745.70H9.10 M0,758.02H9.10 M0,770.33H9.10 M0,782.65H9.10 M0,794.97H9.10 M0,807.28H9.10 M0,819.60H9.10 M34.07,822.80H658.40 M658.40,822.80V831.80 M636.10,822.80V827.00 M613.80,822.80V827.00 M591.51,822.80V827.00 M569.21,822.80V831.80 M546.91,822.80V827.00 M524.62,822.80V827.00 M502.32,822.80V827.00 M480.02,822.80V831.80 M457.72,822.80V827.00 M435.42,822.80V827.00 M413.13,822.80V827.00 M390.83,822.80V831.80 M368.53,822.80V827.00 M346.23,822.80V827.00 M323.94,822.80V827.00 M301.64,822.80V831.80 M279.34,822.80V827.00 M257.04,822.80V827.00 M234.75,822.80V827.00 M212.45,822.80V831.80 M190.15,822.80V827.00 M167.85,822.80V827.00 M145.56,822.80V827.00 M123.26,822.80V831.80 M100.96,822.80V827.00 M78.66,822.80V827.00 M56.37,822.80V827.00 M34.07,822.80V831.80" stroke="#000" stroke-width="1.4" fill="none" stroke-linecap="butt"/><text x="658.40" y="849.25" font-size="14.8" text-anchor="middle" stroke="#000" stroke-width="0.3">1 cal BC</text><text x="569.21" y="849.25" font-size="14.8" text-anchor="middle" stroke="#000" stroke-width="0.3">1000</text><text x="480.02" y="849.25" font-size="14.8" text-anchor="middle" stroke="#000" stroke-width="0.3">2000</text><text x="390.83" y="849.25" font-size="14.8" text-anchor="middle" stroke="#000" stroke-width="0.3">3000</text><text x="301.64" y="849.25" font-size="14.8" text-anchor="middle" stroke="#000" stroke-width="0.3">4000</text><text x="212.45" y="849.25" font-size="14.8" text-anchor="middle" stroke="#000" stroke-width="0.3">5000</text><text x="123.26" y="849.25" font-size="14.8" text-anchor="middle" stroke="#000" stroke-width="0.3">6000</text><text x="34.07" y="849.25" font-size="14.8" text-anchor="middle" stroke="#000" stroke-width="0.3">7000</text><text x="35.1" y="761.00" font-size="14.8" stroke="#000" stroke-width="0.25">Sicily</text><text x="110.00" y="808.10" font-size="21.4" text-anchor="middle" stroke="#000" stroke-width="0.2">A</text><text x="305.50" y="778.80" font-size="21.4" text-anchor="middle" stroke="#000" stroke-width="0.2">D</text><text x="481.20" y="784.50" font-size="21.4" text-anchor="middle" stroke="#000" stroke-width="0.2">F</text><text x="510.20" y="765.50" font-size="21.4" text-anchor="middle" stroke="#000" stroke-width="0.2">G</text></g>
<g><path d="M9.1,864.40H685 M9.1,879.96H685 M9.1,895.52H685 M9.1,911.08H685 M9.1,926.64H685 M9.1,942.20H685 M658.40,862.7V945.7 M569.21,862.7V945.7 M480.02,862.7V945.7 M390.83,862.7V945.7 M301.64,862.7V945.7 M212.45,862.7V945.7 M123.26,862.7V945.7 M34.07,862.7V945.7" stroke="#d3d3d3" stroke-width="1" stroke-dasharray="1 1.72" fill="none"/><path d="M9.0,939.0 C24.2,939.0 81.5,939.2 100.0,939.0 C118.5,938.8 113.3,938.7 120.0,938.0 C126.7,937.3 133.3,935.9 140.0,934.8 C146.7,933.7 153.3,932.5 160.0,931.6 C166.7,930.7 173.3,929.6 180.0,929.1 C186.7,928.6 194.2,928.5 200.0,928.6 C205.8,928.7 210.0,929.4 215.0,929.7 C220.0,930.0 225.0,930.6 230.0,930.5 C235.0,930.4 240.0,929.5 245.0,929.1 C250.0,928.7 255.7,928.1 260.0,928.2 C264.3,928.3 265.8,929.0 271.0,929.5 C276.2,930.0 284.5,930.6 291.0,931.0 C297.5,931.4 305.2,931.6 310.0,931.6 C314.8,931.6 315.8,931.2 320.0,930.8 C324.2,930.4 330.8,929.7 335.0,929.3 C339.2,928.9 341.7,928.5 345.0,928.5 C348.3,928.5 351.7,928.6 355.0,929.3 C358.3,930.0 361.7,932.1 365.0,932.6 C368.3,933.1 370.8,932.6 375.0,932.1 C379.2,931.6 386.2,930.6 390.0,929.6 C393.8,928.6 395.0,926.6 398.0,926.1 C401.0,925.6 404.3,926.3 408.0,926.8 C411.7,927.3 414.7,928.8 420.0,929.1 C425.3,929.4 433.3,928.3 440.0,928.4 C446.7,928.5 455.0,929.5 460.0,929.6 C465.0,929.7 465.0,929.4 470.0,928.8 C475.0,928.2 483.3,926.5 490.0,925.9 C496.7,925.3 503.3,925.7 510.0,925.2 C516.7,924.7 524.2,923.7 530.0,923.1 C535.8,922.5 540.0,921.6 545.0,921.5 C550.0,921.4 555.0,922.1 560.0,922.4 C565.0,922.7 570.8,922.9 575.0,923.1 C579.2,923.3 581.7,922.8 585.0,923.7 C588.3,924.6 591.7,927.0 595.0,928.5 C598.3,930.0 601.7,931.9 605.0,932.9 C608.3,933.9 611.5,934.2 615.0,934.5 C618.5,934.8 620.8,934.6 626.0,934.9 C631.2,935.2 639.3,936.1 646.0,936.4 C652.7,936.6 659.5,936.4 666.0,936.4 C672.5,936.4 681.8,936.4 685.0,936.4 L685.0,939.4 C681.8,939.4 672.5,939.4 666.0,939.4 C659.5,939.4 652.7,939.6 646.0,939.4 C639.3,939.1 631.2,938.2 626.0,937.9 C620.8,937.6 618.5,937.8 615.0,937.5 C611.5,937.2 608.3,936.9 605.0,935.9 C601.7,934.9 598.3,933.0 595.0,931.5 C591.7,930.0 588.3,927.6 585.0,926.7 C581.7,925.8 579.2,926.3 575.0,926.1 C570.8,925.9 565.0,925.7 560.0,925.4 C555.0,925.1 550.0,924.4 545.0,924.5 C540.0,924.6 535.8,925.5 530.0,926.1 C524.2,926.7 516.7,927.7 510.0,928.2 C503.3,928.7 496.7,928.3 490.0,928.9 C483.3,929.5 475.0,931.2 470.0,931.8 C465.0,932.4 465.0,932.7 460.0,932.6 C455.0,932.5 446.7,931.5 440.0,931.4 C433.3,931.3 425.3,932.4 420.0,932.1 C414.7,931.8 411.7,930.3 408.0,929.8 C404.3,929.3 401.0,928.6 398.0,929.1 C395.0,929.6 393.8,931.6 390.0,932.6 C386.2,933.6 379.2,934.6 375.0,935.1 C370.8,935.6 368.3,936.1 365.0,935.6 C361.7,935.1 358.3,933.0 355.0,932.3 C351.7,931.6 348.3,931.5 345.0,931.5 C341.7,931.5 339.2,931.9 335.0,932.3 C330.8,932.7 324.2,933.4 320.0,933.8 C315.8,934.2 314.8,934.6 310.0,934.6 C305.2,934.6 297.5,934.4 291.0,934.0 C284.5,933.6 276.2,933.0 271.0,932.5 C265.8,932.0 264.3,931.3 260.0,931.2 C255.7,931.1 250.0,931.7 245.0,932.1 C240.0,932.5 235.0,933.4 230.0,933.5 C225.0,933.6 220.0,933.0 215.0,932.7 C210.0,932.4 205.8,931.7 200.0,931.6 C194.2,931.5 186.7,931.6 180.0,932.1 C173.3,932.6 166.7,933.7 160.0,934.6 C153.3,935.5 146.7,936.7 140.0,937.8 C133.3,938.9 126.7,940.3 120.0,941.0 C113.3,941.7 118.5,941.8 100.0,942.0 C81.5,942.2 24.2,942.0 9.0,942.0 Z" fill="#dcdcdc" stroke="none"/><path d="M92.5,941.7 C97.1,941.7 112.1,941.8 120.0,941.7 C127.9,941.7 134.1,941.5 140.0,941.4 C145.9,941.3 151.7,941.3 155.2,941.0 C158.7,940.7 159.0,940.4 160.9,939.6 C162.8,938.8 164.7,937.4 166.6,936.3 C168.5,935.1 170.4,933.7 172.3,932.7 C174.2,931.7 176.1,931.3 178.0,930.5 C179.9,929.7 181.8,929.1 183.7,928.1 C185.6,927.1 187.4,926.0 189.3,924.7 C191.2,923.4 193.1,921.7 195.0,920.4 C196.9,919.1 198.8,917.0 200.7,916.9 C202.6,916.8 204.5,918.7 206.4,919.9 C208.3,921.1 210.2,922.9 212.1,924.2 C214.0,925.5 215.9,926.6 217.8,927.6 C219.7,928.6 221.6,929.0 223.5,930.0 C225.4,931.0 227.3,932.3 229.2,933.3 C231.1,934.3 233.0,935.4 234.9,935.8 C236.8,936.2 238.7,935.9 240.6,935.8 C242.5,935.7 244.6,935.1 246.3,935.2 C248.0,935.3 249.4,935.6 251.0,936.3 C252.6,936.9 254.1,938.3 255.8,939.1 C257.6,939.9 259.1,940.5 261.5,940.9 C263.9,941.3 266.8,941.1 270.0,941.4 C273.2,941.7 275.7,942.6 281.0,942.5 C286.3,942.4 296.9,941.4 301.7,941.0 C306.5,940.6 307.8,940.7 309.9,940.1 C312.0,939.5 312.9,938.7 314.5,937.7 C316.1,936.7 317.6,935.6 319.2,934.3 C320.8,933.0 322.3,931.5 323.9,929.7 C325.4,927.9 326.9,925.5 328.5,923.3 C330.1,921.1 331.6,919.1 333.2,916.5 C334.8,913.9 336.3,910.5 337.9,907.5 C339.5,904.5 341.1,901.2 342.6,898.4 C344.2,895.6 345.8,892.5 347.2,890.6 C348.6,888.7 349.9,887.2 351.3,887.0 C352.7,886.8 353.9,887.8 355.4,889.1 C356.9,890.4 358.6,893.1 360.1,895.0 C361.7,896.9 363.1,899.0 364.7,900.3 C366.3,901.6 368.3,902.2 370.0,902.6 C371.7,903.0 373.3,902.7 374.9,902.9 C376.5,903.1 378.1,903.8 379.6,903.6 C381.2,903.5 382.6,902.9 384.2,902.0 C385.8,901.1 387.3,899.4 388.9,898.2 C390.5,897.0 391.9,895.5 393.6,895.0 C395.4,894.5 397.4,895.1 399.4,895.4 C401.3,895.7 403.4,896.7 405.3,896.6 C407.2,896.5 409.0,895.7 411.1,894.8 C413.2,894.0 415.8,892.9 418.1,891.5 C420.4,890.1 423.0,888.2 425.1,886.6 C427.2,885.0 429.4,882.6 431.0,881.7 C432.6,880.8 433.1,880.9 434.5,881.0 C435.9,881.1 437.6,881.3 439.1,882.4 C440.7,883.5 442.2,885.1 443.8,887.7 C445.4,890.3 446.9,894.3 448.5,897.9 C450.1,901.5 451.6,905.8 453.1,909.4 C454.7,913.0 456.2,916.7 457.8,919.7 C459.4,922.8 460.8,925.4 462.5,927.7 C464.2,930.0 466.4,932.0 468.3,933.4 C470.2,934.8 473.0,935.7 474.2,936.2 C475.4,936.8 474.0,937.0 475.5,936.7 C477.0,936.4 480.4,935.2 483.1,934.5 C485.8,933.8 489.3,932.3 491.9,932.4 C494.5,932.5 495.9,933.8 498.5,935.0 C501.1,936.2 504.3,938.5 507.2,939.5 C510.1,940.5 513.1,940.8 516.0,940.9 C518.9,941.0 522.2,940.8 524.7,940.2 C527.2,939.6 529.1,938.3 531.3,937.4 C533.5,936.5 535.3,935.4 537.9,934.8 C540.5,934.2 544.0,934.3 546.6,933.7 C549.2,933.1 551.0,932.1 553.2,931.4 C555.4,930.7 557.6,929.9 559.8,929.5 C562.0,929.1 564.3,928.7 566.3,928.9 C568.3,929.2 570.0,929.9 571.8,931.0 C573.6,932.1 575.3,934.1 577.3,935.5 C579.3,936.9 581.3,938.6 583.9,939.5 C586.5,940.4 575.8,940.8 592.6,941.1 C609.5,941.4 669.6,941.1 685.0,941.1 L685.0,943.1 C669.6,943.1 609.5,943.2 592.6,943.1 C575.8,943.0 586.5,943.0 583.9,942.5 C581.3,942.0 579.3,940.8 577.3,939.9 C575.3,939.0 573.6,937.7 571.8,937.0 C570.0,936.3 568.3,935.7 566.3,935.5 C564.3,935.3 562.0,935.6 559.8,935.9 C557.6,936.2 555.4,936.9 553.2,937.4 C551.0,937.9 549.2,938.4 546.6,938.7 C544.0,939.0 540.5,938.8 537.9,939.2 C535.3,939.6 533.5,940.4 531.3,941.0 C529.1,941.6 527.2,942.2 524.7,942.6 C522.2,943.0 518.9,943.3 516.0,943.3 C513.1,943.3 510.1,943.2 507.2,942.5 C504.3,941.8 501.1,939.9 498.5,939.0 C495.9,938.1 494.5,937.3 491.9,937.4 C489.3,937.5 485.8,938.8 483.1,939.5 C480.4,940.2 477.0,941.2 475.5,941.7 C474.0,942.2 475.4,942.4 474.2,942.2 C473.0,942.0 470.2,941.3 468.3,940.4 C466.4,939.5 464.2,938.3 462.5,936.7 C460.8,935.1 459.4,933.1 457.8,930.7 C456.2,928.3 454.7,925.4 453.1,922.4 C451.6,919.4 450.1,915.9 448.5,912.9 C446.9,909.9 445.4,906.5 443.8,904.3 C442.2,902.0 440.7,900.4 439.1,899.4 C437.6,898.4 435.9,898.1 434.5,898.0 C433.1,897.9 432.6,897.8 431.0,898.7 C429.4,899.6 427.2,901.7 425.1,903.2 C423.0,904.7 420.4,906.3 418.1,907.5 C415.8,908.7 413.2,909.7 411.1,910.4 C409.0,911.1 407.2,911.8 405.3,911.8 C403.4,911.8 401.3,910.9 399.4,910.6 C397.4,910.3 395.4,909.7 393.6,910.2 C391.9,910.7 390.5,912.2 388.9,913.4 C387.3,914.6 385.8,916.3 384.2,917.2 C382.6,918.1 381.2,918.7 379.6,918.8 C378.1,919.0 376.5,918.3 374.9,918.1 C373.3,917.9 371.7,918.1 370.0,917.6 C368.3,917.1 366.3,916.6 364.7,915.3 C363.1,914.0 361.7,911.8 360.1,910.0 C358.6,908.2 356.9,905.6 355.4,904.3 C353.9,903.0 352.7,902.1 351.3,902.2 C349.9,902.3 348.6,903.5 347.2,905.0 C345.8,906.5 344.2,909.1 342.6,911.4 C341.1,913.6 339.5,916.1 337.9,918.5 C336.3,920.9 334.8,923.7 333.2,925.9 C331.6,928.1 330.1,930.0 328.5,931.9 C326.9,933.8 325.4,935.9 323.9,937.3 C322.3,938.7 320.8,939.5 319.2,940.3 C317.6,941.1 316.1,941.6 314.5,942.1 C312.9,942.6 312.0,942.9 309.9,943.1 C307.8,943.3 306.5,943.2 301.7,943.4 C296.9,943.6 286.3,944.4 281.0,944.5 C275.7,944.6 273.2,943.9 270.0,943.8 C266.8,943.7 263.9,944.0 261.5,943.9 C259.1,943.8 257.6,943.5 255.8,943.1 C254.1,942.7 252.6,941.6 251.0,941.3 C249.4,941.0 248.0,941.1 246.3,941.2 C244.6,941.3 242.5,941.7 240.6,941.8 C238.7,941.9 236.8,942.2 234.9,941.8 C233.0,941.4 231.1,940.1 229.2,939.3 C227.3,938.5 225.4,937.6 223.5,937.0 C221.6,936.4 219.7,936.2 217.8,935.6 C215.9,935.0 214.0,934.2 212.1,933.2 C210.2,932.2 208.3,930.9 206.4,929.9 C204.5,928.9 202.6,927.4 200.7,927.3 C198.8,927.2 196.9,928.5 195.0,929.4 C193.1,930.3 191.2,931.8 189.3,932.7 C187.4,933.7 185.6,934.5 183.7,935.1 C181.8,935.7 179.9,935.9 178.0,936.5 C176.1,937.1 174.2,937.9 172.3,938.7 C170.4,939.5 168.5,940.6 166.6,941.3 C164.7,941.9 162.8,942.3 160.9,942.6 C159.0,942.9 158.7,942.9 155.2,943.0 C151.7,943.1 145.9,943.0 140.0,943.0 C134.1,943.0 127.9,943.2 120.0,943.3 C112.1,943.3 97.1,943.3 92.5,943.3 Z" fill="#83501f" fill-opacity="0.22" stroke="#83501f" stroke-opacity="0.25" stroke-width="1"/><path d="M92.5,942.5 C97.1,942.5 112.1,942.5 120.0,942.5 C127.9,942.5 134.1,942.3 140.0,942.2 C145.9,942.1 151.7,942.2 155.2,942.0 C158.7,941.8 159.0,941.6 160.9,941.1 C162.8,940.6 164.7,939.7 166.6,938.8 C168.5,937.9 170.4,936.6 172.3,935.7 C174.2,934.8 176.1,934.2 178.0,933.5 C179.9,932.8 181.8,932.4 183.7,931.6 C185.6,930.8 187.4,929.8 189.3,928.7 C191.2,927.6 193.1,926.0 195.0,924.9 C196.9,923.8 198.8,922.1 200.7,922.1 C202.6,922.1 204.5,923.8 206.4,924.9 C208.3,926.0 210.2,927.6 212.1,928.7 C214.0,929.8 215.9,930.8 217.8,931.6 C219.7,932.4 221.6,932.7 223.5,933.5 C225.4,934.3 227.3,935.4 229.2,936.3 C231.1,937.2 233.0,938.4 234.9,938.8 C236.8,939.2 238.7,938.9 240.6,938.8 C242.5,938.7 244.6,938.2 246.3,938.2 C248.0,938.2 249.4,938.3 251.0,938.8 C252.6,939.3 254.1,940.5 255.8,941.1 C257.6,941.7 259.1,942.1 261.5,942.4 C263.9,942.6 266.8,942.4 270.0,942.6 C273.2,942.8 275.7,943.6 281.0,943.5 C286.3,943.4 296.9,942.5 301.7,942.2 C306.5,941.9 307.8,942.0 309.9,941.6 C312.0,941.2 312.9,940.6 314.5,939.9 C316.1,939.2 317.6,938.4 319.2,937.3 C320.8,936.2 322.3,935.1 323.9,933.5 C325.4,931.9 326.9,929.6 328.5,927.6 C330.1,925.6 331.6,923.6 333.2,921.2 C334.8,918.8 336.3,915.7 337.9,913.0 C339.5,910.3 341.1,907.4 342.6,904.9 C344.2,902.4 345.8,899.5 347.2,897.8 C348.6,896.1 349.9,894.8 351.3,894.6 C352.7,894.4 353.9,895.4 355.4,896.7 C356.9,898.0 358.6,900.6 360.1,902.5 C361.7,904.4 363.1,906.5 364.7,907.8 C366.3,909.1 368.3,909.6 370.0,910.1 C371.7,910.6 373.3,910.3 374.9,910.5 C376.5,910.7 378.1,911.4 379.6,911.2 C381.2,911.1 382.6,910.5 384.2,909.6 C385.8,908.7 387.3,907.0 388.9,905.8 C390.5,904.6 391.9,903.1 393.6,902.6 C395.4,902.1 397.4,902.7 399.4,903.0 C401.3,903.3 403.4,904.3 405.3,904.2 C407.2,904.1 409.0,903.4 411.1,902.6 C413.2,901.8 415.8,900.8 418.1,899.5 C420.4,898.2 423.0,896.4 425.1,894.9 C427.2,893.4 429.4,891.1 431.0,890.2 C432.6,889.3 433.1,889.4 434.5,889.5 C435.9,889.6 437.6,889.8 439.1,890.9 C440.7,892.0 442.2,893.6 443.8,896.0 C445.4,898.4 446.9,902.1 448.5,905.4 C450.1,908.7 451.6,912.6 453.1,915.9 C454.7,919.2 456.2,922.5 457.8,925.2 C459.4,927.9 460.8,930.2 462.5,932.2 C464.2,934.2 466.4,935.7 468.3,936.9 C470.2,938.1 473.0,938.8 474.2,939.2 C475.4,939.6 474.0,939.6 475.5,939.2 C477.0,938.8 480.4,937.7 483.1,937.0 C485.8,936.3 489.3,934.9 491.9,934.9 C494.5,934.9 495.9,936.0 498.5,937.0 C501.1,938.0 504.3,940.1 507.2,941.0 C510.1,941.9 513.1,942.0 516.0,942.1 C518.9,942.2 522.2,941.9 524.7,941.4 C527.2,940.9 529.1,939.9 531.3,939.2 C533.5,938.5 535.3,937.5 537.9,937.0 C540.5,936.5 544.0,936.6 546.6,936.2 C549.2,935.8 551.0,935.0 553.2,934.4 C555.4,933.8 557.6,933.1 559.8,932.7 C562.0,932.3 564.3,932.0 566.3,932.2 C568.3,932.4 570.0,933.1 571.8,934.0 C573.6,934.9 575.3,936.5 577.3,937.7 C579.3,938.9 581.3,940.3 583.9,941.0 C586.5,941.7 575.8,941.9 592.6,942.1 C609.5,942.3 669.6,942.1 685.0,942.1" stroke="#83501f" stroke-width="1.6" fill="none" stroke-linejoin="round" stroke-linecap="round"/><path d="M9.10,864.40V942.20 M0,864.40H9.10 M0,879.96H9.10 M0,895.52H9.10 M0,911.08H9.10 M0,926.64H9.10 M0,942.20H9.10 M34.07,945.70H658.40 M658.40,945.70V954.70 M636.10,945.70V949.90 M613.80,945.70V949.90 M591.51,945.70V949.90 M569.21,945.70V954.70 M546.91,945.70V949.90 M524.62,945.70V949.90 M502.32,945.70V949.90 M480.02,945.70V954.70 M457.72,945.70V949.90 M435.42,945.70V949.90 M413.13,945.70V949.90 M390.83,945.70V954.70 M368.53,945.70V949.90 M346.23,945.70V949.90 M323.94,945.70V949.90 M301.64,945.70V954.70 M279.34,945.70V949.90 M257.04,945.70V949.90 M234.75,945.70V949.90 M212.45,945.70V954.70 M190.15,945.70V949.90 M167.85,945.70V949.90 M145.56,945.70V949.90 M123.26,945.70V954.70 M100.96,945.70V949.90 M78.66,945.70V949.90 M56.37,945.70V949.90 M34.07,945.70V954.70" stroke="#000" stroke-width="1.4" fill="none" stroke-linecap="butt"/><text x="658.40" y="972.15" font-size="14.8" text-anchor="middle" stroke="#000" stroke-width="0.3">1 cal BC</text><text x="569.21" y="972.15" font-size="14.8" text-anchor="middle" stroke="#000" stroke-width="0.3">1000</text><text x="480.02" y="972.15" font-size="14.8" text-anchor="middle" stroke="#000" stroke-width="0.3">2000</text><text x="390.83" y="972.15" font-size="14.8" text-anchor="middle" stroke="#000" stroke-width="0.3">3000</text><text x="301.64" y="972.15" font-size="14.8" text-anchor="middle" stroke="#000" stroke-width="0.3">4000</text><text x="212.45" y="972.15" font-size="14.8" text-anchor="middle" stroke="#000" stroke-width="0.3">5000</text><text x="123.26" y="972.15" font-size="14.8" text-anchor="middle" stroke="#000" stroke-width="0.3">6000</text><text x="34.07" y="972.15" font-size="14.8" text-anchor="middle" stroke="#000" stroke-width="0.3">7000</text><text x="35.1" y="883.90" font-size="14.8" stroke="#000" stroke-width="0.25">Malta</text><text x="161.35" y="930.60" font-size="21.4" text-anchor="middle" stroke="#000" stroke-width="0.2">A</text><text x="201.20" y="907.70" font-size="21.4" text-anchor="middle" stroke="#000" stroke-width="0.2">B</text><text x="350.40" y="878.10" font-size="21.4" text-anchor="middle" stroke="#000" stroke-width="0.2">D</text><text x="433.90" y="874.30" font-size="21.4" text-anchor="middle" stroke="#000" stroke-width="0.2">E</text><text x="566.70" y="920.20" font-size="21.4" text-anchor="middle" stroke="#000" stroke-width="0.2">H</text></g>
</svg></body></html>
